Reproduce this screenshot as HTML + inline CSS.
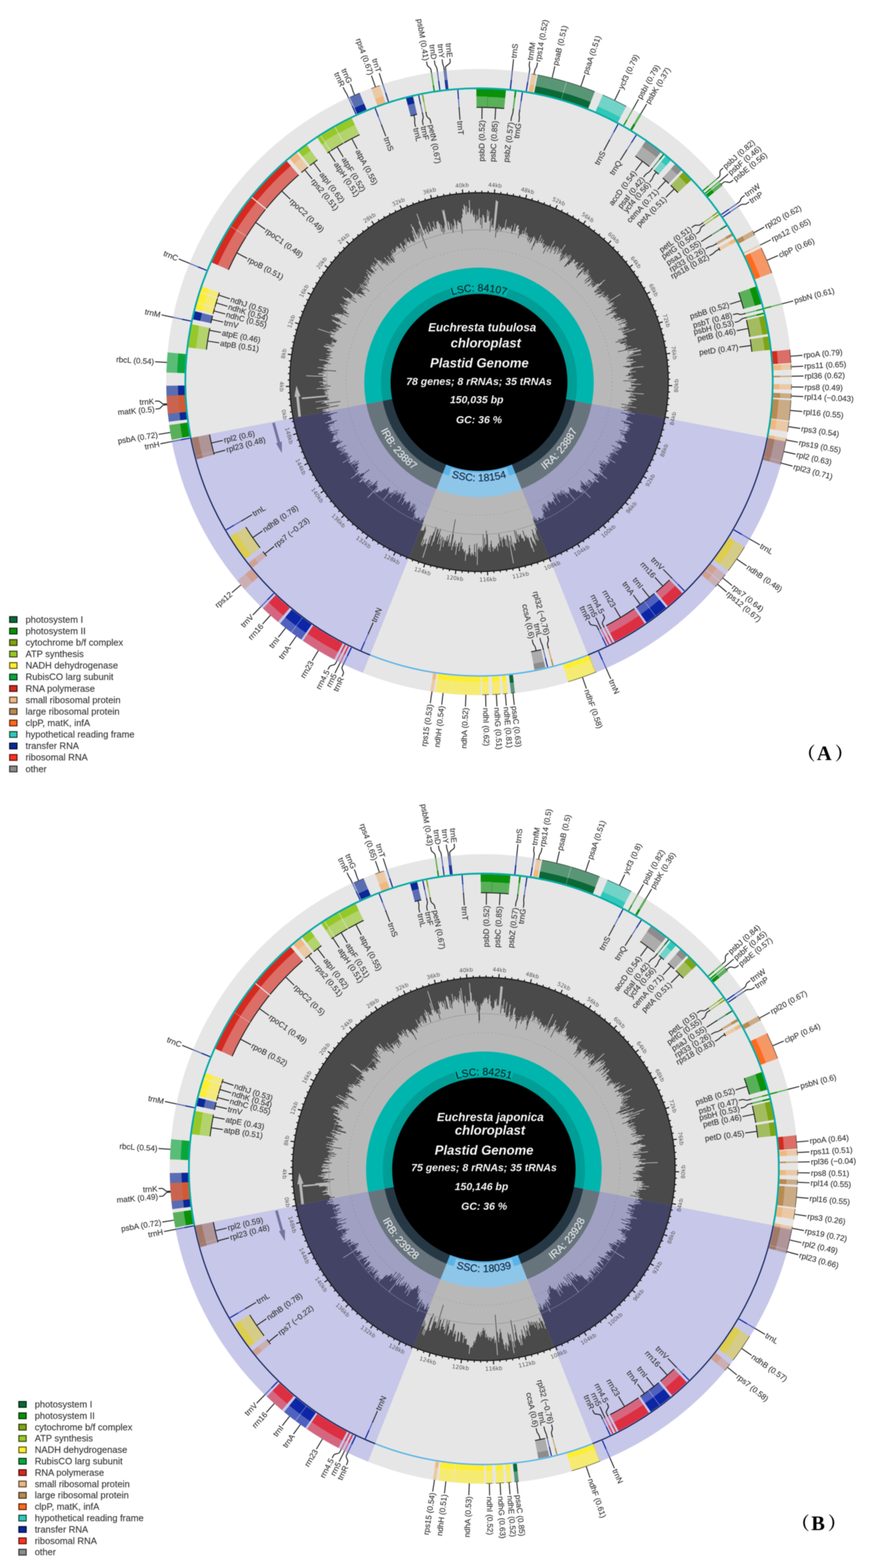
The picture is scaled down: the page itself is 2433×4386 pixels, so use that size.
<!DOCTYPE html>
<html lang="en"><head><meta charset="utf-8"><title>Euchresta plastid genomes</title>
<style>html,body{margin:0;padding:0;background:#fff}svg{display:block;filter:blur(0.85px)}</style></head><body>
<svg width="2433" height="4386" viewBox="0 0 2433 4386">
<rect width="2433" height="4386" fill="#fff"/>
<ellipse cx="1339.6" cy="1068.8" rx="875" ry="875.9" fill="#e6e6e6"/>
<ellipse cx="1339.6" cy="1068.8" rx="529.4" ry="529.9" fill="#b8b8b8"/>
<path d="M819.7 1169A529.4 529.9 0 1 1 1859.4 1169.4L1744.6 1147.2 L1744.9 1145.4L1753.5 1147 L1753.9 1145.1L1755.4 1145.4 L1755.7 1143.5L1737.4 1140.2 L1737.7 1138.5L1759.5 1142.3 L1759.8 1140.4L1746.5 1138.1 L1746.9 1136.3L1778.8 1141.6 L1779.1 1139.6L1754.5 1135.7 L1754.8 1133.8L1737.4 1131.1 L1737.7 1129.3L1757.2 1132.3 L1757.5 1130.4L1766.9 1131.8 L1767.2 1129.8L1757 1128.4 L1757.2 1126.5L1758.3 1126.7 L1758.6 1124.8L1765.6 1125.7 L1765.9 1123.8L1772.2 1124.6 L1772.5 1122.7L1765.6 1121.8 L1765.8 1119.9L1762.5 1119.5 L1762.7 1117.6L1780.1 1119.6 L1780.4 1117.6L1777.8 1117.4 L1778 1115.4L1757.1 1113.2 L1757.3 1111.3L1758 1111.4 L1758.2 1109.5L1761.2 1109.8 L1761.3 1107.9L1776 1109.2 L1776.2 1107.3L1763.7 1106.2 L1763.8 1104.3L1771 1104.9 L1771.1 1102.9L1761.3 1102.1 L1761.4 1100.2L1800.5 1103.2 L1800.6 1101.1L1768.1 1098.8 L1768.2 1096.9L1752 1095.8 L1752.2 1094L1748.4 1093.7 L1748.5 1091.9L1773.6 1093.3 L1773.7 1091.4L1768.3 1091.1 L1768.4 1089.2L1774.9 1089.5 L1775 1087.5L1759 1086.8 L1759.1 1084.9L1776.6 1085.6 L1776.7 1083.7L1779 1083.7 L1779.1 1081.8L1765.9 1081.4 L1765.9 1079.5L1764.5 1079.4 L1764.6 1077.5L1764.7 1077.5 L1764.7 1075.6L1792.6 1076.1 L1792.6 1074L1773.7 1073.8 L1773.7 1071.9L1765.5 1071.8 L1765.5 1069.9L1762.6 1069.9 L1762.6 1068L1774.2 1068 L1774.2 1066L1742.8 1066.2 L1742.8 1064.4L1779.1 1064 L1779.1 1062L1780.6 1062 L1780.5 1060L1756.6 1060.5 L1756.6 1058.6L1763.4 1058.5 L1763.4 1056.5L1760.1 1056.6 L1760 1054.8L1766.3 1054.5 L1766.2 1052.6L1771.2 1052.4 L1771.1 1050.5L1750.7 1051.4 L1750.6 1049.5L1756.4 1049.2 L1756.3 1047.4L1757.9 1047.3 L1757.8 1045.4L1756.7 1045.5 L1756.6 1043.6L1763.9 1043.2 L1763.7 1041.3L1778.2 1040.3 L1778.1 1038.4L1760.5 1039.6 L1760.4 1037.7L1761.4 1037.6 L1761.2 1035.7L1764 1035.5 L1763.9 1033.6L1766.6 1033.4 L1766.4 1031.4L1771.1 1031 L1770.9 1029.1L1800.1 1026.4 L1799.9 1024.3L1753.6 1028.8 L1753.4 1027L1748.9 1027.4 L1748.7 1025.6L1742.5 1026.2 L1742.3 1024.4L1765.3 1021.9 L1765.1 1020L1765.3 1020 L1765.1 1018L1764.4 1018.1 L1764.2 1016.2L1770.4 1015.4 L1770.2 1013.5L1778.2 1012.5 L1777.9 1010.5L1760.8 1012.8 L1760.6 1010.9L1752.8 1012 L1752.5 1010.1L1770.9 1007.5 L1770.6 1005.6L1769.9 1005.7 L1769.6 1003.7L1759.7 1005.2 L1759.4 1003.3L1751.5 1004.6 L1751.2 1002.7L1757.7 1001.7 L1757.4 999.8L1753.2 1000.5 L1752.9 998.6L1793 991.8 L1792.6 989.8L1759.1 995.6 L1758.7 993.8L1765.3 992.6 L1765 990.7L1773.1 989.2 L1772.8 987.2L1769.4 987.9 L1769 985.9L1791.5 981.6 L1791.1 979.6L1792.6 979.3 L1792.2 977.2L1771.3 981.5 L1770.9 979.5L1756.3 982.5 L1756 980.7L1782.2 975.1 L1781.8 973.1L1728.3 984.7 L1727.9 983L1747.2 978.7 L1746.8 976.9L1751 975.9 L1750.6 974.1L1750 974.2 L1749.5 972.4L1764.5 968.8 L1764 966.9L1749.3 970.5 L1748.8 968.6L1751.6 968 L1751.1 966.1L1753.5 965.5 L1753.1 963.7L1744.9 965.7 L1744.4 963.9L1747.9 963 L1747.4 961.2L1749.5 960.6 L1749 958.8L1735.7 962.4 L1735.3 960.6L1735.8 960.4 L1735.3 958.7L1732.5 959.4 L1732 957.7L1753 951.7 L1752.5 949.9L1721.6 958.8 L1721.1 957.1L1741.6 951.1 L1741 949.3L1728.4 953 L1727.9 951.3L1746.5 945.6 L1746 943.8L1754.6 941.2 L1754 939.3L1751.7 940 L1751.1 938.2L1750.2 938.5 L1749.6 936.6L1743.7 938.5 L1743.1 936.7L1742.2 937 L1741.7 935.2L1746.3 933.6 L1745.7 931.8L1777.2 921.2 L1776.5 919.2L1741 931.4 L1740.3 929.6L1740.1 929.7 L1739.4 927.9L1759.4 920.8 L1758.7 919L1746.4 923.4 L1745.7 921.5L1737.8 924.4 L1737.1 922.6L1745.1 919.7 L1744.4 917.9L1729.8 923.4 L1729.1 921.6L1753.9 912.2 L1753.2 910.4L1748 912.4 L1747.2 910.6L1751.7 908.8 L1751 907L1748.7 907.9 L1748 906L1754.2 903.6 L1753.5 901.7L1743.4 905.7 L1742.7 903.9L1730.4 909 L1729.7 907.2L1751.9 898 L1751.2 896.1L1748.9 897.1 L1748.1 895.3L1736.9 900 L1736.1 898.2L1748.5 892.9 L1747.7 891.1L1740.5 894.2 L1739.7 892.4L1728.6 897.3 L1727.8 895.6L1722.5 898 L1721.7 896.3L1735.7 889.9 L1734.9 888.2L1733.2 888.9 L1732.4 887.2L1720 892.9 L1719.2 891.2L1720.2 890.7 L1719.4 889L1719.9 888.8 L1719.1 887.1L1709.5 891.6 L1708.7 890L1716.7 886.1 L1715.9 884.4L1715.6 884.6 L1714.8 882.9L1725.7 877.5 L1724.9 875.7L1722.1 877.1 L1721.3 875.4L1717.4 877.3 L1716.5 875.7L1721.3 873.2 L1720.4 871.5L1708.6 877.6 L1707.8 875.9L1694.7 882.8 L1693.9 881.2L1713 871.1 L1712.1 869.4L1708.5 871.3 L1707.6 869.6L1724.5 860.5 L1723.6 858.8L1711.8 865.2 L1710.9 863.6L1716.9 860.3 L1715.9 858.6L1703.4 865.5 L1702.5 863.9L1695.5 867.9 L1694.6 866.3L1711.3 856.7 L1710.4 855.1L1717.3 851 L1716.3 849.4L1709.9 853.1 L1708.9 851.5L1716.8 846.8 L1715.8 845.1L1711.9 847.4 L1710.9 845.8L1701.8 851.2 L1700.8 849.6L1703.4 848 L1702.5 846.4L1705.3 844.6 L1704.3 843L1735.5 823.7 L1734.4 821.9L1699.2 843.9 L1698.2 842.3L1700.9 840.6 L1699.9 839L1705.3 835.5 L1704.3 833.9L1695.1 839.7 L1694.1 838.1L1701.6 833.3 L1700.5 831.7L1700.2 831.9 L1699.1 830.3L1693.6 833.9 L1692.6 832.3L1701.6 826.3 L1700.5 824.6L1688.3 832.9 L1687.3 831.3L1688.6 830.4 L1687.6 828.8L1685.4 830.3 L1684.3 828.7L1690.5 824.4 L1689.4 822.9L1674.8 833.1 L1673.7 831.6L1684.8 823.8 L1683.7 822.3L1690.8 817.1 L1689.7 815.6L1679.1 823.3 L1677.9 821.7L1675.1 823.8 L1674 822.3L1672.1 823.7 L1671 822.2L1665.7 826.2 L1664.6 824.7L1678.4 814.4 L1677.2 812.8L1668.3 819.6 L1667.1 818.2L1673.4 813.4 L1672.2 811.9L1663.2 818.9 L1662.1 817.4L1662.8 816.9 L1661.6 815.4L1673.5 806.1 L1672.3 804.6L1669.1 807.1 L1668 805.7L1683.9 792.9 L1682.7 791.3L1692.4 783.5 L1691.1 781.9L1674.1 795.8 L1672.8 794.3L1672.9 794.3 L1671.7 792.8L1658.5 803.7 L1657.3 802.2L1655.5 803.8 L1654.3 802.4L1660.1 797.5 L1658.9 796L1656.1 798.4 L1654.9 797L1653.8 797.9 L1652.6 796.5L1659 790.9 L1657.8 789.4L1644 801.6 L1642.8 800.2L1653.4 790.8 L1652.1 789.4L1656.5 785.5 L1655.3 784.1L1653 786.1 L1651.7 784.7L1655.8 781 L1654.5 779.5L1644.3 788.9 L1643 787.6L1636.7 793.4 L1635.5 792.1L1652.6 776.1 L1651.2 774.7L1646.1 779.6 L1644.8 778.2L1635.8 786.8 L1634.5 785.5L1650.7 769.9 L1649.4 768.5L1646.3 771.5 L1644.9 770.2L1645.2 769.9 L1643.8 768.6L1647.2 765.2 L1645.8 763.8L1641.7 768 L1640.3 766.6L1647.7 759.3 L1646.3 757.9L1635 769.3 L1633.7 768L1646.8 754.5 L1645.4 753.1L1632 767 L1630.6 765.7L1635 761.1 L1633.6 759.8L1631.3 762.3 L1629.9 761L1634.2 756.4 L1632.8 755L1612.3 777 L1611 775.8L1616.9 769.4 L1615.6 768.1L1634 748.1 L1632.6 746.8L1629.6 750 L1628.1 748.7L1627.7 749.2 L1626.3 747.9L1621.4 753.3 L1620 752.1L1617.2 755.3 L1615.8 754L1631.6 736 L1630.1 734.6L1613.1 754.3 L1611.6 753.1L1613.8 750.6 L1612.4 749.3L1615.3 745.9 L1613.9 744.6L1611.4 747.5 L1610 746.3L1610.3 745.9 L1608.9 744.7L1617.7 734 L1616.2 732.8L1615.2 734.1 L1613.7 732.8L1611.9 735 L1610.4 733.8L1607.5 737.4 L1606 736.2L1605.9 736.3 L1604.4 735.1L1607.9 730.7 L1606.4 729.5L1608.3 727.1 L1606.7 725.9L1606.8 725.8 L1605.3 724.6L1597.8 734.4 L1596.3 733.2L1589.9 741.4 L1588.5 740.3L1589.3 739.2 L1587.9 738.1L1582.2 745.5 L1580.8 744.5L1578.6 747.4 L1577.1 746.3L1598.3 717.7 L1596.7 716.5L1589.6 726.2 L1588.1 725.1L1597.2 712.5 L1595.6 711.4L1588.4 721.4 L1586.8 720.3L1590.9 714.5 L1589.3 713.4L1585.1 719.5 L1583.5 718.4L1585.7 715.1 L1584.1 714L1576.9 724.5 L1575.4 723.4L1585 709.4 L1583.4 708.3L1570 728.1 L1568.4 727.1L1566 730.7 L1564.5 729.7L1574.3 714.9 L1572.7 713.9L1566.7 723.1 L1565.1 722L1568.5 716.9 L1566.9 715.8L1571.9 708.1 L1570.3 707L1569.9 707.6 L1568.3 706.6L1581.7 685.3 L1580 684.2L1564.4 709.2 L1562.7 708.2L1569.8 696.9 L1568.1 695.8L1558.6 711.4 L1557 710.4L1562 702.1 L1560.3 701.2L1563.2 696.3 L1561.6 695.3L1563.2 692.5 L1561.5 691.5L1550 711.2 L1548.4 710.2L1560.3 689.7 L1558.6 688.7L1550.7 702.4 L1549.1 701.5L1550.6 698.9 L1548.9 697.9L1554.1 688.8 L1552.3 687.9L1550.2 691.8 L1548.5 690.8L1538.9 708.1 L1537.3 707.2L1545.5 692.2 L1543.8 691.3L1539.8 698.7 L1538.2 697.8L1551 673.9 L1549.2 672.9L1537.4 695.2 L1535.7 694.3L1530.5 704.3 L1528.8 703.5L1537 687.7 L1535.3 686.8L1533.3 690.7 L1531.6 689.9L1531.3 690.4 L1529.6 689.5L1519.7 709.3 L1518.1 708.5L1528.6 687.2 L1526.9 686.4L1525.5 689.3 L1523.8 688.4L1521.2 693.9 L1519.5 693.1L1519.8 692.4 L1518.1 691.6L1522.9 681.5 L1521.2 680.7L1518.4 686.5 L1516.7 685.7L1519.3 680.2 L1517.5 679.4L1521.3 671.2 L1519.5 670.4L1515.2 680 L1513.4 679.2L1512.8 680.6 L1511.1 679.8L1516.7 666.9 L1514.9 666.2L1510.9 675.3 L1509.2 674.6L1507.1 679.4 L1505.3 678.6L1514.2 657.7 L1512.4 657L1502.3 681 L1500.5 680.3L1501.2 678.7 L1499.4 678L1501.6 672.7 L1499.8 672L1493.1 688.6 L1491.4 687.9L1486.7 699.7 L1485 699.1L1497.9 666.5 L1496.1 665.8L1495.1 668.2 L1493.3 667.5L1495.8 661.1 L1493.9 660.4L1492.7 663.6 L1490.9 662.9L1485.7 677 L1483.9 676.4L1482.1 681.3 L1480.4 680.6L1486.2 664.6 L1484.4 664L1481.8 671.2 L1480 670.6L1477.7 677 L1476 676.4L1480.7 662.7 L1478.9 662.1L1475.5 672 L1473.7 671.4L1477.4 660.4 L1475.6 659.8L1475.9 659 L1474 658.4L1475.8 653 L1473.9 652.4L1471.8 659 L1469.9 658.4L1472.6 650.2 L1470.7 649.6L1469 655.1 L1467.1 654.5L1472.6 636.5 L1470.7 636L1464.7 655.8 L1462.8 655.2L1463.1 654.2 L1461.3 653.7L1463.9 644.8 L1462 644.3L1458.5 656.4 L1456.6 655.9L1456.9 655 L1455 654.4L1454.1 657.9 L1452.2 657.4L1449.7 666.4 L1447.9 665.9L1451.9 651 L1450.1 650.5L1452.7 640.7 L1450.7 640.2L1450.5 641 L1448.6 640.5L1451.2 630.4 L1449.2 629.9L1449.2 629.8 L1447.3 629.3L1446.4 632.8 L1444.5 632.3L1440.8 647.4 L1439 646.9L1439.1 646.4 L1437.2 645.9L1441.9 625.6 L1439.9 625.2L1435.2 645.9 L1433.3 645.5L1431.5 653.8 L1429.6 653.4L1431.1 646.7 L1429.2 646.3L1432.5 630.6 L1430.5 630.2L1428.5 639.8 L1426.6 639.4L1426.3 640.8 L1424.4 640.4L1425.4 635.4 L1423.5 635L1422.8 638.6 L1420.8 638.2L1421.3 636 L1419.3 635.6L1419.5 634.7 L1417.5 634.4L1416 642.7 L1414.1 642.4L1414.3 641.1 L1412.4 640.8L1416.9 614.4 L1414.9 614.1L1411 637.5 L1409.1 637.1L1409.2 636.1 L1407.3 635.8L1406.8 638.8 L1404.9 638.5L1404.6 640.6 L1402.7 640.3L1401.5 648.1 L1399.6 647.8L1401.5 634.6 L1399.6 634.4L1399.6 633.8 L1397.7 633.5L1396.3 643.6 L1394.4 643.4L1396.4 628.4 L1394.4 628.2L1391.7 650.1 L1389.8 649.9L1391.1 639.1 L1389.1 638.9L1386.2 664.5 L1384.4 664.3L1386.6 644 L1384.7 643.8L1393.2 563.6 L1391 563.3L1391 562.8 L1388.8 562.6L1389 559.8 L1386.7 559.6L1379.5 637.6 L1377.6 637.4L1378.3 629.2 L1376.3 629L1375.9 634.3 L1373.9 634.2L1375.8 610.4 L1373.8 610.2L1370.9 648.8 L1369 648.6L1371.2 617.4 L1369.2 617.3L1369.1 618.5 L1367.1 618.3L1368.7 591.6 L1366.6 591.5L1365.8 605.1 L1363.7 605L1364.7 586.9 L1362.5 586.8L1360.8 622.2 L1358.8 622.1L1358.8 622.4 L1356.8 622.4L1356.8 621.3 L1354.8 621.2L1355.3 609 L1353.2 608.9L1353.4 602.5 L1351.3 602.5L1351.3 600.8 L1349.2 600.8L1348.4 639 L1346.5 639L1347 609.1 L1344.9 609.1L1344.7 628.6 L1342.7 628.6L1342.9 608.5 L1340.8 608.5L1340.9 584.1 L1338.7 584.1L1338.8 613 L1336.7 613L1336.7 616.8 L1334.7 616.8L1334.6 602 L1332.5 602L1332.7 618.7 L1330.7 618.8L1330.8 623.3 L1328.8 623.4L1328.2 599 L1326.1 599.1L1326.3 606.8 L1324.3 606.9L1324.1 601.8 L1322 601.9L1321.4 586.6 L1319.3 586.7L1319.5 593.6 L1317.4 593.7L1317.6 598.5 L1315.5 598.6L1313.5 559.5 L1311.2 559.7L1312.5 581.3 L1310.3 581.4L1311 593.9 L1308.9 594L1308.8 593.1 L1306.7 593.3L1305.6 576.7 L1303.4 576.9L1305 599.4 L1302.9 599.6L1301.1 576.2 L1298.9 576.4L1298.5 571.8 L1296.3 572L1297.5 586.7 L1295.4 586.9L1295 583.2 L1292.9 583.4L1294.4 598.9 L1292.3 599.1L1293.3 609.1 L1291.2 609.4L1291.4 611.2 L1289.3 611.4L1294 653.5 L1292.1 653.7L1288.8 624.6 L1286.8 624.8L1286.5 622.2 L1284.5 622.4L1284.4 621.8 L1282.4 622.1L1281.6 616 L1279.6 616.3L1280.1 619.8 L1278 620L1279.3 629.5 L1277.4 629.8L1278.9 640.7 L1277 641L1273.5 617 L1271.5 617.3L1270.7 612.2 L1268.6 612.5L1271.3 629.6 L1269.3 629.9L1270.7 638.5 L1268.8 638.8L1267.7 632.3 L1265.8 632.6L1268.9 650.9 L1267 651.3L1262.4 625.1 L1260.4 625.4L1263.1 640.4 L1261.2 640.8L1261.8 644.1 L1259.9 644.4L1255.5 620.8 L1253.5 621.2L1253 618.7 L1251 619.1L1255.5 642.4 L1253.6 642.7L1242.3 586.5 L1240.1 586.9L1240.8 590.3 L1238.7 590.7L1237.8 586.7 L1235.7 587.1L1244.7 629.1 L1242.7 629.6L1244.1 635.7 L1242.2 636.1L1244.9 648.2 L1243 648.6L1240.7 638.4 L1238.7 638.9L1242.2 653.8 L1240.4 654.2L1234.1 628 L1232.1 628.4L1236.9 648.1 L1235 648.6L1229.1 625 L1227.2 625.5L1225 617.2 L1223 617.7L1223.9 621.1 L1221.9 621.6L1221.4 619.6 L1219.3 620.1L1221.7 629.1 L1219.8 629.6L1222.2 638.7 L1220.3 639.2L1220.5 639.8 L1218.6 640.3L1212.3 618.3 L1210.3 618.9L1216.6 640.8 L1214.7 641.3L1212.8 634.8 L1210.8 635.4L1210.7 635.1 L1208.8 635.6L1211.2 643.6 L1209.3 644.1L1210.2 647 L1208.3 647.6L1199.8 620.5 L1197.8 621.1L1205.7 646 L1203.8 646.6L1203.9 646.9 L1202 647.5L1202.2 648.1 L1200.3 648.7L1194.9 632.4 L1193 633.1L1200.1 654.2 L1198.2 654.8L1196.2 649.1 L1194.4 649.7L1190.6 638.7 L1188.6 639.4L1189.6 642.3 L1187.7 643L1191.7 654 L1189.8 654.7L1185.6 643 L1183.7 643.7L1166.8 597.7 L1164.7 598.5L1172.4 619.2 L1170.4 620L1184.7 658 L1182.9 658.7L1174.9 637.7 L1172.9 638.5L1194.6 694.3 L1192.9 694.9L1171.8 641.3 L1169.9 642.1L1174.4 653.3 L1172.5 654L1174.9 660 L1173.1 660.8L1168.7 649.9 L1166.8 650.7L1173.2 666.1 L1171.4 666.9L1166.7 655.6 L1164.8 656.4L1155.3 633.9 L1153.3 634.7L1150 626.9 L1148 627.7L1165.7 668.6 L1163.9 669.4L1153.2 645 L1151.3 645.8L1156.7 657.8 L1154.8 658.6L1159.6 669.3 L1157.8 670.1L1160.9 676.8 L1159.1 677.6L1157.5 674.1 L1155.7 674.9L1156.7 677.1 L1155 677.9L1152.8 673.3 L1151 674.1L1150.4 672.8 L1148.6 673.6L1144 664.1 L1142.2 665L1147.3 675.5 L1145.6 676.4L1147.6 680.4 L1145.8 681.3L1142.8 675.2 L1141 676.1L1141 676 L1139.2 676.9L1133.9 666.4 L1132.1 667.3L1138.6 680 L1136.9 680.9L1131.3 670.2 L1129.5 671.2L1138.7 688.6 L1137 689.5L1134.1 684.1 L1132.4 685L1132.4 684.9 L1130.6 685.9L1131.2 686.9 L1129.5 687.8L1132.6 693.4 L1130.9 694.4L1135.1 701.9 L1133.4 702.8L1120.1 679.1 L1118.3 680.1L1119.8 682.6 L1118 683.6L1130.5 705.2 L1128.8 706.1L1120.7 692.2 L1119 693.2L1120 694.7 L1118.3 695.7L1117.3 694.1 L1115.7 695.1L1112.2 689.4 L1110.5 690.4L1109.1 688 L1107.4 689L1111.5 695.8 L1109.8 696.8L1107.2 692.6 L1105.5 693.6L1107.4 696.6 L1105.7 697.6L1108 701.4 L1106.4 702.4L1106.9 703.1 L1105.2 704.2L1106.1 705.5 L1104.4 706.5L1098 696.6 L1096.3 697.6L1102.9 707.7 L1101.2 708.7L1100.3 707.2 L1098.6 708.3L1094.2 701.7 L1092.6 702.8L1099 712.3 L1097.4 713.4L1095.3 710.3 L1093.7 711.4L1104 726.5 L1102.5 727.5L1094 715.3 L1092.4 716.4L1104.3 733.3 L1102.8 734.3L1101.9 733.2 L1100.4 734.2L1096.8 729.2 L1095.3 730.3L1084.4 715.2 L1082.8 716.3L1096.4 735 L1094.9 736.1L1089.4 728.6 L1087.9 729.8L1091.7 734.9 L1090.2 736L1085 729 L1083.4 730.1L1075.5 719.6 L1073.9 720.8L1086.1 736.8 L1084.6 737.9L1088 742.3 L1086.5 743.4L1079.8 734.7 L1078.3 735.9L1082.5 741.3 L1081.1 742.5L1076.1 736.2 L1074.6 737.4L1073.2 735.6 L1071.7 736.8L1064.5 727.9 L1063 729.1L1070.9 738.8 L1069.4 740.1L1059 727.4 L1057.5 728.7L1056.9 728 L1055.4 729.3L1048.2 720.7 L1046.7 722L1056.9 734.1 L1055.4 735.4L1072.7 755.6 L1071.3 756.8L1052.5 735 L1051 736.3L1052.6 738.2 L1051.2 739.5L1052.7 741.2 L1051.2 742.5L1043.8 734.1 L1042.3 735.5L1050.3 744.4 L1048.8 745.7L1048 744.8 L1046.6 746.1L1041.7 740.7 L1040.2 742.1L1053.7 756.8 L1052.3 758.1L1037.7 742.3 L1036.2 743.6L1039.8 747.5 L1038.4 748.9L1037 747.4 L1035.6 748.8L1046.6 760.4 L1045.3 761.7L1048.5 765.1 L1047.1 766.4L1042.1 761.2 L1040.8 762.6L1042.2 764 L1040.8 765.4L1034.4 758.9 L1033 760.3L1026.8 754 L1025.4 755.4L1038.2 768.2 L1036.9 769.5L1039.8 772.4 L1038.5 773.8L1024.9 760.4 L1023.5 761.8L1029.8 768 L1028.4 769.4L1028.7 769.6 L1027.3 771L1029.5 773 L1028.1 774.4L1034.1 780.1 L1032.8 781.5L1033 781.6 L1031.7 782.9L1020.5 772.6 L1019.2 774L1032 785.8 L1030.7 787.2L1024.5 781.5 L1023.2 782.9L1032.9 791.7 L1031.6 793L1019.6 782.3 L1018.4 783.7L1022.5 787.4 L1021.2 788.8L1027.7 794.5 L1026.5 796L1018.1 788.6 L1016.8 790.1L1028.5 800.1 L1027.3 801.5L1023.5 798.3 L1022.3 799.7L1020.6 798.3 L1019.4 799.7L1013.5 794.8 L1012.3 796.3L1034.1 814.4 L1032.9 815.7L1006.5 793.9 L1005.3 795.4L1022.8 809.8 L1021.6 811.2L1008.2 800.3 L1007 801.8L1017.7 810.4 L1016.5 811.8L1015.4 811 L1014.3 812.4L1010.6 809.5 L1009.5 811L1013.1 813.8 L1011.9 815.3L1020.4 821.8 L1019.2 823.2L1016.8 821.3 L1015.6 822.8L1022.1 827.7 L1021 829.1L1013.9 823.7 L1012.8 825.2L1006.5 820.5 L1005.4 822L1004.5 821.3 L1003.4 822.9L999.5 820 L998.4 821.5L1012.2 831.6 L1011.1 833L994.4 821 L993.2 822.5L992.2 821.8 L991.1 823.4L964.4 804.5 L963.2 806.2L980 817.9 L978.9 819.6L984.1 823.2 L983 824.8L987.4 827.8 L986.3 829.4L984.4 828 L983.3 829.6L994.4 837.1 L993.3 838.6L983.9 832.4 L982.9 834L982.6 833.8 L981.6 835.4L997.1 845.5 L996.1 847.1L972.4 831.8 L971.3 833.4L971.1 833.3 L970.1 835L968 833.7 L967 835.3L957.5 829.4 L956.5 831.1L962.7 835 L961.6 836.7L979.8 847.8 L978.8 849.5L968.5 843.2 L967.5 844.8L974.3 848.9 L973.3 850.6L963.9 845 L962.9 846.7L973.1 852.7 L972.1 854.3L970.5 853.4 L969.6 855.1L962.2 850.8 L961.3 852.5L963.6 853.9 L962.6 855.6L951.6 849.3 L950.6 851.1L972 863 L971.1 864.7L955.5 856 L954.5 857.8L961.8 861.8 L960.9 863.5L960 863 L959.1 864.7L966.7 868.8 L965.8 870.5L969.8 872.6 L968.9 874.2L976.7 878.3 L975.8 879.9L970.2 877 L969.4 878.7L962.3 875 L961.4 876.7L962.4 877.3 L961.6 879L974.7 885.5 L973.9 887.2L958.3 879.4 L957.4 881.1L951 878 L950.2 879.8L941.7 875.6 L940.9 877.4L945.9 879.8 L945 881.6L936.5 877.6 L935.6 879.4L936.8 879.9 L936 881.7L937 882.2 L936.2 884L928.1 880.3 L927.3 882.2L950.1 892.5 L949.3 894.3L953.2 896 L952.5 897.8L953.3 898.1 L952.5 899.9L969 907.1 L968.3 908.7L946.6 899.4 L945.9 901.2L929.2 894.1 L928.4 895.9L931 897 L930.2 898.8L938.4 902.2 L937.6 904L951.2 909.6 L950.5 911.3L950.3 911.2 L949.6 913L956.6 915.8 L956 917.5L953.1 916.4 L952.4 918.1L941.7 913.9 L941 915.7L940 915.4 L939.3 917.2L948 920.5 L947.4 922.2L943.4 920.8 L942.8 922.5L947 924.1 L946.4 925.9L931.9 920.6 L931.3 922.4L941.8 926.2 L941.2 928L940.1 927.6 L939.5 929.4L936.9 928.5 L936.3 930.3L923.2 925.8 L922.5 927.7L928.1 929.6 L927.5 931.4L889.8 918.9 L889.2 920.9L935.8 936.2 L935.2 938.1L927.2 935.5 L926.6 937.3L922.5 936 L921.9 937.9L925.5 939 L924.9 940.9L923.9 940.6 L923.3 942.4L932.5 945.2 L931.9 947L936.9 948.5 L936.3 950.3L943.4 952.4 L942.9 954.2L940.1 953.4 L939.6 955.2L940.4 955.4 L939.9 957.2L939.5 957.1 L939 958.9L927 955.6 L926.5 957.4L930.5 958.5 L930 960.4L928.4 959.9 L927.9 961.8L925.5 961.2 L925.1 963L935.7 965.7 L935.3 967.6L910.8 961.4 L910.3 963.4L933 968.9 L932.6 970.8L916.5 966.9 L916 968.8L905.6 966.3 L905.2 968.3L907.5 968.8 L907 970.8L921.1 973.9 L920.7 975.8L923.4 976.4 L923 978.3L916.4 976.9 L915.9 978.8L914.9 978.5 L914.5 980.5L929.7 983.6 L929.3 985.4L923.9 984.3 L923.5 986.2L924.7 986.5 L924.4 988.3L922.5 988 L922.2 989.8L912.6 988 L912.3 990L925.3 992.3 L924.9 994.2L921.9 993.7 L921.6 995.6L921.8 995.6 L921.5 997.5L915.1 996.4 L914.7 998.3L929.5 1000.7 L929.2 1002.6L916.9 1000.6 L916.6 1002.5L911.9 1001.7 L911.6 1003.7L922 1005.2 L921.7 1007.1L919.8 1006.8 L919.5 1008.7L892.8 1004.9 L892.5 1006.9L911.1 1009.5 L910.8 1011.4L917.1 1012.3 L916.9 1014.2L918.2 1014.3 L917.9 1016.2L925.2 1017.1 L925 1019L913.3 1017.6 L913.1 1019.5L908.3 1018.9 L908.1 1020.9L903 1020.3 L902.8 1022.3L908.2 1022.9 L908 1024.8L905.8 1024.6 L905.7 1026.5L912.2 1027.2 L912 1029.1L888.3 1026.9 L888.1 1028.9L904.3 1030.3 L904.2 1032.3L905.4 1032.4 L905.3 1034.4L940 1037.1 L939.8 1038.9L912.8 1036.9 L912.7 1038.8L904 1038.2 L903.9 1040.1L900.9 1039.9 L900.8 1041.9L909.4 1042.5 L909.3 1044.4L891.6 1043.4 L891.5 1045.4L889.6 1045.3 L889.5 1047.3L904.2 1048 L904.1 1050L901.9 1049.9 L901.8 1051.8L856.3 1050.1 L856.3 1052.3L911.8 1054.2 L911.8 1056.1L902.6 1055.8 L902.6 1057.8L902.3 1057.8 L902.3 1059.7L902.7 1059.7 L902.6 1061.7L907.8 1061.8 L907.8 1063.7L903.3 1063.7 L903.3 1065.6L912.7 1065.7 L912.7 1067.6L892.5 1067.6 L892.5 1069.6L903 1069.5 L903 1071.5L902.6 1071.5 L902.6 1073.5L904.8 1073.5 L904.8 1075.4L916.7 1075.2 L916.7 1077.1L895.9 1077.5 L895.9 1079.5L924.4 1078.8 L924.4 1080.7L905 1081.3 L905 1083.2L912.1 1083 L912.2 1084.9L885.2 1085.9 L885.3 1088L903.8 1087.2 L903.8 1089.1L920.6 1088.4 L920.7 1090.2L914.2 1090.6 L914.3 1092.5L907 1092.9 L907.1 1094.8L914.8 1094.4 L914.9 1096.3L906.6 1096.8 L906.8 1098.8L909.9 1098.5 L910.1 1100.5L911 1100.4 L911.1 1102.3L908.6 1102.5 L908.8 1104.5L918.3 1103.7 L918.5 1105.6L843.1 1112.1 L843.3 1114.4L845 1114.2 L845.2 1116.4L917.7 1109.5 L917.8 1111.3L914.8 1111.7 L915 1113.6L914.9 1113.6 L915.1 1115.5L919 1115.1 L919.2 1116.9L920.6 1116.8 L920.8 1118.7L882.3 1123.3 L882.6 1125.3L905.3 1122.5 L905.5 1124.4L907.2 1124.2 L907.4 1126.2L899.4 1127.2 L899.7 1129.2L951.8 1122.1 L952.1 1123.8L910.8 1129.7 L911.1 1131.6L913.4 1131.2 L913.7 1133.1L922 1131.9 L922.3 1133.8L919.8 1134.2 L920.1 1136L884.8 1141.7 L885.1 1143.8L946.6 1133.6 L946.9 1135.4L919 1140.1 L919.3 1142L902.1 1145 L902.5 1147L911.4 1145.4 L911.8 1147.3L902 1149.1 L902.4 1151L907.4 1150.1 L907.7 1152Z" fill="#4a4a4a"/>
<path d="M1859.4 1169.4A529.4 529.9 0 0 1 1535.4 1561.1L1493.5 1455.7 L1495.2 1455L1491.3 1445.4 L1493 1444.7L1497.5 1455.6 L1499.2 1454.9L1497 1449.5 L1498.7 1448.8L1502.7 1458.3 L1504.4 1457.6L1503.3 1455 L1505.1 1454.3L1505.6 1455.5 L1507.3 1454.8L1504.7 1448.7 L1506.4 1448L1506.2 1447.5 L1507.9 1446.7L1509.2 1449.8 L1510.9 1449L1511.7 1450.7 L1513.4 1449.9L1514.1 1451.3 L1515.8 1450.6L1515.7 1450.4 L1517.4 1449.6L1516.9 1448.6 L1518.6 1447.8L1516.6 1443.5 L1518.3 1442.7L1522.6 1451.8 L1524.4 1451L1517.8 1437.4 L1519.4 1436.6L1520.5 1438.7 L1522.1 1437.8L1514 1421.5 L1515.6 1420.7L1518.6 1426.8 L1520.2 1426L1520.3 1426.1 L1521.9 1425.3L1516.3 1414.3 L1517.8 1413.5L1527.1 1431.4 L1528.7 1430.6L1518.4 1410.8 L1519.9 1410L1523.8 1417.3 L1525.4 1416.5L1521.6 1409.4 L1523.1 1408.6L1530.1 1421.5 L1531.7 1420.6L1536 1428.6 L1537.6 1427.7L1530.3 1414.5 L1531.9 1413.6L1532.6 1415 L1534.2 1414.2L1530.9 1408.4 L1532.5 1407.5L1531.2 1405.4 L1532.7 1404.5L1531 1401.5 L1532.5 1400.6L1534.6 1404.2 L1536.1 1403.3L1537.6 1405.9 L1539.1 1405L1542.4 1410.6 L1543.9 1409.7L1541.4 1405.4 L1542.9 1404.5L1542.9 1404.6 L1544.5 1403.7L1543.3 1401.7 L1544.8 1400.8L1546.4 1403.5 L1547.9 1402.5L1554.2 1412.6 L1555.7 1411.6L1548.3 1399.8 L1549.7 1398.9L1546.3 1393.4 L1547.7 1392.5L1549 1394.5 L1550.5 1393.6L1550.7 1393.9 L1552.2 1393L1546.7 1384.7 L1548.2 1383.8L1543.7 1377 L1545 1376L1565.1 1406 L1566.6 1405L1550.4 1381 L1551.8 1380.1L1558.5 1389.8 L1559.9 1388.9L1557 1384.7 L1558.4 1383.7L1556.2 1380.5 L1557.6 1379.5L1558.8 1381.2 L1560.2 1380.2L1563.7 1385.2 L1565.2 1384.2L1561.2 1378.7 L1562.6 1377.7L1569.1 1386.6 L1570.5 1385.6L1566 1379.5 L1567.4 1378.5L1566.4 1377.1 L1567.8 1376.1L1572.8 1382.9 L1574.2 1381.8L1566.7 1371.8 L1568.1 1370.8L1576.4 1381.8 L1577.8 1380.7L1587.2 1393 L1588.6 1391.9L1573.7 1372.5 L1575.1 1371.5L1580.8 1378.8 L1582.2 1377.7L1586.1 1382.7 L1587.5 1381.6L1584.6 1377.9 L1586 1376.8L1589.2 1380.9 L1590.6 1379.7L1606.2 1399 L1607.6 1397.8L1589.9 1376 L1591.2 1374.9L1593.4 1377.6 L1594.8 1376.4L1591.5 1372.4 L1592.8 1371.2L1591.3 1369.4 L1592.7 1368.3L1588.6 1363.5 L1589.9 1362.4L1592.2 1365.1 L1593.5 1363.9L1600.2 1371.6 L1601.5 1370.5L1599.1 1367.6 L1600.4 1366.5L1601.4 1367.6 L1602.8 1366.4L1606.6 1370.7 L1607.9 1369.5L1614 1376.4 L1615.4 1375.2L1615.2 1374.9 L1616.5 1373.6L1615.1 1372.1 L1616.5 1370.9L1622.6 1377.5 L1624 1376.3L1626 1378.5 L1627.4 1377.2L1627 1376.8 L1628.4 1375.5L1632.5 1379.8 L1633.9 1378.5L1622 1366 L1623.3 1364.7L1650.6 1393.1 L1652 1391.7L1622.4 1361.1 L1623.7 1359.8L1623.9 1360.1 L1625.2 1358.8L1626.6 1360.2 L1627.9 1358.9L1623.3 1354.2 L1624.6 1353L1629.8 1358.2 L1631.1 1356.9L1624.6 1350.4 L1625.8 1349.1L1622.1 1345.5 L1623.4 1344.2L1639.4 1359.8 L1640.7 1358.5L1637.5 1355.4 L1638.8 1354.1L1649.4 1364.2 L1650.7 1362.8L1636.5 1349.3 L1637.7 1348L1644.8 1354.6 L1646.1 1353.2L1650.6 1357.4 L1651.9 1356L1642.1 1347 L1643.4 1345.7L1650.7 1352.4 L1652 1351L1643.7 1343.4 L1644.9 1342.1L1646.1 1343.2 L1647.4 1341.8L1658.1 1351.4 L1659.4 1349.9L1657.6 1348.4 L1658.9 1346.9L1660.5 1348.3 L1661.7 1346.9L1662.1 1347.2 L1663.3 1345.8L1656.4 1339.8 L1657.6 1338.4L1671.7 1350.3 L1673 1348.8L1673.9 1349.6 L1675.1 1348.1L1661.9 1337.1 L1663.1 1335.7L1665.3 1337.4 L1666.5 1336L1670 1338.8 L1671.2 1337.4L1660.8 1328.9 L1662 1327.5L1645.4 1314.2 L1646.4 1312.8L1660.9 1324.3 L1662.1 1322.8L1665.3 1325.4 L1666.5 1323.9L1674.3 1330 L1675.4 1328.5L1672.6 1326.3 L1673.7 1324.8L1674.2 1325.2 L1675.3 1323.7L1696.8 1339.9 L1698 1338.3L1685.2 1328.7 L1686.4 1327.2L1678.4 1321.2 L1679.5 1319.7L1675.3 1316.6 L1676.4 1315.1L1682.8 1319.7 L1683.9 1318.2L1680.1 1315.4 L1681.2 1313.9L1679.4 1312.6 L1680.5 1311.1L1675.5 1307.5 L1676.5 1306L1678.1 1307.1 L1679.2 1305.6L1678.6 1305.2 L1679.7 1303.7L1686 1308 L1687.1 1306.5L1677.6 1300 L1678.6 1298.4L1674.3 1295.5 L1675.3 1294L1680 1297.2 L1681.1 1295.7L1688.5 1300.6 L1689.5 1299L1675.5 1289.8 L1676.5 1288.3L1696.2 1301.1 L1697.2 1299.5L1693.5 1297.2 L1694.6 1295.6L1685 1289.5 L1686 1287.9L1698 1295.5 L1699 1293.9L1702.8 1296.3 L1703.8 1294.6L1704.1 1294.8 L1705.1 1293.2L1699.4 1289.6 L1700.4 1288L1701 1288.4 L1702 1286.8L1698.9 1284.9 L1699.9 1283.3L1719.8 1295.2 L1720.9 1293.5L1701.7 1282.2 L1702.6 1280.6L1694.7 1276 L1695.6 1274.4L1706.7 1280.7 L1707.6 1279.1L1704.8 1277.5 L1705.8 1275.8L1705.6 1275.8 L1706.6 1274.1L1709 1275.5 L1709.9 1273.8L1703.8 1270.4 L1704.7 1268.8L1708.4 1270.8 L1709.3 1269.2L1706.4 1267.6 L1707.3 1265.9L1712.1 1268.5 L1713 1266.8L1712.6 1266.6 L1713.5 1265L1727.7 1272.4 L1728.6 1270.7L1715.1 1263.7 L1716 1262L1722.8 1265.5 L1723.6 1263.7L1712.4 1258 L1713.2 1256.3L1723.4 1261.4 L1724.2 1259.7L1728.6 1261.9 L1729.5 1260.1L1718.5 1254.7 L1719.3 1253L1732.4 1259.4 L1733.2 1257.6L1710.4 1246.6 L1711.2 1245L1726.6 1252.3 L1727.4 1250.5L1736.7 1254.9 L1737.5 1253.1L1737.7 1253.2 L1738.5 1251.4L1737 1250.7 L1737.8 1248.9L1738.1 1249.1 L1738.9 1247.3L1734.5 1245.3 L1735.2 1243.5L1726.4 1239.6 L1727.2 1237.9L1720.7 1235 L1721.4 1233.3L1727.5 1235.9 L1728.2 1234.2L1733.2 1236.3 L1734 1234.5L1728.2 1232.1 L1728.9 1230.4L1745.7 1237.3 L1746.5 1235.5L1754.1 1238.6 L1754.8 1236.8L1749.3 1234.5 L1750 1232.7L1741.5 1229.3 L1742.3 1227.5L1748.1 1229.8 L1748.8 1227.9L1747.6 1227.5 L1748.3 1225.6L1745.6 1224.6 L1746.3 1222.8L1746.6 1222.9 L1747.3 1221.1L1745.5 1220.4 L1746.2 1218.6L1735.8 1214.8 L1736.5 1213L1744.3 1215.8 L1744.9 1214L1734.5 1210.3 L1735.2 1208.5L1749 1213.4 L1749.7 1211.5L1752.5 1212.5 L1753.1 1210.7L1732.2 1203.5 L1732.8 1201.7L1749.9 1207.5 L1750.5 1205.7L1752.4 1206.3 L1753.1 1204.4L1758.7 1206.3 L1759.3 1204.4L1755.2 1203.1 L1755.8 1201.2L1754.9 1200.9 L1755.5 1199.1L1761.9 1201.1 L1762.5 1199.2L1756.3 1197.3 L1756.9 1195.4L1759.1 1196 L1759.6 1194.2L1751.9 1191.8 L1752.4 1190L1758.4 1191.7 L1758.9 1189.9L1760.2 1190.2 L1760.8 1188.3L1744.3 1183.7 L1744.9 1181.9L1744.6 1181.8 L1745.1 1180L1736.7 1177.7 L1737.2 1175.9L1769.3 1184.5 L1769.8 1182.6L1762.5 1180.7 L1763 1178.8L1751.5 1175.8 L1751.9 1173.9L1750 1173.4 L1750.5 1171.6L1751.8 1171.9 L1752.2 1170.1L1752.4 1170.1 L1752.9 1168.2L1752.9 1168.3 L1753.4 1166.4L1755.1 1166.8 L1755.5 1164.9L1761.1 1166.2 L1761.5 1164.3L1755.1 1162.9 L1755.5 1161L1749.4 1159.6 L1749.8 1157.8L1735.9 1154.8 L1736.3 1153L1760.3 1158.1 L1760.7 1156.2L1775.7 1159.3 L1776.1 1157.4L1755.7 1153.2 L1756 1151.4L1765.4 1153.2 L1765.8 1151.3Z" fill="#4a4a4a"/>
<path d="M1535.4 1561.1A529.4 529.9 0 0 1 1143.4 1561L1181.1 1466.4 L1182.9 1467.1L1176.2 1484.2 L1178 1484.9L1178.8 1483 L1180.6 1483.7L1181 1482.8 L1182.8 1483.5L1182.5 1484.5 L1184.3 1485.2L1189.6 1471.1 L1191.4 1471.8L1189.5 1476.9 L1191.3 1477.6L1189.7 1482 L1191.6 1482.7L1176.7 1524.3 L1178.7 1525L1184.7 1508 L1186.7 1508.7L1180.1 1527.8 L1182.1 1528.5L1184.5 1521.5 L1186.6 1522.2L1191.8 1506.8 L1193.7 1507.5L1189.3 1520.7 L1191.4 1521.4L1191.3 1521.6 L1193.3 1522.3L1181.2 1559.7 L1183.4 1560.4L1203.4 1497.7 L1205.3 1498.3L1198.4 1520.1 L1200.5 1520.8L1207.6 1497.5 L1209.6 1498.1L1212.6 1488 L1214.5 1488.5L1218.9 1473.8 L1220.7 1474.3L1205.3 1526.9 L1207.4 1527.5L1211 1514.7 L1213 1515.3L1223.2 1479.6 L1225 1480.1L1224.8 1480.7 L1226.7 1481.2L1221.3 1501 L1223.2 1501.5L1226.3 1490.2 L1228.2 1490.7L1231.2 1479.1 L1233.1 1479.5L1222.1 1522 L1224.1 1522.5L1230.8 1496.2 L1232.7 1496.7L1230.1 1507.1 L1232.1 1507.6L1228.5 1522.3 L1230.5 1522.8L1235.8 1500.8 L1237.7 1501.3L1228.5 1540.4 L1230.6 1540.9L1239.3 1503.5 L1241.2 1503.9L1239.8 1509.9 L1241.8 1510.4L1237.6 1529.4 L1239.7 1529.8L1244 1509.8 L1246 1510.2L1245.2 1514 L1247.2 1514.4L1250.3 1499.3 L1252.3 1499.7L1249.3 1514.5 L1251.3 1514.9L1252.3 1509.6 L1254.3 1509.9L1257.2 1495 L1259.1 1495.3L1253 1527.9 L1255 1528.3L1257.1 1517.1 L1259.1 1517.4L1257.2 1528.2 L1259.2 1528.6L1272.5 1452.5 L1274.2 1452.8L1267.2 1494.3 L1269.1 1494.6L1261.8 1538.7 L1263.9 1539.1L1265.6 1528.2 L1267.7 1528.6L1269.3 1518.2 L1271.3 1518.5L1272.3 1511.9 L1274.3 1512.2L1271.8 1529.3 L1273.9 1529.6L1275.1 1521 L1277.1 1521.2L1272.9 1551.6 L1275.1 1551.9L1278.2 1528.8 L1280.3 1529.1L1281.5 1519.6 L1283.5 1519.8L1283.9 1516.7 L1285.9 1516.9L1283 1541.2 L1285.1 1541.5L1289.7 1501.8 L1291.6 1502L1288.8 1527.3 L1290.9 1527.5L1291.9 1518.3 L1293.9 1518.5L1292 1536.6 L1294.1 1536.8L1294.3 1535.5 L1296.4 1535.7L1295.9 1540.9 L1298 1541.1L1297.7 1544.8 L1299.8 1545L1300.3 1538.8 L1302.4 1538.9L1300.1 1568.9 L1302.3 1569.1L1303.8 1549.1 L1306 1549.2L1305.7 1552.2 L1307.9 1552.4L1308.3 1547 L1310.4 1547.2L1311.8 1524.3 L1313.8 1524.4L1313.4 1533.1 L1315.4 1533.2L1314.6 1549.2 L1316.8 1549.3L1316.5 1554.5 L1318.7 1554.6L1319.1 1545.8 L1321.2 1545.9L1321 1550.6 L1323.2 1550.7L1323.1 1553.2 L1325.3 1553.3L1326.2 1521.9 L1328.2 1521.9L1327.7 1544.5 L1329.8 1544.5L1329.5 1556.9 L1331.7 1556.9L1332.3 1519.8 L1334.4 1519.8L1333.7 1580.5 L1335.9 1580.5L1336.3 1535.4 L1338.4 1535.4L1338.4 1529.2 L1340.4 1529.2L1340.5 1535.1 L1342.5 1535L1342.6 1541.1 L1344.7 1541.1L1344.6 1529.2 L1346.6 1529.1L1346.8 1543 L1349 1542.9L1348.8 1535.9 L1350.9 1535.9L1349.9 1494.1 L1351.8 1494.1L1352.9 1531.5 L1355 1531.4L1354.1 1505.2 L1356.1 1505.1L1356.8 1525 L1358.9 1525L1358.7 1522.1 L1360.8 1522L1359 1484 L1360.9 1483.9L1361.4 1493.7 L1363.3 1493.6L1365.9 1540.1 L1368 1540L1367.4 1530.5 L1369.5 1530.3L1370.4 1544.1 L1372.5 1544L1371 1522.7 L1373 1522.5L1372.3 1512.2 L1374.3 1512L1375.7 1530.2 L1377.8 1530L1378.7 1541.9 L1380.9 1541.7L1380 1532 L1382.1 1531.8L1382.4 1535.6 L1384.5 1535.4L1384.5 1534.7 L1386.6 1534.5L1386 1529.3 L1388.1 1529.1L1387.9 1527.6 L1390 1527.4L1391.6 1541.6 L1393.7 1541.3L1391.4 1521.5 L1393.4 1521.3L1393.2 1519.1 L1395.2 1518.8L1396.3 1527.4 L1398.3 1527.2L1393.9 1493.1 L1395.8 1492.9L1398.6 1513.5 L1400.6 1513.2L1399.2 1503 L1401.1 1502.7L1405 1529.9 L1407 1529.6L1404.2 1510.1 L1406.2 1509.8L1405.5 1505.4 L1407.5 1505.1L1406.8 1500.9 L1408.7 1500.5L1410 1508.2 L1411.9 1507.9L1415.2 1527.8 L1417.3 1527.4L1414 1508.3 L1416 1508L1420 1531.1 L1422.1 1530.8L1416 1496.5 L1417.9 1496.2L1418.3 1498.3 L1420.2 1497.9L1434.8 1575.8 L1437.1 1575.4L1424.9 1511.9 L1426.9 1511.5L1429.5 1524.6 L1431.5 1524.2L1426.4 1498.9 L1428.3 1498.5L1434.7 1529.6 L1436.8 1529.1L1439.2 1540.5 L1441.3 1540L1436.4 1517 L1438.4 1516.6L1439.2 1520.5 L1441.2 1520.1L1441.3 1520.2 L1443.3 1519.7L1442.8 1517.8 L1444.9 1517.3L1436.9 1483.3 L1438.7 1482.9L1445 1509 L1447 1508.5L1441.5 1486 L1443.3 1485.5L1451 1516.3 L1453 1515.8L1447.7 1494.8 L1449.6 1494.4L1451.3 1500.7 L1453.2 1500.2L1452.4 1497.2 L1454.3 1496.7L1453.5 1493.8 L1455.4 1493.3L1459 1506.2 L1460.9 1505.7L1460.9 1505.6 L1462.9 1505.1L1465.5 1514.5 L1467.5 1513.9L1466.8 1511.4 L1468.8 1510.9L1461 1484.2 L1462.9 1483.6L1468.3 1502.1 L1470.3 1501.5L1469.2 1497.8 L1471.1 1497.2L1473.9 1506.2 L1475.8 1505.6L1474.9 1502.6 L1476.8 1501.9L1486.5 1532.7 L1488.6 1532L1492.5 1544 L1494.6 1543.3L1482.1 1504.9 L1484 1504.3L1483.4 1502.5 L1485.4 1501.9L1489.7 1514.7 L1491.7 1514.1L1493.8 1520.2 L1495.8 1519.5L1498.1 1526.1 L1500.2 1525.4L1488.6 1492.6 L1490.5 1491.9L1486.7 1481.1 L1488.5 1480.4L1499.1 1509.8 L1501.1 1509.1L1496 1495.1 L1497.9 1494.4L1504.7 1512.6 L1506.7 1511.8L1498.1 1489.1 L1500 1488.3L1495.7 1477.1 L1497.5 1476.4L1499.9 1482.7 L1501.8 1481.9L1489.8 1451.4 L1491.5 1450.7Z" fill="#4a4a4a"/>
<path d="M1143.4 1561A529.4 529.9 0 0 1 819.7 1169L913.3 1151 L913.7 1152.9L923.1 1151 L923.5 1152.9L903 1157 L903.4 1159L918.4 1155.9 L918.8 1157.8L942.8 1152.7 L943.2 1154.5L929.4 1157.5 L929.8 1159.3L923.6 1160.7 L924 1162.5L917.6 1164 L918 1165.9L923.6 1164.6 L924.1 1166.5L925.8 1166.1 L926.2 1167.9L926.3 1167.9 L926.7 1169.8L926.9 1169.7 L927.3 1171.6L928.6 1171.3 L929.1 1173.1L927.2 1173.6 L927.6 1175.4L916.1 1178.4 L916.6 1180.3L909.3 1182.2 L909.8 1184.2L942 1175.5 L942.4 1177.3L934 1179.6 L934.5 1181.5L934.2 1181.5 L934.8 1183.3L918.3 1188 L918.9 1189.9L920.2 1189.5 L920.7 1191.4L926.7 1189.7 L927.2 1191.5L919.5 1193.8 L920 1195.7L922.2 1195 L922.8 1196.9L916.6 1198.8 L917.2 1200.7L923.6 1198.7 L924.2 1200.6L923.3 1200.9 L923.9 1202.7L919.8 1204 L920.4 1205.9L926 1204.1 L926.6 1206L928.6 1205.3 L929.2 1207.2L946.3 1201.4 L946.9 1203.2L926 1210.3 L926.6 1212.2L929.4 1211.2 L930.1 1213L943.9 1208.2 L944.6 1209.9L934.2 1213.6 L934.8 1215.5L942.6 1212.6 L943.2 1214.4L932.9 1218.2 L933.5 1220.1L931.7 1220.7 L932.4 1222.6L932.7 1222.4 L933.4 1224.3L930.8 1225.3 L931.5 1227.1L930.3 1227.6 L931 1229.4L936.8 1227.1 L937.5 1229L929 1232.3 L929.8 1234.2L924.2 1236.4 L925 1238.3L932.6 1235.2 L933.3 1237L950.1 1230 L950.9 1231.8L945.1 1234.2 L945.8 1236L950.8 1233.9 L951.6 1235.6L957.6 1233 L958.4 1234.7L951.8 1237.6 L952.6 1239.3L943.8 1243.2 L944.6 1244.9L940.1 1246.9 L940.9 1248.7L941.3 1248.6 L942.1 1250.4L940.6 1251.1 L941.4 1252.8L941.5 1252.8 L942.4 1254.6L951.7 1250.2 L952.5 1252L967.9 1244.7 L968.7 1246.3L945.8 1257.3 L946.6 1259.1L959.7 1252.7 L960.6 1254.4L949.5 1259.8 L950.4 1261.6L954.8 1259.4 L955.7 1261.1L965.8 1256 L966.7 1257.7L955.4 1263.4 L956.3 1265.1L963 1261.7 L963.9 1263.4L950.4 1270.4 L951.3 1272.1L965.5 1264.7 L966.4 1266.3L966.1 1266.5 L967 1268.2L971.8 1265.6 L972.6 1267.3L969.7 1268.9 L970.6 1270.5L974.4 1268.5 L975.3 1270.1L969.1 1273.5 L970 1275.2L972.5 1273.8 L973.4 1275.5L973.3 1275.5 L974.2 1277.2L971.4 1278.8 L972.3 1280.4L983.4 1274.1 L984.3 1275.7L976.4 1280.3 L977.3 1281.9L958.2 1293.2 L959.2 1294.9L979.2 1283 L980.1 1284.6L977.1 1286.5 L978 1288.1L978.7 1287.7 L979.6 1289.3L973.9 1292.9 L974.9 1294.5L975.2 1294.3 L976.2 1295.9L980 1293.6 L981 1295.2L993 1287.6 L994 1289.2L984.5 1295.3 L985.5 1296.9L981.8 1299.2 L982.8 1300.8L1002.5 1288 L1003.5 1289.6L989.5 1298.7 L990.5 1300.3L998 1295.4 L999 1296.9L1003.7 1293.7 L1004.8 1295.2L1000.4 1298.2 L1001.5 1299.7L991.9 1306.2 L993 1307.7L999.3 1303.4 L1000.4 1304.9L999.8 1305.3 L1000.9 1306.8L1002.5 1305.7 L1003.5 1307.2L998.5 1310.8 L999.6 1312.3L997.8 1313.6 L998.9 1315.1L995.1 1317.9 L996.2 1319.4L1002.6 1314.8 L1003.7 1316.3L999.5 1319.4 L1000.6 1320.9L992.6 1326.9 L993.8 1328.4L981 1338 L982.2 1339.6L1003.7 1323.4 L1004.8 1324.9L1005.3 1324.5 L1006.4 1326L1003.5 1328.2 L1004.7 1329.8L1012.5 1323.7 L1013.7 1325.1L1016.9 1322.6 L1018.1 1324L1032.5 1312.5 L1033.6 1313.9L1017 1327.2 L1018.2 1328.7L1007.8 1337.1 L1009 1338.6L1012.5 1335.7 L1013.7 1337.2L1015.8 1335.4 L1017 1336.9L1003.9 1347.8 L1005.1 1349.3L1006 1348.6 L1007.3 1350.1L1021.3 1338.1 L1022.6 1339.6L1015.6 1345.5 L1016.9 1346.9L1017.3 1346.6 L1018.5 1348L1020.1 1346.7 L1021.4 1348.1L1019.6 1349.7 L1020.8 1351.1L1031.6 1341.5 L1032.8 1342.9L1034.1 1341.8 L1035.3 1343.2L1027 1350.7 L1028.2 1352.1L1035.6 1345.4 L1036.8 1346.8L1027.1 1355.7 L1028.4 1357.1L1032.9 1352.9 L1034.2 1354.3L1041.2 1347.7 L1042.5 1349.1L1028.2 1362.5 L1029.5 1363.9L1040.2 1353.8 L1041.4 1355.1L1038.2 1358.2 L1039.5 1359.6L1055.6 1344 L1056.8 1345.3L1053.1 1348.9 L1054.4 1350.2L1047.8 1356.6 L1049.1 1358L1054.4 1352.7 L1055.7 1354L1051.1 1358.6 L1052.4 1359.9L1053.7 1358.6 L1055 1359.8L1055.3 1359.5 L1056.6 1360.8L1026.9 1391.5 L1028.4 1392.9L1055.6 1364.5 L1057 1365.7L1045.1 1378.2 L1046.5 1379.5L1050.5 1375.2 L1051.9 1376.5L1051.5 1376.9 L1052.9 1378.2L1055 1376 L1056.3 1377.3L1062.5 1370.6 L1063.8 1371.9L1062.4 1373.4 L1063.8 1374.7L1063.5 1374.9 L1064.9 1376.2L1071 1369.3 L1072.4 1370.5L1076.2 1366.2 L1077.5 1367.4L1078.5 1366.2 L1079.9 1367.4L1077.4 1370.3 L1078.8 1371.4L1085.4 1363.7 L1086.7 1364.8L1089 1362.2 L1090.4 1363.3L1086.3 1368.1 L1087.6 1369.2L1086.1 1371 L1087.5 1372.2L1084.1 1376.2 L1085.5 1377.3L1087.7 1374.7 L1089.1 1375.8L1071.3 1397.6 L1072.8 1398.8L1088.4 1379.5 L1089.8 1380.6L1093 1376.6 L1094.4 1377.7L1091.5 1381.4 L1092.9 1382.5L1096.8 1377.5 L1098.2 1378.6L1103.9 1371.3 L1105.2 1372.3L1090.3 1391.7 L1091.8 1392.8L1101.1 1380.5 L1102.5 1381.6L1110.9 1370.6 L1112.2 1371.6L1104.7 1381.6 L1106.1 1382.7L1111.2 1375.9 L1112.6 1376.9L1111.5 1378.3 L1112.9 1379.3L1108.5 1385.4 L1109.9 1386.5L1116.4 1377.5 L1117.7 1378.5L1113.8 1384 L1115.2 1385L1118.7 1380.1 L1120.1 1381L1121.4 1379.3 L1122.7 1380.3L1120.5 1383.5 L1121.9 1384.5L1119 1388.7 L1120.5 1389.7L1127.1 1379.9 L1128.5 1380.9L1112.3 1404.8 L1113.8 1405.8L1133.9 1375.9 L1135.3 1376.8L1130.8 1383.6 L1132.2 1384.5L1126.8 1392.8 L1128.2 1393.8L1128.4 1393.4 L1129.9 1394.3L1131.2 1392.3 L1132.7 1393.2L1129.2 1398.7 L1130.7 1399.6L1123.2 1411.4 L1124.8 1412.4L1131 1402.4 L1132.5 1403.3L1134.2 1400.7 L1135.7 1401.6L1134.5 1403.5 L1136 1404.4L1136 1404.4 L1137.5 1405.3L1135 1409.5 L1136.5 1410.4L1139.8 1404.8 L1141.3 1405.7L1142.9 1403.1 L1144.4 1404L1146.4 1400.4 L1147.9 1401.3L1146.2 1404.3 L1147.7 1405.2L1146.5 1407.4 L1148 1408.2L1144.7 1414 L1146.3 1414.9L1147 1413.5 L1148.6 1414.3L1141.3 1427.5 L1142.9 1428.4L1147.3 1420.5 L1148.8 1421.3L1155.8 1408.5 L1157.3 1409.3L1153.5 1416.4 L1155.1 1417.2L1159 1409.8 L1160.5 1410.6L1150.2 1430.4 L1151.8 1431.2L1161.1 1413.3 L1162.6 1414.1L1157 1425.2 L1158.6 1426L1158.7 1425.8 L1160.3 1426.6L1163.3 1420.5 L1164.9 1421.3L1156.8 1437.7 L1158.4 1438.5L1159.5 1436.4 L1161.1 1437.2L1154.5 1450.8 L1156.2 1451.6L1160.6 1442.5 L1162.3 1443.3L1160.3 1447.6 L1162 1448.4L1161.5 1449.4 L1163.2 1450.2L1163.1 1450.4 L1164.8 1451.2L1165.5 1449.8 L1167.2 1450.5L1167.9 1448.9 L1169.7 1449.6L1171 1446.6 L1172.7 1447.3L1172.5 1447.8 L1174.2 1448.6L1171.6 1454.6 L1173.3 1455.4L1173.8 1454.1 L1175.6 1454.9L1174.5 1457.4 L1176.2 1458.2L1180.2 1448.7 L1181.9 1449.4L1179.7 1454.7 L1181.4 1455.5L1185.9 1444.6 L1187.5 1445.3L1183.7 1454.9 L1185.4 1455.6Z" fill="#4a4a4a"/>
<ellipse cx="1339.6" cy="1068.8" rx="425.7" ry="426.1" fill="none" stroke="#8e8e8e" stroke-opacity="0.8" stroke-width="1.7"/>
<ellipse cx="1339.6" cy="1068.8" rx="372" ry="372.4" fill="none" stroke="#909090" stroke-opacity="0.7" stroke-width="1.7" stroke-dasharray="3.2 7"/>
<path d="M481.2 1236.5 A874.6 875.5 0 0 1 480.6 1233.5 L530.7 1223.9 A823.6 824.4 0 0 0 531.3 1226.8Z" fill="#0a2896" fill-opacity="0.64"/>
<path d="M506.2 1231.7 A849.1 849.9 0 0 1 505.7 1228.7 L530.7 1223.9 A823.6 824.4 0 0 0 531.3 1226.8Z" fill="#0a2896"/>
<path d="M480 1230.2 A874.6 875.5 0 0 1 473.3 1189.1 L523.8 1182.1 A823.6 824.4 0 0 0 530.1 1220.8Z" fill="#0a910a" fill-opacity="0.64"/>
<path d="M510.1 1224.6 A844 844.8 0 0 1 503.6 1184.9 L523.8 1182.1 A823.6 824.4 0 0 0 530.1 1220.8Z" fill="#0a910a"/>
<path d="M472 1179.7 A874.6 875.5 0 0 1 465 1079.1 L516.1 1078.5 A823.6 824.4 0 0 0 522.6 1173.2Z" fill="#0a2896" fill-opacity="0.64"/>
<path d="M504.4 1175.5 A842 842.8 0 0 1 497.7 1078.8 L516.1 1078.5 A823.6 824.4 0 0 0 522.6 1173.2Z" fill="#0a2896"/>
<path d="M469.5 1157.4 A874.6 875.5 0 0 1 465.8 1107.1 L516.8 1104.9 A823.6 824.4 0 0 0 520.2 1152.2Z" fill="#d26448" fill-opacity="0.92"/>
<path d="M503.5 1153.9 A840.4 841.3 0 0 1 500 1105.6 L516.8 1104.9 A823.6 824.4 0 0 0 520.2 1152.2Z" fill="#d25a32"/>
<path d="M465.4 1042 A874.6 875.5 0 0 1 468.9 985.8 L519.7 990.6 A823.6 824.4 0 0 0 516.4 1043.6Z" fill="#0aa63a" fill-opacity="0.64"/>
<path d="M495.5 1042.9 A844.5 845.3 0 0 1 498.9 988.6 L519.7 990.6 A823.6 824.4 0 0 0 516.4 1043.6Z" fill="#0aa63a"/>
<path d="M483.6 889.1 A874.6 875.5 0 0 1 484.2 886.1 L534.1 896.8 A823.6 824.4 0 0 0 533.5 899.6Z" fill="#0a2896" fill-opacity="0.64"/>
<path d="M508.6 894.4 A849.1 849.9 0 0 1 509.2 891.5 L534.1 896.8 A823.6 824.4 0 0 0 533.5 899.6Z" fill="#0a2896"/>
<path d="M529.7 738.2 A874.6 875.5 0 0 1 530.9 735.4 L578 754.9 A823.6 824.4 0 0 0 576.9 757.5Z" fill="#0a2896" fill-opacity="0.64"/>
<path d="M553.3 747.9 A849.1 849.9 0 0 1 554.4 745.1 L578 754.9 A823.6 824.4 0 0 0 576.9 757.5Z" fill="#0a2896"/>
<path d="M973.2 273.8 A874.6 875.5 0 0 1 975.9 272.6 L997.1 319 A823.6 824.4 0 0 0 994.5 320.2Z" fill="#0a2896" fill-opacity="0.64"/>
<path d="M983.8 297 A849.1 849.9 0 0 1 986.5 295.8 L997.1 319 A823.6 824.4 0 0 0 994.5 320.2Z" fill="#0a2896"/>
<path d="M977.6 271.8 A874.6 875.5 0 0 1 1005.6 259.6 L1025.1 306.8 A823.6 824.4 0 0 0 998.7 318.3Z" fill="#0a2896" fill-opacity="0.64"/>
<path d="M991.3 302 A841.5 842.3 0 0 1 1018.3 290.3 L1025.1 306.8 A823.6 824.4 0 0 0 998.7 318.3Z" fill="#0a2896"/>
<path d="M1037.9 247 A874.6 875.5 0 0 1 1061.6 238.7 L1077.9 287.1 A823.6 824.4 0 0 0 1055.5 295Z" fill="#f0b880" fill-opacity="0.64"/>
<path d="M1048.8 276.7 A843 843.8 0 0 1 1071.7 268.7 L1077.9 287.1 A823.6 824.4 0 0 0 1055.5 295Z" fill="#f0b880"/>
<path d="M1069.2 236.2 A874.6 875.5 0 0 1 1072.1 235.2 L1087.7 283.9 A823.6 824.4 0 0 0 1085 284.7Z" fill="#0a2896" fill-opacity="0.64"/>
<path d="M1077.1 260.5 A849.1 849.9 0 0 1 1079.9 259.5 L1087.7 283.9 A823.6 824.4 0 0 0 1085 284.7Z" fill="#0a2896"/>
<path d="M1204.7 203.8 A874.6 875.5 0 0 1 1208.4 203.2 L1216 253.7 A823.6 824.4 0 0 0 1212.6 254.2Z" fill="#0a910a" fill-opacity="0.64"/>
<path d="M1210.2 239.1 A838.9 839.7 0 0 1 1213.7 238.5 L1216 253.7 A823.6 824.4 0 0 0 1212.6 254.2Z" fill="#0a910a"/>
<path d="M1221.8 201.3 A874.6 875.5 0 0 1 1224.8 200.9 L1231.5 251.5 A823.6 824.4 0 0 0 1228.7 251.9Z" fill="#0a2896" fill-opacity="0.64"/>
<path d="M1225.2 226.6 A849.1 849.9 0 0 1 1228.2 226.2 L1231.5 251.5 A823.6 824.4 0 0 0 1228.7 251.9Z" fill="#0a2896"/>
<path d="M1240.6 198.9 A874.6 875.5 0 0 1 1244.2 198.5 L1249.8 249.3 A823.6 824.4 0 0 0 1246.4 249.6Z" fill="#0a2896" fill-opacity="0.64"/>
<path d="M1243.5 224.3 A849.1 849.9 0 0 1 1247 223.9 L1249.8 249.3 A823.6 824.4 0 0 0 1246.4 249.6Z" fill="#0a2896"/>
<path d="M1244.8 198.4 A874.6 875.5 0 0 1 1248.5 198 L1253.8 248.8 A823.6 824.4 0 0 0 1250.4 249.2Z" fill="#0a2896" fill-opacity="0.64"/>
<path d="M1247.6 223.8 A849.1 849.9 0 0 1 1251.1 223.4 L1253.8 248.8 A823.6 824.4 0 0 0 1250.4 249.2Z" fill="#0a2896"/>
<path d="M1431 198.1 A874.6 875.5 0 0 1 1434.4 198.4 L1428.8 249.2 A823.6 824.4 0 0 0 1425.7 248.9Z" fill="#0a2896" fill-opacity="0.64"/>
<path d="M1428.4 223.5 A849.1 849.9 0 0 1 1431.6 223.8 L1428.8 249.2 A823.6 824.4 0 0 0 1425.7 248.9Z" fill="#0a2896"/>
<path d="M1478.4 204.4 A874.6 875.5 0 0 1 1481.4 204.9 L1473.1 255.3 A823.6 824.4 0 0 0 1470.3 254.8Z" fill="#0a2896" fill-opacity="0.64"/>
<path d="M1474.3 229.6 A849.1 849.9 0 0 1 1477.3 230.1 L1473.1 255.3 A823.6 824.4 0 0 0 1470.3 254.8Z" fill="#0a2896"/>
<path d="M1487.1 205.8 A874.6 875.5 0 0 1 1500.2 208.2 L1490.8 258.4 A823.6 824.4 0 0 0 1478.5 256.2Z" fill="#f0b880" fill-opacity="0.64"/>
<path d="M1482 236 A844 844.8 0 0 1 1494.6 238.3 L1490.8 258.4 A823.6 824.4 0 0 0 1478.5 256.2Z" fill="#f0b880"/>
<path d="M1503.8 208.8 A874.6 875.5 0 0 1 1583.9 228.1 L1569.7 277.2 A823.6 824.4 0 0 0 1494.2 259Z" fill="#0a6937" fill-opacity="0.64"/>
<path d="M1497.7 240.9 A842 842.8 0 0 1 1574.8 259.5 L1569.7 277.2 A823.6 824.4 0 0 0 1494.2 259Z" fill="#0a6937"/>
<path d="M1584.8 228.4 A874.6 875.5 0 0 1 1663.7 255.6 L1644.8 303 A823.6 824.4 0 0 0 1570.5 277.4Z" fill="#0a6937" fill-opacity="0.64"/>
<path d="M1575.8 259.3 A842.5 843.3 0 0 1 1651.8 285.5 L1644.8 303 A823.6 824.4 0 0 0 1570.5 277.4Z" fill="#0a6937"/>
<path d="M1685.8 264.8 A874.6 875.5 0 0 1 1752 296.7 L1727.9 341.7 A823.6 824.4 0 0 0 1665.6 311.7Z" fill="#30c8b8" fill-opacity="0.64"/>
<path d="M1671.7 297.6 A838.9 839.7 0 0 1 1735.1 328.2 L1727.9 341.7 A823.6 824.4 0 0 0 1665.6 311.7Z" fill="#30c8b8"/>
<path d="M1768 305.5 A874.6 875.5 0 0 1 1770.9 307.2 L1745.8 351.6 A823.6 824.4 0 0 0 1743 350Z" fill="#0a910a" fill-opacity="0.64"/>
<path d="M1751.8 334.4 A841.5 842.3 0 0 1 1754.6 336 L1745.8 351.6 A823.6 824.4 0 0 0 1743 350Z" fill="#0a910a"/>
<path d="M1788.9 317.6 A874.6 875.5 0 0 1 1794.1 320.8 L1767.6 364.4 A823.6 824.4 0 0 0 1762.7 361.4Z" fill="#0a910a" fill-opacity="0.64"/>
<path d="M1771.8 346.1 A841.5 842.3 0 0 1 1776.9 349.1 L1767.6 364.4 A823.6 824.4 0 0 0 1762.7 361.4Z" fill="#0a910a"/>
<path d="M2003.7 499 A874.6 875.5 0 0 1 2005.8 501.6 L1967 534.7 A823.6 824.4 0 0 0 1964.9 532.2Z" fill="#0a910a" fill-opacity="0.64"/>
<path d="M1980.4 519 A844 844.8 0 0 1 1982.5 521.4 L1967 534.7 A823.6 824.4 0 0 0 1964.9 532.2Z" fill="#0a910a"/>
<path d="M2010.1 506.6 A874.6 875.5 0 0 1 2012.5 509.5 L1973.3 542.1 A823.6 824.4 0 0 0 1971 539.4Z" fill="#0a910a" fill-opacity="0.64"/>
<path d="M1986.6 526.3 A844 844.8 0 0 1 1989 529.1 L1973.3 542.1 A823.6 824.4 0 0 0 1971 539.4Z" fill="#0a910a"/>
<path d="M2014 511.3 A874.6 875.5 0 0 1 2020.4 519.1 L1980.7 551.2 A823.6 824.4 0 0 0 1974.7 543.8Z" fill="#0a910a" fill-opacity="0.64"/>
<path d="M1990.4 530.8 A844 844.8 0 0 1 1996.5 538.3 L1980.7 551.2 A823.6 824.4 0 0 0 1974.7 543.8Z" fill="#0a910a"/>
<path d="M2058.3 569.9 A874.6 875.5 0 0 1 2060 572.4 L2018 601.3 A823.6 824.4 0 0 0 2016.4 599Z" fill="#0a2896" fill-opacity="0.64"/>
<path d="M2037.4 584.4 A849.1 849.9 0 0 1 2039 586.9 L2018 601.3 A823.6 824.4 0 0 0 2016.4 599Z" fill="#0a2896"/>
<path d="M2063 576.7 A874.6 875.5 0 0 1 2064.7 579.2 L2022.4 607.7 A823.6 824.4 0 0 0 2020.8 605.4Z" fill="#0a2896" fill-opacity="0.64"/>
<path d="M2041.9 591 A849.1 849.9 0 0 1 2043.5 593.5 L2022.4 607.7 A823.6 824.4 0 0 0 2020.8 605.4Z" fill="#0a2896"/>
<path d="M2104.9 645 A874.6 875.5 0 0 1 2111.5 657.1 L2066.5 681.1 A823.6 824.4 0 0 0 2060.3 669.7Z" fill="#ba8a50" fill-opacity="0.64"/>
<path d="M2076.4 660.8 A842 842.8 0 0 1 2082.7 672.4 L2066.5 681.1 A823.6 824.4 0 0 0 2060.3 669.7Z" fill="#ba8a50"/>
<path d="M2125.1 683.7 A874.6 875.5 0 0 1 2126.7 687 L2080.8 709.3 A823.6 824.4 0 0 0 2079.3 706.2Z" fill="#f0b880" fill-opacity="0.64"/>
<path d="M2097.6 697.2 A844 844.8 0 0 1 2099.2 700.4 L2080.8 709.3 A823.6 824.4 0 0 0 2079.3 706.2Z" fill="#f0b880"/>
<path d="M2129.6 693.1 A874.6 875.5 0 0 1 2159.3 763.3 L2111.4 781.1 A823.6 824.4 0 0 0 2083.5 715Z" fill="#ff6a1e" fill-opacity="0.64"/>
<path d="M2097.3 708.4 A838.9 839.7 0 0 1 2125.8 775.8 L2111.4 781.1 A823.6 824.4 0 0 0 2083.5 715Z" fill="#ff6a1e"/>
<path d="M2186 848.4 A874.6 875.5 0 0 1 2186.9 851.6 L2137.5 864.3 A823.6 824.4 0 0 0 2136.7 861.2Z" fill="#0a910a" fill-opacity="0.64"/>
<path d="M2156.4 856.1 A844 844.8 0 0 1 2157.2 859.2 L2137.5 864.3 A823.6 824.4 0 0 0 2136.7 861.2Z" fill="#0a910a"/>
<path d="M2209.5 977.8 A874.6 875.5 0 0 1 2212.6 1015.2 L2161.7 1018.3 A823.6 824.4 0 0 0 2158.7 983.1Z" fill="#d42a20" fill-opacity="0.64"/>
<path d="M2172.4 981.7 A837.4 838.2 0 0 1 2175.4 1017.4 L2161.7 1018.3 A823.6 824.4 0 0 0 2158.7 983.1Z" fill="#d42a20"/>
<path d="M2212.7 1018 A874.6 875.5 0 0 1 2213.5 1033.8 L2162.5 1035.8 A823.6 824.4 0 0 0 2161.8 1021Z" fill="#f0b880" fill-opacity="0.64"/>
<path d="M2183.2 1019.8 A845 845.8 0 0 1 2184 1035 L2162.5 1035.8 A823.6 824.4 0 0 0 2161.8 1021Z" fill="#f0b880"/>
<path d="M2214 1050.4 A874.6 875.5 0 0 1 2214.1 1054.4 L2163.1 1055.2 A823.6 824.4 0 0 0 2163 1051.5Z" fill="#ba8a50" fill-opacity="0.64"/>
<path d="M2180.9 1051.1 A841.5 842.3 0 0 1 2180.9 1054.9 L2163.1 1055.2 A823.6 824.4 0 0 0 2163 1051.5Z" fill="#ba8a50"/>
<path d="M2214.2 1074.9 A874.6 875.5 0 0 1 2214 1089.7 L2163 1088.5 A823.6 824.4 0 0 0 2163.2 1074.5Z" fill="#f0b880" fill-opacity="0.64"/>
<path d="M2180 1074.6 A840.4 841.3 0 0 1 2179.8 1088.9 L2163 1088.5 A823.6 824.4 0 0 0 2163.2 1074.5Z" fill="#f0b880"/>
<path d="M2213.6 1101 A874.6 875.5 0 0 1 2213 1114.9 L2162.1 1112.2 A823.6 824.4 0 0 0 2162.6 1099.1Z" fill="#ba8a50" fill-opacity="0.64"/>
<path d="M2182 1099.8 A843 843.8 0 0 1 2181.4 1113.2 L2162.1 1112.2 A823.6 824.4 0 0 0 2162.6 1099.1Z" fill="#ba8a50"/>
<path d="M2212.7 1119.6 A874.6 875.5 0 0 1 2207.5 1176.7 L2156.9 1170.4 A823.6 824.4 0 0 0 2161.8 1116.6Z" fill="#ba8a50" fill-opacity="0.64"/>
<path d="M2177.1 1117.5 A838.9 839.7 0 0 1 2172.1 1172.2 L2156.9 1170.4 A823.6 824.4 0 0 0 2161.8 1116.6Z" fill="#ba8a50"/>
<path d="M2207.2 1179.4 A874.6 875.5 0 0 1 2203.1 1208 L2152.7 1199.8 A823.6 824.4 0 0 0 2156.6 1172.9Z" fill="#f0b880" fill-opacity="0.64"/>
<path d="M2171.8 1174.9 A838.9 839.7 0 0 1 2167.8 1202.3 L2152.7 1199.8 A823.6 824.4 0 0 0 2156.6 1172.9Z" fill="#f0b880"/>
<path d="M2200 1226 A874.6 875.5 0 0 1 2198.1 1235.8 L2148.1 1226.1 A823.6 824.4 0 0 0 2149.8 1216.9Z" fill="#f0b880" fill-opacity="0.64"/>
<path d="M2167.4 1220.1 A841.5 842.3 0 0 1 2165.6 1229.5 L2148.1 1226.1 A823.6 824.4 0 0 0 2149.8 1216.9Z" fill="#f0b880"/>
<path d="M2198.1 1235.8 A874.6 875.5 0 0 1 2185.8 1290.2 L2136.4 1277.3 A823.6 824.4 0 0 0 2148.1 1226.1Z" fill="#ba8a50" fill-opacity="0.64"/>
<path d="M2166.1 1229.6 A842 842.8 0 0 1 2154.2 1281.9 L2136.4 1277.3 A823.6 824.4 0 0 0 2148.1 1226.1Z" fill="#ba8a50"/>
<path d="M2185.6 1290.9 A874.6 875.5 0 0 1 2183.2 1299.8 L2134 1286.3 A823.6 824.4 0 0 0 2136.2 1277.9Z" fill="#ba8a50" fill-opacity="0.64"/>
<path d="M2154 1282.6 A842 842.8 0 0 1 2151.7 1291.1 L2134 1286.3 A823.6 824.4 0 0 0 2136.2 1277.9Z" fill="#ba8a50"/>
<path d="M2097.1 1506.4 A874.6 875.5 0 0 1 2095.6 1509 L2051.5 1483.3 A823.6 824.4 0 0 0 2052.9 1480.8Z" fill="#0a2896" fill-opacity="0.64"/>
<path d="M2075 1493.6 A849.1 849.9 0 0 1 2073.5 1496.2 L2051.5 1483.3 A823.6 824.4 0 0 0 2052.9 1480.8Z" fill="#0a2896"/>
<path d="M2082.6 1530.6 A874.6 875.5 0 0 1 2037.2 1596.8 L1996.5 1566 A823.6 824.4 0 0 0 2039.3 1503.7Z" fill="#ffee30" fill-opacity="0.64"/>
<path d="M2055.3 1513.6 A842.5 843.3 0 0 1 2011.5 1577.4 L1996.5 1566 A823.6 824.4 0 0 0 2039.3 1503.7Z" fill="#ffee30"/>
<path d="M2028.5 1608.1 A874.6 875.5 0 0 1 2014.4 1625.7 L1975 1593.2 A823.6 824.4 0 0 0 1988.3 1576.6Z" fill="#f0b880" fill-opacity="0.64"/>
<path d="M2004.4 1589.2 A844 844.8 0 0 1 1990.8 1606.2 L1975 1593.2 A823.6 824.4 0 0 0 1988.3 1576.6Z" fill="#f0b880"/>
<path d="M2013 1627.4 A874.6 875.5 0 0 1 2000.9 1641.7 L1962.3 1608.3 A823.6 824.4 0 0 0 1973.7 1594.8Z" fill="#f0b880" fill-opacity="0.64"/>
<path d="M1990.2 1608.5 A845 845.8 0 0 1 1978.5 1622.3 L1962.3 1608.3 A823.6 824.4 0 0 0 1973.7 1594.8Z" fill="#f0b880"/>
<path d="M1696.2 1868.2 A874.6 875.5 0 0 1 1693.4 1869.4 L1672.7 1822.7 A823.6 824.4 0 0 0 1675.4 1821.5Z" fill="#0a2896" fill-opacity="0.64"/>
<path d="M1685.8 1844.8 A849.1 849.9 0 0 1 1683.1 1846 L1672.7 1822.7 A823.6 824.4 0 0 0 1675.4 1821.5Z" fill="#0a2896"/>
<path d="M1668.1 1880.1 A874.6 875.5 0 0 1 1589.2 1907.8 L1574.6 1858.9 A823.6 824.4 0 0 0 1648.9 1832.8Z" fill="#ffee30" fill-opacity="0.64"/>
<path d="M1654.1 1845.6 A837.4 838.2 0 0 1 1578.5 1872.1 L1574.6 1858.9 A823.6 824.4 0 0 0 1648.9 1832.8Z" fill="#ffee30"/>
<path d="M1440.1 1938.4 A874.6 875.5 0 0 1 1429 1939.6 L1423.8 1888.8 A823.6 824.4 0 0 0 1434.3 1887.7Z" fill="#0a6937" fill-opacity="0.64"/>
<path d="M1436.7 1909 A845 845.8 0 0 1 1426 1910.2 L1423.8 1888.8 A823.6 824.4 0 0 0 1434.3 1887.7Z" fill="#0a6937"/>
<path d="M1419.5 1940.6 A874.6 875.5 0 0 1 1406.7 1941.6 L1402.8 1890.7 A823.6 824.4 0 0 0 1414.8 1889.7Z" fill="#ffee30" fill-opacity="0.64"/>
<path d="M1416.1 1903.9 A837.9 838.7 0 0 1 1403.9 1905 L1402.8 1890.7 A823.6 824.4 0 0 0 1414.8 1889.7Z" fill="#ffee30"/>
<path d="M1399.2 1942.2 A874.6 875.5 0 0 1 1376.8 1943.4 L1374.7 1892.4 A823.6 824.4 0 0 0 1395.8 1891.2Z" fill="#ffee30" fill-opacity="0.64"/>
<path d="M1396.7 1905.5 A837.9 838.7 0 0 1 1375.3 1906.7 L1374.7 1892.4 A823.6 824.4 0 0 0 1395.8 1891.2Z" fill="#ffee30"/>
<path d="M1367.2 1943.8 A874.6 875.5 0 0 1 1348.9 1944.2 L1348.4 1893.1 A823.6 824.4 0 0 0 1365.6 1892.7Z" fill="#ffee30" fill-opacity="0.64"/>
<path d="M1366.1 1907 A837.9 838.7 0 0 1 1348.5 1907.4 L1348.4 1893.1 A823.6 824.4 0 0 0 1365.6 1892.7Z" fill="#ffee30"/>
<path d="M1344.9 1944.2 A874.6 875.5 0 0 1 1261.1 1940.7 L1265.7 1889.8 A823.6 824.4 0 0 0 1344.6 1893.1Z" fill="#ffee30" fill-opacity="0.64"/>
<path d="M1344.7 1907.4 A837.9 838.7 0 0 1 1264.4 1904.1 L1265.7 1889.8 A823.6 824.4 0 0 0 1344.6 1893.1Z" fill="#ffee30"/>
<path d="M1260.3 1940.6 A874.6 875.5 0 0 1 1217.9 1935.7 L1225 1885.1 A823.6 824.4 0 0 0 1265 1889.8Z" fill="#ffee30" fill-opacity="0.64"/>
<path d="M1263.6 1905 A838.9 839.7 0 0 1 1222.8 1900.3 L1225 1885.1 A823.6 824.4 0 0 0 1265 1889.8Z" fill="#ffee30"/>
<path d="M1212.9 1935 A874.6 875.5 0 0 1 1203.4 1933.5 L1211.3 1883.1 A823.6 824.4 0 0 0 1220.3 1884.5Z" fill="#f0b880" fill-opacity="0.64"/>
<path d="M1217.9 1900.6 A839.9 840.7 0 0 1 1208.8 1899.2 L1211.3 1883.1 A823.6 824.4 0 0 0 1220.3 1884.5Z" fill="#f0b880"/>
<path d="M962 1858.4 A874.6 875.5 0 0 1 958.9 1856.9 L981.1 1811 A823.6 824.4 0 0 0 984 1812.3Z" fill="#0a2896" fill-opacity="0.64"/>
<path d="M973 1835.4 A849.1 849.9 0 0 1 970 1834 L981.1 1811 A823.6 824.4 0 0 0 984 1812.3Z" fill="#0a2896"/>
<path d="M953.2 1854.1 A874.6 875.5 0 0 1 949.9 1852.5 L972.6 1806.8 A823.6 824.4 0 0 0 975.7 1808.3Z" fill="#ff3322" fill-opacity="0.64"/>
<path d="M964.4 1831.2 A849.1 849.9 0 0 1 961.3 1829.6 L972.6 1806.8 A823.6 824.4 0 0 0 975.7 1808.3Z" fill="#ff3322"/>
<path d="M943.9 1849.5 A874.6 875.5 0 0 1 940.4 1847.7 L963.6 1802.3 A823.6 824.4 0 0 0 967 1804Z" fill="#ff3322" fill-opacity="0.64"/>
<path d="M955.4 1826.7 A849.1 849.9 0 0 1 952 1825 L963.6 1802.3 A823.6 824.4 0 0 0 967 1804Z" fill="#ff3322"/>
<path d="M934.5 1844.7 A874.6 875.5 0 0 1 847.1 1792.2 L875.8 1750 A823.6 824.4 0 0 0 958.2 1799.4Z" fill="#ff3322" fill-opacity="0.64"/>
<path d="M945.4 1823.8 A851.1 852 0 0 1 860.3 1772.8 L875.8 1750 A823.6 824.4 0 0 0 958.2 1799.4Z" fill="#ff3322"/>
<path d="M842.5 1789 A874.6 875.5 0 0 1 815.2 1769.4 L845.8 1728.5 A823.6 824.4 0 0 0 871.5 1747Z" fill="#0a2896" fill-opacity="0.64"/>
<path d="M855.5 1770.1 A851.7 852.5 0 0 1 829 1751 L845.8 1728.5 A823.6 824.4 0 0 0 871.5 1747Z" fill="#0a2896"/>
<path d="M814.2 1768.7 A874.6 875.5 0 0 1 783.5 1744.5 L815.9 1705.1 A823.6 824.4 0 0 0 844.9 1727.8Z" fill="#0a2896" fill-opacity="0.64"/>
<path d="M828 1750.3 A851.7 852.5 0 0 1 798.1 1726.7 L815.9 1705.1 A823.6 824.4 0 0 0 844.9 1727.8Z" fill="#0a2896"/>
<path d="M777.4 1739.4 A874.6 875.5 0 0 1 735.6 1701.9 L770.8 1665 A823.6 824.4 0 0 0 810.2 1700.3Z" fill="#ff3322" fill-opacity="0.64"/>
<path d="M792.2 1721.8 A851.7 852.5 0 0 1 751.4 1685.3 L770.8 1665 A823.6 824.4 0 0 0 810.2 1700.3Z" fill="#ff3322"/>
<path d="M731.1 1697.6 A874.6 875.5 0 0 1 728.9 1695.4 L764.5 1658.9 A823.6 824.4 0 0 0 766.5 1660.9Z" fill="#0a2896" fill-opacity="0.64"/>
<path d="M748.8 1679.2 A849.1 849.9 0 0 1 746.7 1677.1 L764.5 1658.9 A823.6 824.4 0 0 0 766.5 1660.9Z" fill="#0a2896"/>
<path d="M683.9 1648.2 A874.6 875.5 0 0 1 663.6 1624.2 L703 1591.8 A823.6 824.4 0 0 0 722.2 1614.4Z" fill="#f0b880" fill-opacity="0.64"/>
<path d="M706.1 1628.6 A845 845.8 0 0 1 686.4 1605.4 L703 1591.8 A823.6 824.4 0 0 0 722.2 1614.4Z" fill="#f0b880"/>
<path d="M526.5 971.8 A818.8 819.6 0 0 1 534.2 921.1 L584.4 930.3 A767.8 768.5 0 0 0 577.2 977.9Z" fill="#96c828" fill-opacity="0.64"/>
<path d="M526.5 971.8 A818.8 819.6 0 0 1 534.2 921.1 L555.3 924.9 A797.4 798.2 0 0 0 547.8 974.4Z" fill="#96c828"/>
<path d="M534.2 921.1 A818.8 819.6 0 0 1 536.8 907.3 L586.9 917.4 A767.8 768.5 0 0 0 584.4 930.3Z" fill="#96c828" fill-opacity="0.64"/>
<path d="M534.2 921.1 A818.8 819.6 0 0 1 536.8 907.3 L556.8 911.3 A798.4 799.2 0 0 0 554.3 924.8Z" fill="#96c828"/>
<path d="M539.8 893.2 A818.8 819.6 0 0 1 545.1 870.6 L594.6 883 A767.8 768.5 0 0 0 589.6 904.1Z" fill="#0a2896" fill-opacity="0.64"/>
<path d="M539.8 893.2 A818.8 819.6 0 0 1 545.1 870.6 L564.9 875.5 A798.4 799.2 0 0 0 559.7 897.5Z" fill="#0a2896"/>
<path d="M546.4 865.3 A818.8 819.6 0 0 1 551.1 847.8 L600.2 861.6 A767.8 768.5 0 0 0 595.8 878Z" fill="#ffee30" fill-opacity="0.64"/>
<path d="M546.4 865.3 A818.8 819.6 0 0 1 551.1 847.8 L568.8 852.7 A800.4 801.2 0 0 0 564.2 869.9Z" fill="#ffee30"/>
<path d="M551.6 846.1 A818.8 819.6 0 0 1 559.8 818.9 L608.4 834.5 A767.8 768.5 0 0 0 600.7 860Z" fill="#ffee30" fill-opacity="0.64"/>
<path d="M551.6 846.1 A818.8 819.6 0 0 1 559.8 818.9 L578.2 824.8 A799.4 800.2 0 0 0 570.2 851.4Z" fill="#ffee30"/>
<path d="M560.6 816.3 A818.8 819.6 0 0 1 565.4 802.1 L613.6 818.7 A767.8 768.5 0 0 0 609.1 832Z" fill="#ffee30" fill-opacity="0.64"/>
<path d="M560.6 816.3 A818.8 819.6 0 0 1 565.4 802.1 L584.2 808.5 A798.9 799.7 0 0 0 579.5 822.4Z" fill="#ffee30"/>
<path d="M592.2 734 A818.8 819.6 0 0 1 645.4 634.2 L688.6 661.3 A767.8 768.5 0 0 0 638.8 754.8Z" fill="#d42a20" fill-opacity="0.64"/>
<path d="M592.2 734 A818.8 819.6 0 0 1 645.4 634.2 L660.9 643.9 A800.4 801.2 0 0 0 609 741.5Z" fill="#d42a20"/>
<path d="M646 633.2 A818.8 819.6 0 0 1 702.9 553.4 L742.6 585.5 A767.8 768.5 0 0 0 689.2 660.4Z" fill="#d42a20" fill-opacity="0.64"/>
<path d="M646 633.2 A818.8 819.6 0 0 1 702.9 553.4 L717.2 565 A800.4 801.2 0 0 0 661.5 643Z" fill="#d42a20"/>
<path d="M705.1 550.7 A818.8 819.6 0 0 1 801.9 450.7 L835.4 489.2 A767.8 768.5 0 0 0 744.6 583Z" fill="#d42a20" fill-opacity="0.64"/>
<path d="M705.1 550.7 A818.8 819.6 0 0 1 801.9 450.7 L813.3 463.8 A801.5 802.2 0 0 0 718.5 561.7Z" fill="#d42a20"/>
<path d="M809.9 443.8 A818.8 819.6 0 0 1 829.5 427.6 L861.3 467.5 A767.8 768.5 0 0 0 842.9 482.7Z" fill="#f0b880" fill-opacity="0.64"/>
<path d="M809.9 443.8 A818.8 819.6 0 0 1 829.5 427.6 L841.6 442.8 A799.4 800.2 0 0 0 822.4 458.6Z" fill="#f0b880"/>
<path d="M834.8 423.4 A818.8 819.6 0 0 1 858 405.9 L888 447.2 A767.8 768.5 0 0 0 866.3 463.6Z" fill="#96c828" fill-opacity="0.64"/>
<path d="M834.8 423.4 A818.8 819.6 0 0 1 858 405.9 L869.1 421.2 A799.9 800.7 0 0 0 846.5 438.3Z" fill="#96c828"/>
<path d="M887.6 385.4 A818.8 819.6 0 0 1 896 379.8 L923.7 422.7 A767.8 768.5 0 0 0 915.7 428Z" fill="#96c828" fill-opacity="0.64"/>
<path d="M887.6 385.4 A818.8 819.6 0 0 1 896 379.8 L908.5 399.1 A795.8 796.6 0 0 0 900.2 404.5Z" fill="#96c828"/>
<path d="M897.5 378.9 A818.8 819.6 0 0 1 935.7 355.8 L960.8 400.2 A767.8 768.5 0 0 0 925 421.9Z" fill="#96c828" fill-opacity="0.64"/>
<path d="M897.5 378.9 A818.8 819.6 0 0 1 935.7 355.8 L945 372.3 A799.9 800.7 0 0 0 907.7 394.8Z" fill="#96c828"/>
<path d="M937.2 355 A818.8 819.6 0 0 1 983.5 330.7 L1005.7 376.7 A767.8 768.5 0 0 0 962.2 399.5Z" fill="#96c828" fill-opacity="0.64"/>
<path d="M937.2 355 A818.8 819.6 0 0 1 983.5 330.7 L992.4 349.1 A798.4 799.2 0 0 0 947.2 372.8Z" fill="#96c828"/>
<path d="M1047.8 303 A818.8 819.6 0 0 1 1050.4 302 L1068.5 349.7 A767.8 768.5 0 0 0 1066 350.7Z" fill="#0a2896" fill-opacity="0.64"/>
<path d="M1047.8 303 A818.8 819.6 0 0 1 1050.4 302 L1059.4 325.8 A793.3 794.1 0 0 0 1056.9 326.8Z" fill="#0a2896"/>
<path d="M1135.6 275 A818.8 819.6 0 0 1 1154.9 270.3 L1166.4 320 A767.8 768.5 0 0 0 1148.3 324.5Z" fill="#0a2896" fill-opacity="0.64"/>
<path d="M1135.6 275 A818.8 819.6 0 0 1 1154.9 270.3 L1159.2 289.2 A799.4 800.2 0 0 0 1140.4 293.8Z" fill="#0a2896"/>
<path d="M1169.5 267 A818.8 819.6 0 0 1 1172.3 266.4 L1182.7 316.4 A767.8 768.5 0 0 0 1180.1 317Z" fill="#0a2896" fill-opacity="0.64"/>
<path d="M1169.5 267 A818.8 819.6 0 0 1 1172.3 266.4 L1177.5 291.4 A793.3 794.1 0 0 0 1174.8 292Z" fill="#0a2896"/>
<path d="M1179.7 264.9 A818.8 819.6 0 0 1 1183.1 264.3 L1192.8 314.4 A767.8 768.5 0 0 0 1189.7 315Z" fill="#7da514" fill-opacity="0.64"/>
<path d="M1179.7 264.9 A818.8 819.6 0 0 1 1183.1 264.3 L1187 284.3 A798.4 799.2 0 0 0 1183.7 285Z" fill="#7da514"/>
<path d="M1278.9 251.4 A818.8 819.6 0 0 1 1281.8 251.2 L1285.4 302.1 A767.8 768.5 0 0 0 1282.7 302.3Z" fill="#0a2896" fill-opacity="0.64"/>
<path d="M1278.9 251.4 A818.8 819.6 0 0 1 1281.8 251.2 L1283.6 276.7 A793.3 794.1 0 0 0 1280.8 276.9Z" fill="#0a2896"/>
<path d="M1332.2 249.2 A818.8 819.6 0 0 1 1365.2 249.6 L1363.6 300.6 A767.8 768.5 0 0 0 1332.6 300.2Z" fill="#0a910a" fill-opacity="0.64"/>
<path d="M1332.2 249.2 A818.8 819.6 0 0 1 1365.2 249.6 L1364.5 270 A798.4 799.2 0 0 0 1332.4 269.6Z" fill="#0a910a"/>
<path d="M1363.9 249.5 A818.8 819.6 0 0 1 1414.8 252.6 L1410.1 303.5 A767.8 768.5 0 0 0 1362.4 300.6Z" fill="#0a910a" fill-opacity="0.64"/>
<path d="M1363.9 249.5 A818.8 819.6 0 0 1 1414.8 252.6 L1412.8 274 A797.4 798.2 0 0 0 1363.3 271Z" fill="#0a910a"/>
<path d="M1439.7 255.3 A818.8 819.6 0 0 1 1443.9 255.8 L1437.4 306.5 A767.8 768.5 0 0 0 1433.4 306Z" fill="#0a910a" fill-opacity="0.64"/>
<path d="M1439.7 255.3 A818.8 819.6 0 0 1 1443.9 255.8 L1441.6 273.6 A800.9 801.7 0 0 0 1437.5 273Z" fill="#0a910a"/>
<path d="M1459.5 258 A818.8 819.6 0 0 1 1462.3 258.4 L1454.7 308.9 A767.8 768.5 0 0 0 1452 308.5Z" fill="#0a2896" fill-opacity="0.64"/>
<path d="M1459.5 258 A818.8 819.6 0 0 1 1462.3 258.4 L1458.5 283.7 A793.3 794.1 0 0 0 1455.8 283.2Z" fill="#0a2896"/>
<path d="M1727.2 346.8 A818.8 819.6 0 0 1 1729.7 348.1 L1705.4 393 A767.8 768.5 0 0 0 1703 391.8Z" fill="#0a2896" fill-opacity="0.64"/>
<path d="M1727.2 346.8 A818.8 819.6 0 0 1 1729.7 348.1 L1717.5 370.6 A793.3 794.1 0 0 0 1715.1 369.3Z" fill="#0a2896"/>
<path d="M1778.3 376.7 A818.8 819.6 0 0 1 1780.7 378.3 L1753.3 421.3 A767.8 768.5 0 0 0 1751 419.9Z" fill="#0a2896" fill-opacity="0.64"/>
<path d="M1778.3 376.7 A818.8 819.6 0 0 1 1780.7 378.3 L1767 399.8 A793.3 794.1 0 0 0 1764.7 398.3Z" fill="#0a2896"/>
<path d="M1805.6 394.8 A818.8 819.6 0 0 1 1847.7 426.1 L1816.1 466.1 A767.8 768.5 0 0 0 1776.6 436.8Z" fill="#8c8c8c" fill-opacity="0.64"/>
<path d="M1805.6 394.8 A818.8 819.6 0 0 1 1847.7 426.1 L1836.7 440.1 A800.9 801.7 0 0 0 1795.4 409.5Z" fill="#8c8c8c"/>
<path d="M1854.1 431.2 A818.8 819.6 0 0 1 1856.8 433.3 L1824.6 472.9 A767.8 768.5 0 0 0 1822.1 470.9Z" fill="#0a6937" fill-opacity="0.64"/>
<path d="M1854.1 431.2 A818.8 819.6 0 0 1 1856.8 433.3 L1845.5 447.2 A800.9 801.7 0 0 0 1842.9 445.1Z" fill="#0a6937"/>
<path d="M1861.2 437 A818.8 819.6 0 0 1 1875.4 449 L1842 487.6 A767.8 768.5 0 0 0 1828.7 476.3Z" fill="#30c8b8" fill-opacity="0.64"/>
<path d="M1861.2 437 A818.8 819.6 0 0 1 1875.4 449 L1862.7 463.6 A799.4 800.2 0 0 0 1848.8 451.9Z" fill="#30c8b8"/>
<path d="M1887.6 459.8 A818.8 819.6 0 0 1 1905.7 476.6 L1870.4 513.5 A767.8 768.5 0 0 0 1853.4 497.7Z" fill="#8c8c8c" fill-opacity="0.64"/>
<path d="M1887.6 459.8 A818.8 819.6 0 0 1 1905.7 476.6 L1894.1 488.8 A802 802.7 0 0 0 1876.3 472.3Z" fill="#8c8c8c"/>
<path d="M1910.7 481.5 A818.8 819.6 0 0 1 1932.8 503.9 L1895.9 539 A767.8 768.5 0 0 0 1875.2 518.1Z" fill="#7da514" fill-opacity="0.64"/>
<path d="M1910.7 481.5 A818.8 819.6 0 0 1 1932.8 503.9 L1920.7 515.5 A802 802.7 0 0 0 1899 493.5Z" fill="#7da514"/>
<path d="M2006 592.6 A818.8 819.6 0 0 1 2008 595.4 L1966.4 624.9 A767.8 768.5 0 0 0 1964.5 622.2Z" fill="#7da514" fill-opacity="0.64"/>
<path d="M2006 592.6 A818.8 819.6 0 0 1 2008 595.4 L1993.4 605.7 A800.9 801.7 0 0 0 1991.5 603Z" fill="#7da514"/>
<path d="M2010.4 598.8 A818.8 819.6 0 0 1 2012.4 601.6 L1970.4 630.7 A767.8 768.5 0 0 0 1968.6 628Z" fill="#7da514" fill-opacity="0.64"/>
<path d="M2010.4 598.8 A818.8 819.6 0 0 1 2012.4 601.6 L1997.7 611.8 A800.9 801.7 0 0 0 1995.8 609Z" fill="#7da514"/>
<path d="M2030.9 629.5 A818.8 819.6 0 0 1 2032.7 632.4 L1989.5 659.6 A767.8 768.5 0 0 0 1987.8 656.8Z" fill="#0a6937" fill-opacity="0.64"/>
<path d="M2030.9 629.5 A818.8 819.6 0 0 1 2032.7 632.4 L2015.4 643.2 A798.4 799.2 0 0 0 2013.6 640.4Z" fill="#0a6937"/>
<path d="M2045.4 653.3 A818.8 819.6 0 0 1 2049 659.4 L2004.8 684.9 A767.8 768.5 0 0 0 2001.4 679.2Z" fill="#ba8a50" fill-opacity="0.64"/>
<path d="M2045.4 653.3 A818.8 819.6 0 0 1 2049 659.4 L2032.2 669.1 A799.4 800.2 0 0 0 2028.7 663.1Z" fill="#ba8a50"/>
<path d="M2053.6 667.7 A818.8 819.6 0 0 1 2058.5 676.4 L2013.7 700.9 A767.8 768.5 0 0 0 2009.2 692.6Z" fill="#f0b880" fill-opacity="0.64"/>
<path d="M2053.6 667.7 A818.8 819.6 0 0 1 2058.5 676.4 L2042.8 685 A800.9 801.7 0 0 0 2038.1 676.4Z" fill="#f0b880"/>
<path d="M2113.7 801.6 A818.8 819.6 0 0 1 2128.8 850.3 L2079.6 863.9 A767.8 768.5 0 0 0 2065.5 818.3Z" fill="#0a910a" fill-opacity="0.64"/>
<path d="M2113.7 801.6 A818.8 819.6 0 0 1 2128.8 850.3 L2111.1 855.2 A800.4 801.2 0 0 0 2096.3 807.6Z" fill="#0a910a"/>
<path d="M2132.1 862.8 A818.8 819.6 0 0 1 2132.9 865.9 L2083.5 878.5 A767.8 768.5 0 0 0 2082.8 875.7Z" fill="#0a910a" fill-opacity="0.64"/>
<path d="M2132.1 862.8 A818.8 819.6 0 0 1 2132.9 865.9 L2115.6 870.3 A800.9 801.7 0 0 0 2114.9 867.3Z" fill="#0a910a"/>
<path d="M2135.1 874.6 A818.8 819.6 0 0 1 2136.1 878.8 L2086.5 890.6 A767.8 768.5 0 0 0 2085.5 886.7Z" fill="#0a910a" fill-opacity="0.64"/>
<path d="M2135.1 874.6 A818.8 819.6 0 0 1 2136.1 878.8 L2116.3 883.5 A798.4 799.2 0 0 0 2115.3 879.5Z" fill="#0a910a"/>
<path d="M2137.2 883.5 A818.8 819.6 0 0 1 2147.3 934 L2096.9 942.4 A767.8 768.5 0 0 0 2087.5 895.1Z" fill="#7da514" fill-opacity="0.64"/>
<path d="M2137.2 883.5 A818.8 819.6 0 0 1 2147.3 934 L2132.2 936.6 A803.5 804.3 0 0 0 2122.3 887Z" fill="#7da514"/>
<path d="M2148.4 941 A818.8 819.6 0 0 1 2153.4 978.4 L2102.7 984 A767.8 768.5 0 0 0 2098 948.9Z" fill="#7da514" fill-opacity="0.64"/>
<path d="M2148.4 941 A818.8 819.6 0 0 1 2153.4 978.4 L2138.2 980.1 A803.5 804.3 0 0 0 2133.3 943.3Z" fill="#7da514"/>
<path d="M1915 1651.8 A818.8 819.6 0 0 1 1913 1653.8 L1877.3 1617.4 A767.8 768.5 0 0 0 1879.2 1615.5Z" fill="#0a2896" fill-opacity="0.64"/>
<path d="M1915 1651.8 A818.8 819.6 0 0 1 1913 1653.8 L1895.1 1635.6 A793.3 794.1 0 0 0 1897.1 1633.7Z" fill="#0a2896"/>
<path d="M1907.8 1658.9 A818.8 819.6 0 0 1 1867.4 1695.3 L1834.6 1656.3 A767.8 768.5 0 0 0 1872.4 1622.1Z" fill="#ff3322" fill-opacity="0.64"/>
<path d="M1907.8 1658.9 A818.8 819.6 0 0 1 1867.4 1695.3 L1849.4 1673.8 A790.7 791.5 0 0 0 1888.3 1638.7Z" fill="#ff3322"/>
<path d="M1862.5 1699.4 A818.8 819.6 0 0 1 1833.3 1722.6 L1802.5 1681.9 A767.8 768.5 0 0 0 1829.9 1660.1Z" fill="#0a2896" fill-opacity="0.64"/>
<path d="M1862.5 1699.4 A818.8 819.6 0 0 1 1833.3 1722.6 L1816.4 1700.2 A790.7 791.5 0 0 0 1844.6 1677.8Z" fill="#0a2896"/>
<path d="M1832.4 1723.3 A818.8 819.6 0 0 1 1808.1 1740.9 L1778.9 1699.1 A767.8 768.5 0 0 0 1801.7 1682.5Z" fill="#0a2896" fill-opacity="0.64"/>
<path d="M1832.4 1723.3 A818.8 819.6 0 0 1 1808.1 1740.9 L1792 1717.9 A790.7 791.5 0 0 0 1815.5 1700.9Z" fill="#0a2896"/>
<path d="M1802.9 1744.5 A818.8 819.6 0 0 1 1718.8 1795.1 L1695.2 1749.9 A767.8 768.5 0 0 0 1774 1702.4Z" fill="#ff3322" fill-opacity="0.64"/>
<path d="M1802.9 1744.5 A818.8 819.6 0 0 1 1718.8 1795.1 L1706.1 1770.7 A791.3 792 0 0 0 1787.3 1721.8Z" fill="#ff3322"/>
<path d="M1713.5 1797.9 A818.8 819.6 0 0 1 1710.4 1799.5 L1687.3 1753.9 A767.8 768.5 0 0 0 1690.2 1752.5Z" fill="#ff3322" fill-opacity="0.64"/>
<path d="M1713.5 1797.9 A818.8 819.6 0 0 1 1710.4 1799.5 L1698.9 1776.7 A793.3 794.1 0 0 0 1701.8 1775.2Z" fill="#ff3322"/>
<path d="M1704.4 1802.5 A818.8 819.6 0 0 1 1701.4 1804 L1678.8 1758.2 A767.8 768.5 0 0 0 1681.7 1756.8Z" fill="#ff3322" fill-opacity="0.64"/>
<path d="M1704.4 1802.5 A818.8 819.6 0 0 1 1701.4 1804 L1690.1 1781.1 A793.3 794.1 0 0 0 1693.1 1779.6Z" fill="#ff3322"/>
<path d="M1697.1 1806.1 A818.8 819.6 0 0 1 1694.6 1807.3 L1672.4 1761.3 A767.8 768.5 0 0 0 1674.9 1760.2Z" fill="#0a2896" fill-opacity="0.64"/>
<path d="M1697.1 1806.1 A818.8 819.6 0 0 1 1694.6 1807.3 L1683.5 1784.3 A793.3 794.1 0 0 0 1686 1783.1Z" fill="#0a2896"/>
<path d="M1548.1 1861.3 A818.8 819.6 0 0 1 1544.7 1862.2 L1532 1812.8 A767.8 768.5 0 0 0 1535.1 1812Z" fill="#ba8a50" fill-opacity="0.64"/>
<path d="M1548.1 1861.3 A818.8 819.6 0 0 1 1544.7 1862.2 L1540.3 1844.9 A800.9 801.7 0 0 0 1543.5 1844.1Z" fill="#ba8a50"/>
<path d="M1532.6 1865.3 A818.8 819.6 0 0 1 1529.8 1865.9 L1517.9 1816.3 A767.8 768.5 0 0 0 1520.5 1815.6Z" fill="#0a2896" fill-opacity="0.64"/>
<path d="M1532.6 1865.3 A818.8 819.6 0 0 1 1529.8 1865.9 L1523.8 1841.1 A793.3 794.1 0 0 0 1526.5 1840.5Z" fill="#0a2896"/>
<path d="M1525 1867.1 A818.8 819.6 0 0 1 1494.9 1873.5 L1485.2 1823.3 A767.8 768.5 0 0 0 1513.5 1817.3Z" fill="#8c8c8c" fill-opacity="0.64"/>
<path d="M1525 1867.1 A818.8 819.6 0 0 1 1494.9 1873.5 L1491.7 1856.9 A802 802.7 0 0 0 1521.2 1850.6Z" fill="#8c8c8c"/>
<path d="M1010.9 1819.4 A818.8 819.6 0 0 1 1008.3 1818.2 L1028.9 1771.5 A767.8 768.5 0 0 0 1031.4 1772.6Z" fill="#0a2896" fill-opacity="0.64"/>
<path d="M1010.9 1819.4 A818.8 819.6 0 0 1 1008.3 1818.2 L1018.6 1794.9 A793.3 794.1 0 0 0 1021.1 1796Z" fill="#0a2896"/>
<path d="M706 1587.9 A818.8 819.6 0 0 1 695.3 1574.5 L735.4 1543 A767.8 768.5 0 0 0 745.5 1555.5Z" fill="#f0b880" fill-opacity="0.64"/>
<path d="M706 1587.9 A818.8 819.6 0 0 1 695.3 1574.5 L711.3 1561.9 A798.4 799.2 0 0 0 721.8 1574.9Z" fill="#f0b880"/>
<path d="M686.6 1563.3 A818.8 819.6 0 0 1 644 1501.1 L687.3 1474.2 A767.8 768.5 0 0 0 727.3 1532.4Z" fill="#ffee30" fill-opacity="0.64"/>
<path d="M686.6 1563.3 A818.8 819.6 0 0 1 644 1501.1 L660 1491.2 A799.9 800.7 0 0 0 701.7 1551.9Z" fill="#ffee30"/>
<path d="M633.2 1483.2 A818.8 819.6 0 0 1 631.8 1480.8 L675.9 1455.1 A767.8 768.5 0 0 0 677.2 1457.4Z" fill="#0a2896" fill-opacity="0.64"/>
<path d="M633.2 1483.2 A818.8 819.6 0 0 1 631.8 1480.8 L653.8 1467.9 A793.3 794.1 0 0 0 655.2 1470.3Z" fill="#0a2896"/>
<path d="M549.8 1285 A818.8 819.6 0 0 1 547.6 1276.7 L596.9 1263.8 A767.8 768.5 0 0 0 599 1271.5Z" fill="#ba8a50" fill-opacity="0.64"/>
<path d="M549.8 1285 A818.8 819.6 0 0 1 547.6 1276.7 L565.4 1272.1 A800.4 801.2 0 0 0 567.5 1280.2Z" fill="#ba8a50"/>
<path d="M547.4 1276 A818.8 819.6 0 0 1 535.8 1225.1 L585.9 1215.4 A767.8 768.5 0 0 0 596.8 1263.1Z" fill="#ba8a50" fill-opacity="0.64"/>
<path d="M547.4 1276 A818.8 819.6 0 0 1 535.8 1225.1 L553.9 1221.6 A800.4 801.2 0 0 0 565.2 1271.4Z" fill="#ba8a50"/>
<path d="M1339.6 1068.8 L2198.8 1234.4 A875 875.9 0 0 1 1664.3 1882.1Z" fill="#1e1eff" fill-opacity="0.15"/>
<path d="M1339.6 1068.8 L1014.9 1882.1 A875 875.9 0 0 1 480.4 1234.4Z" fill="#1e1eff" fill-opacity="0.15"/>
<path d="M533.2 1224.3 A821.2 822 0 1 1 2146 1224.3" fill="none" stroke="#05aaa6" stroke-width="4.8"/>
<path d="M2146 1224.3 A821.2 822 0 0 1 1644.3 1832.1" fill="none" stroke="#14255c" stroke-width="3.3"/>
<path d="M1644.3 1832.1 A821.2 822 0 0 1 1034.9 1832.1" fill="none" stroke="#55b4e9" stroke-width="3.8"/>
<path d="M1034.9 1832.1 A821.2 822 0 0 1 533.2 1224.3" fill="none" stroke="#14255c" stroke-width="3.3"/>
<ellipse cx="1339.6" cy="1068.8" rx="529.4" ry="529.9" fill="none" stroke="#1a1a1a" stroke-width="3"/>
<path d="M816.7 1151.5 L811.2 1152.4M814.2 1133.9 L808.7 1134.6M812.3 1116.3 L806.8 1116.8M811 1098.6 L805.5 1098.9M810.2 1063.1 L804.7 1063M810.7 1045.3 L805.2 1045.1M811.8 1027.6 L806.3 1027.2M813.4 1009.9 L808 1009.3M818.6 974.8 L813.1 973.8M822 957.4 L816.6 956.2M826 940.1 L820.7 938.8M830.6 923 L825.3 921.4M841.5 889.2 L836.3 887.3M847.8 872.6 L842.7 870.5M854.6 856.2 L849.6 854M862 840 L857 837.7M878.4 808.6 L873.6 805.8M887.3 793.2 L882.6 790.4M896.8 778.2 L892.2 775.2M906.8 763.5 L902.3 760.4M928.2 735.2 L923.9 731.8M939.6 721.6 L935.4 718M951.4 708.4 L947.4 704.7M963.7 695.6 L959.8 691.7M989.5 671.2 L985.9 667.1M1003 659.7 L999.5 655.5M1016.9 648.7 L1013.5 644.3M1031.1 638.1 L1027.9 633.6M1060.6 618.4 L1057.7 613.7M1075.8 609.3 L1073.1 604.5M1091.4 600.7 L1088.8 595.8M1107.2 592.6 L1104.7 587.7M1139.5 578.1 L1137.5 573M1156.1 571.7 L1154.2 566.5M1172.8 565.8 L1171.1 560.6M1189.7 560.5 L1188.2 555.2M1224.1 551.6 L1222.9 546.2M1241.4 548 L1240.4 542.6M1258.9 545 L1258.1 539.6M1276.5 542.6 L1275.8 537.1M1311.8 539.5 L1311.5 534M1329.5 538.9 L1329.4 533.4M1347.3 538.9 L1347.4 533.4M1365 539.4 L1365.3 533.9M1400.4 542.3 L1401 536.8M1417.9 544.6 L1418.8 539.2M1435.4 547.6 L1436.4 542.1M1452.8 551.1 L1454 545.7M1487.2 559.8 L1488.7 554.5M1504.1 565.1 L1505.9 559.8M1520.9 570.9 L1522.8 565.7M1537.5 577.2 L1539.5 572.1M1569.9 591.6 L1572.3 586.6M1585.7 599.6 L1588.3 594.7M1601.3 608.1 L1604 603.3M1616.6 617.1 L1619.5 612.4M1646.2 636.7 L1649.3 632.2M1660.4 647.2 L1663.8 642.8M1674.4 658.2 L1677.9 653.9M1687.9 669.7 L1691.5 665.5M1713.8 693.9 L1717.7 690M1726.2 706.7 L1730.2 702.9M1738.1 719.8 L1742.2 716.2M1749.5 733.4 L1753.8 729.9M1771 761.6 L1775.5 758.4M1781.1 776.2 L1785.7 773.2M1790.6 791.2 L1795.3 788.3M1799.7 806.5 L1804.4 803.8M1816.2 837.9 L1821.1 835.5M1823.6 854 L1828.6 851.8M1830.5 870.4 L1835.6 868.3M1836.9 886.9 L1842.1 885M1847.9 920.7 L1853.2 919.1M1852.6 937.8 L1857.9 936.4M1856.7 955.1 L1862.1 953.9M1860.2 972.5 L1865.6 971.5M1865.5 1007.6 L1871 1006.9M1867.2 1025.3 L1872.7 1024.8M1868.4 1043 L1873.9 1042.7M1869 1060.7 L1874.5 1060.6M1868.3 1096.2 L1873.8 1096.5M1867.1 1113.9 L1872.6 1114.4M1865.3 1131.6 L1870.8 1132.2M1862.9 1149.2 L1868.3 1150M1856.3 1184.1 L1861.7 1185.3M1852.2 1201.3 L1857.5 1202.7M1847.5 1218.4 L1852.7 1220M1842.2 1235.4 L1847.4 1237.1M1829.9 1268.7 L1835 1270.8M1822.9 1285 L1828 1287.3M1815.4 1301.1 L1820.4 1303.5M1807.4 1316.9 L1812.2 1319.5M1789.7 1347.7 L1794.4 1350.6M1780.1 1362.7 L1784.7 1365.7M1770.1 1377.3 L1774.5 1380.5M1759.5 1391.5 L1763.9 1394.9M1737 1418.9 L1741.1 1422.6M1725 1432.1 L1729 1435.8M1712.7 1444.8 L1716.5 1448.7M1699.9 1457.1 L1703.6 1461.1M1673.1 1480.4 L1676.5 1484.6M1659.1 1491.3 L1662.4 1495.7M1644.8 1501.8 L1648 1506.3M1630.1 1511.8 L1633.2 1516.4M1599.8 1530.2 L1602.6 1535M1584.3 1538.7 L1586.8 1543.6M1568.4 1546.7 L1570.8 1551.6M1552.3 1554.1 L1554.5 1559.1M1519.3 1567.2 L1521.2 1572.4M1502.6 1573 L1504.2 1578.2M1485.6 1578.1 L1487.1 1583.4M1468.5 1582.8 L1469.8 1588.1M1433.8 1590.2 L1434.8 1595.7M1416.3 1593.1 L1417.1 1598.6M1398.7 1595.4 L1399.3 1600.9M1381 1597.1 L1381.5 1602.6M1345.6 1598.7 L1345.7 1604.2M1327.9 1598.6 L1327.8 1604.1M1310.1 1597.9 L1309.8 1603.4M1292.5 1596.6 L1292 1602.1M1257.3 1592.2 L1256.4 1597.7M1239.8 1589.2 L1238.7 1594.6M1222.4 1585.6 L1221.2 1590.9M1205.2 1581.3 L1203.8 1586.7M1171.2 1571.2 L1169.5 1576.4M1154.5 1565.2 L1152.6 1570.4M1138 1558.8 L1135.9 1563.9M1121.7 1551.7 L1119.4 1556.7M1089.9 1536 L1087.3 1540.9M1074.4 1527.4 L1071.6 1532.2M1059.2 1518.3 L1056.3 1522.9M1044.3 1508.6 L1041.2 1513.2M1015.5 1487.8 L1012.2 1492.2M1001.7 1476.7 L998.2 1481M988.2 1465.2 L984.6 1469.3M975.2 1453.2 L971.4 1457.2M950.3 1427.9 L946.2 1431.6M938.5 1414.6 L934.3 1418.2M927.1 1401 L922.8 1404.4M916.2 1387 L911.8 1390.3M895.9 1357.9 L891.3 1360.9M886.5 1342.8 L881.8 1345.7M877.6 1327.5 L872.8 1330.2M869.2 1311.9 L864.3 1314.4M854 1279.8 L848.9 1282M847.2 1263.4 L842.1 1265.4M840.9 1246.8 L835.7 1248.6M835.3 1229.9 L830 1231.6M825.6 1195.8 L820.3 1197.1M821.6 1178.5 L816.3 1179.6" stroke="#1c1c1c" stroke-width="3" fill="none"/>
<path d="M819.7 1169 L808.9 1171.1M810.3 1080.8 L799.3 1081.1M815.7 992.3 L804.8 990.7M835.8 906 L825.3 902.6M869.9 824.2 L860.2 819.1M917.2 749.2 L908.5 742.6M976.4 683.2 L968.8 675.2M1045.7 628 L1039.6 618.8M1123.2 585.1 L1118.7 575M1206.8 555.7 L1204.1 545.1M1294.1 540.8 L1293.2 529.8M1382.7 540.6 L1383.6 529.6M1470.1 555.2 L1472.8 544.5M1553.8 584.1 L1558.3 574M1631.5 626.7 L1637.6 617.5M1701.1 681.6 L1708.6 673.5M1760.5 747.3 L1769.3 740.6M1808.2 822.1 L1817.9 816.9M1842.7 903.7 L1853.2 900.3M1863.1 990 L1874 988.3M1868.9 1078.5 L1879.9 1078.7M1859.9 1166.7 L1870.7 1168.7M1836.3 1252.1 L1846.6 1255.9M1798.8 1332.5 L1808.4 1337.9M1748.5 1405.4 L1757 1412.4M1686.7 1468.9 L1693.9 1477.3M1615.1 1521.3 L1620.9 1530.7M1535.9 1560.9 L1540 1571.1M1451.2 1586.8 L1453.5 1597.6M1363.3 1598.2 L1363.8 1609.2M1274.8 1594.7 L1273.5 1605.6M1188.1 1576.5 L1185 1587.1M1105.7 1544.2 L1100.8 1554M1029.7 1498.5 L1023.3 1507.4M962.5 1440.7 L954.7 1448.5M905.8 1372.6 L896.8 1378.9M861.3 1295.9 L851.4 1300.7M830.1 1212.9 L819.6 1215.9" stroke="#1c1c1c" stroke-width="3" fill="none"/>
<g font-family='"DejaVu Sans", "Liberation Sans", sans-serif' font-size="15.3" fill="#555" text-anchor="middle">
<text transform="translate(795.3 1159.5) rotate(79.1)" dy="0.35em">0kb</text>
<text transform="translate(787.9 1081.4) rotate(88.7)" dy="0.35em">4kb</text>
<text transform="translate(793.5 989.1) rotate(-81.7)" dy="0.35em">8kb</text>
<text transform="translate(814.4 899.1) rotate(-72.1)" dy="0.35em">12kb</text>
<text transform="translate(850.1 813.8) rotate(-62.5)" dy="0.35em">16kb</text>
<text transform="translate(899.4 735.7) rotate(-52.9)" dy="0.35em">20kb</text>
<text transform="translate(961 666.9) rotate(-43.3)" dy="0.35em">24kb</text>
<text transform="translate(1033.3 609.3) rotate(-33.7)" dy="0.35em">28kb</text>
<text transform="translate(1114.1 564.6) rotate(-24.1)" dy="0.35em">32kb</text>
<text transform="translate(1201.2 534) rotate(-14.5)" dy="0.35em">36kb</text>
<text transform="translate(1292.2 518.4) rotate(-4.9)" dy="0.35em">40kb</text>
<text transform="translate(1384.5 518.2) rotate(4.7)" dy="0.35em">44kb</text>
<text transform="translate(1475.6 533.4) rotate(14.3)" dy="0.35em">48kb</text>
<text transform="translate(1562.9 563.6) rotate(23.9)" dy="0.35em">52kb</text>
<text transform="translate(1643.9 607.9) rotate(33.5)" dy="0.35em">56kb</text>
<text transform="translate(1716.4 665.2) rotate(43.1)" dy="0.35em">60kb</text>
<text transform="translate(1778.3 733.7) rotate(52.7)" dy="0.35em">64kb</text>
<text transform="translate(1828 811.6) rotate(62.3)" dy="0.35em">68kb</text>
<text transform="translate(1864 896.7) rotate(71.9)" dy="0.35em">72kb</text>
<text transform="translate(1885.3 986.7) rotate(81.5)" dy="0.35em">76kb</text>
<text transform="translate(1891.3 1078.9) rotate(271.1)" dy="0.35em">80kb</text>
<text transform="translate(1881.9 1170.8) rotate(280.6)" dy="0.35em">84kb</text>
<text transform="translate(1857.3 1259.9) rotate(290.2)" dy="0.35em">88kb</text>
<text transform="translate(1818.3 1343.6) rotate(299.8)" dy="0.35em">92kb</text>
<text transform="translate(1765.8 1419.7) rotate(309.4)" dy="0.35em">96kb</text>
<text transform="translate(1701.4 1485.9) rotate(319)" dy="0.35em">100kb</text>
<text transform="translate(1626.8 1540.4) rotate(328.6)" dy="0.35em">104kb</text>
<text transform="translate(1544.2 1581.7) rotate(338.2)" dy="0.35em">108kb</text>
<text transform="translate(1455.9 1608.7) rotate(347.8)" dy="0.35em">112kb</text>
<text transform="translate(1364.3 1620.6) rotate(357.4)" dy="0.35em">116kb</text>
<text transform="translate(1272.1 1617) rotate(7)" dy="0.35em">120kb</text>
<text transform="translate(1181.7 1598) rotate(16.6)" dy="0.35em">124kb</text>
<text transform="translate(1095.8 1564.3) rotate(26.2)" dy="0.35em">128kb</text>
<text transform="translate(1016.6 1516.6) rotate(35.8)" dy="0.35em">132kb</text>
<text transform="translate(946.6 1456.5) rotate(45.4)" dy="0.35em">136kb</text>
<text transform="translate(887.5 1385.4) rotate(55)" dy="0.35em">140kb</text>
<text transform="translate(841 1305.6) rotate(64.6)" dy="0.35em">144kb</text>
<text transform="translate(808.6 1219) rotate(74.2)" dy="0.35em">148kb</text>
</g>
<polygon points="841.6,1165.1 835.7,1109.1 840.5,1108.6 828.8,1078.6 823.6,1110.4 828.3,1109.9 834.2,1165.9" fill="#b9b9b9"/>
<polygon points="761.2,1183.7 776.4,1238.6 771.8,1239.8 788.3,1267.5 788.2,1235.3 783.6,1236.6 768.4,1181.7" fill="#7474a0"/>
<clipPath id="clipA"><ellipse cx="1339.6" cy="1069.7" rx="274.1" ry="274.3"/></clipPath>
<path d="M1024.6 1130.4 A320.8 321.1 0 1 1 1654.6 1130.4 L1578.5 1115.7 A243.3 243.5 0 1 0 1100.7 1115.7Z" fill="#00b5ad"/>
<path d="M1654.6 1130.4 A320.8 321.1 0 0 1 1458.6 1367.8 L1429.9 1295.8 A243.3 243.5 0 0 0 1578.5 1115.7Z" fill="#68747c"/>
<path d="M1458.6 1367.8 A320.8 321.1 0 0 1 1220.6 1367.8 L1249.3 1295.8 A243.3 243.5 0 0 0 1429.9 1295.8Z" fill="#8ec6ea"/>
<path d="M1220.6 1367.8 A320.8 321.1 0 0 1 1024.6 1130.4 L1100.7 1115.7 A243.3 243.5 0 0 0 1249.3 1295.8Z" fill="#68747c"/>
<g clip-path="url(#clipA)">
<path d="M1024.6 1130.4 A320.8 321.1 0 1 1 1654.6 1130.4 L1578.5 1115.7 A243.3 243.5 0 1 0 1100.7 1115.7Z" fill="#009e96"/>
<path d="M1654.6 1130.4 A320.8 321.1 0 0 1 1458.6 1367.8 L1429.9 1295.8 A243.3 243.5 0 0 0 1578.5 1115.7Z" fill="#263844"/>
<path d="M1458.6 1367.8 A320.8 321.1 0 0 1 1220.6 1367.8 L1249.3 1295.8 A243.3 243.5 0 0 0 1429.9 1295.8Z" fill="#5ab3e6"/>
<path d="M1220.6 1367.8 A320.8 321.1 0 0 1 1024.6 1130.4 L1100.7 1115.7 A243.3 243.5 0 0 0 1249.3 1295.8Z" fill="#263844"/>
</g>
<path d="M1256.8 807.5 A274.7 274.9 0 0 1 1422.4 807.5 L1415.5 829.4 A251.8 252 0 0 0 1263.7 829.4Z" fill="#00b5ad"/>
<path d="M1424 1331.3 A274.7 274.9 0 0 1 1255.2 1331.3 L1262.3 1309.5 A251.8 252 0 0 0 1416.9 1309.5Z" fill="#8ec6ea"/>
<ellipse cx="1339.6" cy="1069.7" rx="247.3" ry="247.5" fill="#000"/>
<path id="lscA" d="M1119.1 942.2 A254.6 254.8 0 0 1 1560.1 942.2" fill="none"/>
<text font-family='"Liberation Sans", Arial, Helvetica, sans-serif' font-size="29" fill="#042a2c" stroke="#042a2c" stroke-width="0.5" text-anchor="middle"><textPath href="#lscA" startOffset="50%">LSC: 84107</textPath></text>
<path id="sscA" d="M1100.1 1208.1 A276.6 276.8 0 0 0 1579.1 1208.1" fill="none"/>
<text font-family='"Liberation Sans", Arial, Helvetica, sans-serif' font-size="29" fill="#12304c" stroke="#12304c" stroke-width="0.5" text-anchor="middle"><textPath href="#sscA" startOffset="50%">SSC: 18154</textPath></text>
<path id="iraA" d="M1288.8 1371.3 A305.6 305.9 0 0 0 1625.9 962.8" fill="none"/>
<text font-family='"Liberation Sans", Arial, Helvetica, sans-serif' font-size="29" fill="#e2e5e8" stroke="#e2e5e8" stroke-width="0.5" text-anchor="middle"><textPath href="#iraA" startOffset="50%">IRA: 23887</textPath></text>
<path id="irbA" d="M1053.3 962.8 A305.6 305.9 0 0 0 1390.4 1371.3" fill="none"/>
<text font-family='"Liberation Sans", Arial, Helvetica, sans-serif' font-size="29" fill="#e2e5e8" stroke="#e2e5e8" stroke-width="0.5" text-anchor="middle"><textPath href="#irbA" startOffset="50%">IRB: 23887</textPath></text>
<g font-family='"Liberation Sans", Arial, Helvetica, sans-serif' font-weight="bold" font-style="italic" fill="#f4f4f4" text-anchor="middle">
<text x="1348.6" y="926.8" font-size="32.6">Euchresta tubulosa</text>
<text x="1358.6" y="972.2" font-size="36.5">chloroplast</text>
<text x="1340.6" y="1028.2" font-size="36.5">Plastid Genome</text>
<text x="1339.6" y="1077" font-size="29.3">78 genes; 8 rRNAs; 35 tRNAs</text>
<text x="1333.1" y="1128.2" font-size="29.3">150,035 bp</text>
<text x="1339.6" y="1183.8" font-size="29.3">GC: 36 %</text>
</g>
<path d="M577.2 977.9 A767.8 768.5 0 0 1 584.4 930.3M584.4 930.3 A767.8 768.5 0 0 1 586.9 917.4M589.6 904.1 A767.8 768.5 0 0 1 594.6 883M595.8 878 A767.8 768.5 0 0 1 600.2 861.6M600.7 860 A767.8 768.5 0 0 1 608.4 834.5M609.1 832 A767.8 768.5 0 0 1 613.6 818.7M638.8 754.8 A767.8 768.5 0 0 1 688.6 661.3M689.2 660.4 A767.8 768.5 0 0 1 742.6 585.5M744.6 583 A767.8 768.5 0 0 1 835.4 489.2M842.9 482.7 A767.8 768.5 0 0 1 861.3 467.5M866.3 463.6 A767.8 768.5 0 0 1 888 447.2M915.7 428 A767.8 768.5 0 0 1 923.7 422.7M925 421.9 A767.8 768.5 0 0 1 960.8 400.2M962.2 399.5 A767.8 768.5 0 0 1 1005.7 376.7M1065.7 350.8 A767.8 768.5 0 0 1 1068.7 349.6M1148.3 324.5 A767.8 768.5 0 0 1 1166.4 320M1179.8 317 A767.8 768.5 0 0 1 1183 316.4M1189.7 315 A767.8 768.5 0 0 1 1192.8 314.4M1282.4 302.3 A767.8 768.5 0 0 1 1285.6 302.1M1332.6 300.2 A767.8 768.5 0 0 1 1363.6 300.6M1362.4 300.6 A767.8 768.5 0 0 1 1410.1 303.5M1433.8 306 A767.8 768.5 0 0 1 1437 306.4M1451.8 308.5 A767.8 768.5 0 0 1 1454.9 308.9M1702.8 391.6 A767.8 768.5 0 0 1 1705.6 393.2M1750.8 419.7 A767.8 768.5 0 0 1 1753.5 421.4M1776.6 436.8 A767.8 768.5 0 0 1 1816.1 466.1M1822.1 470.9 A767.8 768.5 0 0 1 1824.6 472.9M1828.7 476.3 A767.8 768.5 0 0 1 1842 487.6M1853.4 497.7 A767.8 768.5 0 0 1 1870.4 513.5M1875.2 518.1 A767.8 768.5 0 0 1 1895.9 539M1964.5 622.2 A767.8 768.5 0 0 1 1966.4 624.9M1968.6 628 A767.8 768.5 0 0 1 1970.4 630.7M1987.8 656.8 A767.8 768.5 0 0 1 1989.5 659.6M2002.3 680.7 A767.8 768.5 0 0 1 2003.9 683.4M2009.2 692.6 A767.8 768.5 0 0 1 2013.7 700.9M2065.5 818.3 A767.8 768.5 0 0 1 2079.6 863.9M2082.7 875.5 A767.8 768.5 0 0 1 2083.5 878.7M2085.6 887.1 A767.8 768.5 0 0 1 2086.4 890.3M2087.5 895.1 A767.8 768.5 0 0 1 2096.9 942.4M2098 948.9 A767.8 768.5 0 0 1 2102.7 984M1879.4 1615.3 A767.8 768.5 0 0 1 1877.1 1617.6M1872.4 1622.1 A767.8 768.5 0 0 1 1834.6 1656.3M1829.9 1660.1 A767.8 768.5 0 0 1 1802.5 1681.9M1801.7 1682.5 A767.8 768.5 0 0 1 1778.9 1699.1M1774 1702.4 A767.8 768.5 0 0 1 1695.2 1749.9M1690.2 1752.5 A767.8 768.5 0 0 1 1687.3 1753.9M1681.7 1756.8 A767.8 768.5 0 0 1 1678.8 1758.2M1675.1 1760 A767.8 768.5 0 0 1 1672.2 1761.4M1535.1 1812 A767.8 768.5 0 0 1 1532 1812.8M1520.8 1815.6 A767.8 768.5 0 0 1 1517.7 1816.3M1513.5 1817.3 A767.8 768.5 0 0 1 1485.2 1823.3M1031.6 1772.7 A767.8 768.5 0 0 1 1028.7 1771.4M745.5 1555.5 A767.8 768.5 0 0 1 735.4 1543M727.3 1532.4 A767.8 768.5 0 0 1 687.3 1474.2M677.4 1457.7 A767.8 768.5 0 0 1 675.8 1454.9M599 1271.5 A767.8 768.5 0 0 1 596.9 1263.8M596.8 1263.1 A767.8 768.5 0 0 1 585.9 1215.4" fill="none" stroke="#1e1e1e" stroke-width="2.6"/>
<path d="M977.9 272.5 A873.8 874.7 0 0 1 1005.9 260.4M1038.2 247.8 A873.8 874.7 0 0 1 1061.9 239.4M1487 206.6 A873.8 874.7 0 0 1 1500 209M1503.6 209.6 A873.8 874.7 0 0 1 1583.7 228.9M1584.6 229.2 A873.8 874.7 0 0 1 1663.4 256.4M1685.5 265.5 A873.8 874.7 0 0 1 1751.6 297.4M2013.4 511.8 A873.8 874.7 0 0 1 2019.7 519.6M2104.2 645.4 A873.8 874.7 0 0 1 2110.8 657.4M2128.9 693.4 A873.8 874.7 0 0 1 2158.5 763.6M2208.7 977.9 A873.8 874.7 0 0 1 2211.8 1015.2M2211.9 1018.1 A873.8 874.7 0 0 1 2212.7 1033.8M2213.4 1074.9 A873.8 874.7 0 0 1 2213.2 1089.7M2212.8 1101 A873.8 874.7 0 0 1 2212.2 1114.8M2211.9 1119.6 A873.8 874.7 0 0 1 2206.8 1176.6M2206.4 1179.3 A873.8 874.7 0 0 1 2202.3 1207.8M2199.2 1225.9 A873.8 874.7 0 0 1 2197.4 1235.6M2197.4 1235.6 A873.8 874.7 0 0 1 2185 1290M2184.8 1290.7 A873.8 874.7 0 0 1 2182.4 1299.6M2081.9 1530.2 A873.8 874.7 0 0 1 2036.5 1596.4M2027.9 1607.6 A873.8 874.7 0 0 1 2013.8 1625.2M2012.4 1626.9 A873.8 874.7 0 0 1 2000.3 1641.2M1667.8 1879.4 A873.8 874.7 0 0 1 1588.9 1907M1440 1937.6 A873.8 874.7 0 0 1 1429 1938.8M1419.4 1939.8 A873.8 874.7 0 0 1 1406.6 1940.8M1399.2 1941.4 A873.8 874.7 0 0 1 1376.8 1942.6M1367.2 1943 A873.8 874.7 0 0 1 1348.9 1943.4" fill="none" stroke="#3a3a3a" stroke-opacity="0.75" stroke-width="1.8"/>
<path d="M480.9 1235 L448.5 1241.3M476.4 1209.7 L443.8 1215M467.3 1132.3 L459.1 1132.9 C450.8 1133.5 451.6 1142.8 443.3 1143.5 L435.1 1144.2M467.1 1129.5 L458.9 1130.1 C450.6 1130.7 450 1121.3 441.8 1121.8 L433.6 1122.2M466.7 1013.9 L433.8 1011.8M483.9 887.6 L451.6 880.8M530.3 736.8 L499.7 724.3M974.5 273.2 L971.1 265.7 C967.7 258.2 966.5 258.7 963 251.2 L959.5 243.7M991.5 265.6 L988.3 258 C985 250.4 986.2 249.9 982.9 242.3 L979.6 234.7M1049.7 242.8 L1038.8 211.6M1070.6 235.7 L1060.5 204.3M1206.6 203.5 L1205.3 195.3 C1204 187.1 1195.6 188.5 1194.2 180.3 L1192.9 172.2M1223.3 201.1 L1222.2 192.9 C1221.1 184.7 1216.9 185.3 1215.8 177.1 L1214.7 168.9M1242.4 198.7 L1241.5 190.5 C1240.6 182.3 1238.4 182.5 1237.4 174.3 L1236.5 166.1M1246.7 198.2 L1245.8 190 C1244.9 181.8 1259.9 180.3 1259.1 172.1 L1258.4 163.9M1432.7 198.3 L1436.2 165.4M1479.9 204.6 L1481.2 196.5 C1482.5 188.3 1478.9 187.7 1480.2 179.6 L1481.5 171.4M1493.7 207 L1495.1 198.8 C1496.6 190.7 1500.2 191.4 1501.7 183.2 L1503.2 175.1M1544.1 217.5 L1551.8 185.4M1624.6 241.1 L1635.3 209.8M1719.2 280.1 L1733.6 250.3M1769.5 306.3 L1785.7 277.6M1791.5 319.2 L1808.6 290.9M2004.8 500.3 L2011 494.9 C2017.3 489.6 2009.7 480.8 2015.9 475.4 L2022.2 469.9M2011.3 508.1 L2036.5 486.7M2017.2 515.2 L2023.6 510 C2030 504.7 2037.4 514 2043.9 508.9 L2050.3 503.7M2059.2 571.1 L2066 566.4 C2072.8 561.7 2069 556.3 2075.7 551.6 L2082.5 546.8M2063.8 577.9 L2070.7 573.3 C2077.5 568.7 2081.2 574.2 2088 569.6 L2094.9 565M2108.2 651 L2137.2 635.2M2125.9 685.4 L2155.6 670.9M2145.2 727.9 L2175.6 715M2186.5 850 L2218.4 841.7M2211.2 996.5 L2244.1 993.8M2213.2 1025.9 L2246.1 1024.3M2214.1 1052.4 L2247.1 1051.8M2214.1 1082.3 L2247.1 1082.8M2213.3 1107.9 L2246.3 1109.4M2210.6 1148.2 L2243.5 1151.2M2205.3 1193.7 L2237.9 1198.4M2199.1 1230.9 L2231.5 1237M2192.4 1263.1 L2224.6 1270.4M2184.4 1295.3 L2216.3 1303.9M2096.3 1507.7 L2124.9 1524.2M2060.7 1564.2 L2087.9 1582.9M2021.5 1617 L2047.2 1637.7M2007 1634.6 L2032.2 1655.9M1694.8 1868.8 L1708.2 1899M1629 1894.9 L1639.9 1926.1M1434.6 1939 L1438.2 1971.9M1413.1 1941.1 L1415.9 1974M1388 1942.9 L1389.9 1975.9M1358.1 1944 L1358.8 1977.1M1303 1943.4 L1301.6 1976.5M1239.1 1938.4 L1235.3 1971.2M1208.1 1934.3 L1203.2 1966.9M960.5 1857.7 L956.9 1865.1 C953.3 1872.6 963.5 1877.4 960 1884.9 L956.5 1892.4M951.5 1853.3 L936.7 1882.8M942.1 1848.6 L938.4 1855.9 C934.6 1863.3 924.8 1858.2 920.9 1865.5 L917.1 1872.8M890.1 1819.7 L873.1 1848.1M828.7 1779.3 L809.5 1806.2M798.7 1756.7 L778.3 1782.7M756.2 1721 L734.2 1745.6M730 1696.5 L707 1720.2M673.6 1636.3 L648.5 1657.7M580.4 954 L613.1 959M585.6 923.8 L618 930M592 893.5 L624.2 901M598 869.8 L629.9 878.3M604.4 847.2 L636 856.8M611.3 825.3 L642.7 835.8M662.1 707.2 L691.2 722.7M714.8 622.1 L741.6 641.3M788 534.2 L811.7 557.1M852.1 475 L873 500.6M877.1 455.3 L896.9 481.7M919.7 425.3 L937.7 453M942.8 410.8 L959.8 439.1M983.8 387.7 L999.1 417M1067.2 350.2 L1078.9 381.1M1157.3 322.2 L1159.3 330.2 C1161.2 338.2 1158.2 339 1160.2 347 L1162.2 355M1181.4 316.7 L1183.1 324.8 C1184.8 332.9 1180.1 333.9 1181.9 341.9 L1183.6 350M1191.3 314.7 L1192.9 322.8 C1194.4 330.9 1202.2 329.4 1203.7 337.5 L1205.2 345.7M1284 302.2 L1286.4 335.2M1348.1 300.3 L1347.7 333.3M1386.3 301.6 L1384.3 334.6M1435.4 306.2 L1434.4 314.4 C1433.4 322.6 1431 322.3 1430 330.5 L1429 338.7M1453.4 308.7 L1452.1 316.9 C1450.9 325 1453.3 325.4 1452 333.6 L1450.8 341.7M1704.2 392.4 L1688.5 421.5M1752.1 420.6 L1734.4 448.4M1796.6 451.2 L1776.9 477.7M1823.3 471.9 L1818.1 478.3 C1812.9 484.7 1810.1 482.5 1805 488.9 L1799.8 495.4M1835.4 481.9 L1830.1 488.2 C1824.7 494.5 1827.4 496.9 1822.1 503.1 L1816.7 509.4M1862 505.5 L1839.5 529.8M1885.6 528.5 L1862.2 551.7M1965.4 623.6 L1958.7 628.3 C1952 633.1 1947.5 626.8 1940.8 631.7 L1934.1 636.5M1969.5 629.4 L1962.8 634.1 C1956 638.8 1960.4 645.2 1953.6 649.9 L1946.8 654.5M1988.7 658.2 L1960.7 675.8M2003.1 682 L1996 686.2 C1988.8 690.4 1987.3 687.8 1980.2 692 L1973.1 696.1M2011.4 696.7 L2004.2 700.7 C1997 704.7 1998.4 707.4 1991.2 711.3 L1984 715.3M2072.9 841 L2041.4 850.8M2083.1 877.1 L2075.1 879.2 C2067.1 881.2 2065.8 876 2057.8 878.1 L2049.8 880.2M2086 888.7 L2078 890.6 C2070 892.6 2071.2 897.8 2063.2 899.7 L2055.1 901.6M2092.6 918.7 L2060.2 925.1M2100.6 966.4 L2067.8 970.8M1878.2 1616.4 L1855.1 1592.9M1853.7 1639.5 L1831.6 1615M1816.4 1671.2 L1795.9 1645.3M1790.4 1690.9 L1771 1664.2M1735.3 1727.3 L1718.3 1699M1688.8 1753.2 L1685 1745.9 C1681.3 1738.5 1693.6 1732.1 1689.7 1724.8 L1685.8 1717.5M1680.3 1757.5 L1676.6 1750.1 C1672.9 1742.7 1673.6 1742.4 1669.9 1735 L1666.2 1727.6M1673.6 1760.7 L1670.1 1753.3 C1666.5 1745.9 1653.3 1752.1 1649.8 1744.6 L1646.4 1737.1M1533.5 1812.4 L1531.4 1804.4 C1529.4 1796.4 1535.4 1794.8 1533.2 1786.8 L1531.1 1778.8M1519.2 1816 L1517.3 1807.9 C1515.4 1799.9 1513.6 1800.3 1511.7 1792.3 L1509.8 1784.3M1499.4 1820.5 L1497.6 1812.4 C1495.9 1804.3 1491.6 1805.2 1489.9 1797.1 L1488.3 1789M1030.1 1772.1 L1043.4 1741.9M740.4 1549.3 L766.2 1528.6M706.7 1503.8 L733.9 1485.1M676.6 1456.3 L705.1 1439.6M598 1267.7 L629.9 1259.1M591 1239.3 L623.2 1232" fill="none" stroke="#262626" stroke-width="2.7"/>
<g font-family='"Liberation Sans", Arial, Helvetica, sans-serif' font-size="22.1" fill="#3a3a3a" stroke="#3a3a3a" stroke-width="0.35">
<text transform="translate(445.6 1241.9) rotate(-10.9)" text-anchor="end" dy="0.35em">trnH</text>
<text transform="translate(440.9 1215.5) rotate(-9.3)" text-anchor="end" dy="0.35em">psbA (0.72)</text>
<text transform="translate(432.1 1144.5) rotate(-4.8)" text-anchor="end" dy="0.35em">matK (0.5)</text>
<text transform="translate(430.6 1122.4) rotate(-3.4)" text-anchor="end" dy="0.35em">trnK</text>
<text transform="translate(430.8 1011.6) rotate(3.6)" text-anchor="end" dy="0.35em">rbcL (0.54)</text>
<text transform="translate(448.7 880.2) rotate(11.9)" text-anchor="end" dy="0.35em">trnM</text>
<text transform="translate(497 723.2) rotate(22.3)" text-anchor="end" dy="0.35em">trnC</text>
<text transform="translate(958.3 241) rotate(65.2)" text-anchor="end" dy="0.35em">trnR</text>
<text transform="translate(978.5 232) rotate(66.6)" text-anchor="end" dy="0.35em">trnG</text>
<text transform="translate(1037.8 208.8) rotate(70.6)" text-anchor="end" dy="0.35em">rps4 (0.67)</text>
<text transform="translate(1059.6 201.4) rotate(72.1)" text-anchor="end" dy="0.35em">trnT</text>
<text transform="translate(1192.4 169.2) rotate(80.7)" text-anchor="end" dy="0.35em">psbM (0.41)</text>
<text transform="translate(1214.2 165.9) rotate(82.1)" text-anchor="end" dy="0.35em">trnD</text>
<text transform="translate(1236.2 163.1) rotate(83.5)" text-anchor="end" dy="0.35em">trnY</text>
<text transform="translate(1258.1 160.9) rotate(84.9)" text-anchor="end" dy="0.35em">trnE</text>
<text transform="translate(1436.5 162.4) rotate(-83.9)" dy="0.35em">trnS</text>
<text transform="translate(1481.9 168.4) rotate(-81)" dy="0.35em">trnfM</text>
<text transform="translate(1503.7 172.2) rotate(-79.6)" dy="0.35em">rps14 (0.52)</text>
<text transform="translate(1552.5 182.5) rotate(-76.5)" dy="0.35em">psaB (0.51)</text>
<text transform="translate(1636.3 207) rotate(-71)" dy="0.35em">psaA (0.51)</text>
<text transform="translate(1734.9 247.6) rotate(-64.3)" dy="0.35em">ycf3 (0.79)</text>
<text transform="translate(1787.2 274.9) rotate(-60.6)" dy="0.35em">psbI (0.79)</text>
<text transform="translate(1810.1 288.3) rotate(-58.9)" dy="0.35em">psbK (0.37)</text>
<text transform="translate(2024.4 467.9) rotate(-41.2)" dy="0.35em">psbJ (0.82)</text>
<text transform="translate(2038.8 484.7) rotate(-39.8)" dy="0.35em">psbF (0.46)</text>
<text transform="translate(2052.7 501.9) rotate(-38.5)" dy="0.35em">psbE (0.56)</text>
<text transform="translate(2084.9 545.1) rotate(-35.1)" dy="0.35em">trnW</text>
<text transform="translate(2097.4 563.3) rotate(-33.7)" dy="0.35em">trnP</text>
<text transform="translate(2139.9 633.8) rotate(-28.5)" dy="0.35em">rpl20 (0.62)</text>
<text transform="translate(2158.3 669.6) rotate(-26)" dy="0.35em">rps12 (0.65)</text>
<text transform="translate(2178.4 713.8) rotate(-22.9)" dy="0.35em">clpP (0.66)</text>
<text transform="translate(2221.3 841) rotate(-14.5)" dy="0.35em">psbN (0.61)</text>
<text transform="translate(2247.1 993.5) rotate(-4.7)" dy="0.35em">rpoA (0.79)</text>
<text transform="translate(2249.1 1024.1) rotate(-2.8)" dy="0.35em">rps11 (0.65)</text>
<text transform="translate(2250.1 1051.7) rotate(-1.1)" dy="0.35em">rpl36 (0.62)</text>
<text transform="translate(2250.1 1082.8) rotate(0.9)" dy="0.35em">rps8 (0.49)</text>
<text transform="translate(2249.3 1109.5) rotate(2.6)" dy="0.35em">rpl14 (−0.043)</text>
<text transform="translate(2246.5 1151.4) rotate(5.2)" dy="0.35em">rpl16 (0.55)</text>
<text transform="translate(2240.9 1198.8) rotate(8.2)" dy="0.35em">rps3 (0.54)</text>
<text transform="translate(2234.5 1237.6) rotate(10.7)" dy="0.35em">rps19 (0.55)</text>
<text transform="translate(2227.5 1271.1) rotate(12.8)" dy="0.35em">rpl2 (0.63)</text>
<text transform="translate(2219.2 1304.7) rotate(15)" dy="0.35em">rpl23 (0.71)</text>
<text transform="translate(2127.5 1525.7) rotate(30.1)" dy="0.35em">trnL</text>
<text transform="translate(2090.3 1584.6) rotate(34.5)" dy="0.35em">ndhB (0.48)</text>
<text transform="translate(2049.6 1639.5) rotate(38.8)" dy="0.35em">rps7 (0.64)</text>
<text transform="translate(2034.5 1657.9) rotate(40.3)" dy="0.35em">rps12 (0.67)</text>
<text transform="translate(1709.4 1901.7) rotate(66)" dy="0.35em">trnN</text>
<text transform="translate(1640.9 1928.9) rotate(70.7)" dy="0.35em">ndhF (0.58)</text>
<text transform="translate(1438.5 1974.9) rotate(83.8)" dy="0.35em">psaC (0.63)</text>
<text transform="translate(1416.1 1977) rotate(85.2)" dy="0.35em">ndhE (0.81)</text>
<text transform="translate(1390 1978.9) rotate(86.8)" dy="0.35em">ndhG (0.51)</text>
<text transform="translate(1358.8 1980.1) rotate(88.8)" dy="0.35em">ndhI (0.62)</text>
<text transform="translate(1301.5 1979.5) rotate(-87.6)" text-anchor="end" dy="0.35em">ndhA (0.52)</text>
<text transform="translate(1234.9 1974.2) rotate(-83.4)" text-anchor="end" dy="0.35em">ndhH (0.54)</text>
<text transform="translate(1202.7 1969.9) rotate(-81.4)" text-anchor="end" dy="0.35em">rps15 (0.53)</text>
<text transform="translate(955.3 1895.1) rotate(-65)" text-anchor="end" dy="0.35em">trnR</text>
<text transform="translate(935.4 1885.5) rotate(-63.6)" text-anchor="end" dy="0.35em">rrn5</text>
<text transform="translate(915.7 1875.5) rotate(-62.3)" text-anchor="end" dy="0.35em">rrn4.5</text>
<text transform="translate(871.5 1850.6) rotate(-59.1)" text-anchor="end" dy="0.35em">rrn23</text>
<text transform="translate(807.7 1808.6) rotate(-54.3)" text-anchor="end" dy="0.35em">trnA</text>
<text transform="translate(776.5 1785.1) rotate(-51.8)" text-anchor="end" dy="0.35em">trnI</text>
<text transform="translate(732.2 1747.8) rotate(-48.2)" text-anchor="end" dy="0.35em">rrn16</text>
<text transform="translate(704.9 1722.3) rotate(-45.8)" text-anchor="end" dy="0.35em">trnV</text>
<text transform="translate(646.2 1659.6) rotate(-40.4)" text-anchor="end" dy="0.35em">rps12</text>
<text transform="translate(616 959.4) rotate(8.6)" dy="0.35em">atpB (0.51)</text>
<text transform="translate(621 930.6) rotate(10.9)" dy="0.35em">atpE (0.46)</text>
<text transform="translate(627.1 901.7) rotate(13.2)" dy="0.35em">trnV</text>
<text transform="translate(632.8 879.1) rotate(15)" dy="0.35em">ndhC (0.55)</text>
<text transform="translate(638.9 857.6) rotate(16.8)" dy="0.35em">ndhK (0.54)</text>
<text transform="translate(645.5 836.7) rotate(18.5)" dy="0.35em">ndhJ (0.53)</text>
<text transform="translate(693.9 724.1) rotate(28.1)" dy="0.35em">rpoB (0.51)</text>
<text transform="translate(744.1 643.1) rotate(35.5)" dy="0.35em">rpoC1 (0.48)</text>
<text transform="translate(813.9 559.2) rotate(44.1)" dy="0.35em">rpoC2 (0.49)</text>
<text transform="translate(874.9 502.9) rotate(50.6)" dy="0.35em">rps2 (0.51)</text>
<text transform="translate(898.7 484.1) rotate(53)" dy="0.35em">atpI (0.62)</text>
<text transform="translate(939.4 455.5) rotate(56.8)" dy="0.35em">atpH (0.51)</text>
<text transform="translate(961.4 441.7) rotate(58.9)" dy="0.35em">atpF (0.52)</text>
<text transform="translate(1000.5 419.7) rotate(62.4)" dy="0.35em">atpA (0.55)</text>
<text transform="translate(1080 383.9) rotate(69.2)" dy="0.35em">trnS</text>
<text transform="translate(1162.9 357.9) rotate(76)" dy="0.35em">trnL</text>
<text transform="translate(1184.3 353) rotate(77.7)" dy="0.35em">trnF</text>
<text transform="translate(1205.8 348.6) rotate(79.5)" dy="0.35em">petN (0.67)</text>
<text transform="translate(1286.6 338.2) rotate(85.8)" dy="0.35em">trnT</text>
<text transform="translate(1347.7 336.3) rotate(-89.4)" text-anchor="end" dy="0.35em">psbD (0.52)</text>
<text transform="translate(1384.1 337.6) rotate(-86.5)" text-anchor="end" dy="0.35em">psbC (0.85)</text>
<text transform="translate(1428.6 341.7) rotate(-83)" text-anchor="end" dy="0.35em">psbZ (0.57)</text>
<text transform="translate(1450.3 344.7) rotate(-81.3)" text-anchor="end" dy="0.35em">trnG</text>
<text transform="translate(1687.1 424.1) rotate(-61.7)" text-anchor="end" dy="0.35em">trnS</text>
<text transform="translate(1732.8 451) rotate(-57.5)" text-anchor="end" dy="0.35em">trnQ</text>
<text transform="translate(1775.1 480.1) rotate(-53.5)" text-anchor="end" dy="0.35em">accD (0.54)</text>
<text transform="translate(1797.9 497.7) rotate(-51.2)" text-anchor="end" dy="0.35em">psaI (0.42)</text>
<text transform="translate(1814.8 511.7) rotate(-49.5)" text-anchor="end" dy="0.35em">ycf4 (0.56)</text>
<text transform="translate(1837.5 532) rotate(-47.1)" text-anchor="end" dy="0.35em">cemA (0.71)</text>
<text transform="translate(1860 553.8) rotate(-44.7)" text-anchor="end" dy="0.35em">petA (0.51)</text>
<text transform="translate(1931.7 638.3) rotate(-36)" text-anchor="end" dy="0.35em">petL (0.51)</text>
<text transform="translate(1944.3 656.2) rotate(-34.3)" text-anchor="end" dy="0.35em">petG (0.56)</text>
<text transform="translate(1958.2 677.4) rotate(-32.3)" text-anchor="end" dy="0.35em">psaJ (0.55)</text>
<text transform="translate(1970.5 697.7) rotate(-30.4)" text-anchor="end" dy="0.35em">rpl33 (0.26)</text>
<text transform="translate(1981.3 716.7) rotate(-28.7)" text-anchor="end" dy="0.35em">rps18 (0.82)</text>
<text transform="translate(2038.5 851.7) rotate(-17.2)" text-anchor="end" dy="0.35em">psbB (0.52)</text>
<text transform="translate(2046.9 881) rotate(-14.9)" text-anchor="end" dy="0.35em">psbT (0.48)</text>
<text transform="translate(2052.2 902.3) rotate(-13.1)" text-anchor="end" dy="0.35em">psbH (0.53)</text>
<text transform="translate(2057.3 925.7) rotate(-11.3)" text-anchor="end" dy="0.35em">petB (0.46)</text>
<text transform="translate(2064.9 971.2) rotate(-7.6)" text-anchor="end" dy="0.35em">petD (0.47)</text>
<text transform="translate(1853 1590.8) rotate(45.4)" text-anchor="end" dy="0.35em">trnV</text>
<text transform="translate(1829.6 1612.8) rotate(48)" text-anchor="end" dy="0.35em">rrn16</text>
<text transform="translate(1794 1642.9) rotate(51.6)" text-anchor="end" dy="0.35em">trnI</text>
<text transform="translate(1769.2 1661.7) rotate(54.1)" text-anchor="end" dy="0.35em">trnA</text>
<text transform="translate(1716.8 1696.5) rotate(59)" text-anchor="end" dy="0.35em">rrn23</text>
<text transform="translate(1684.4 1714.8) rotate(61.9)" text-anchor="end" dy="0.35em">rrn4.5</text>
<text transform="translate(1664.9 1724.9) rotate(63.6)" text-anchor="end" dy="0.35em">rrn5</text>
<text transform="translate(1645.1 1734.3) rotate(65.3)" text-anchor="end" dy="0.35em">trnR</text>
<text transform="translate(1530.3 1775.9) rotate(74.9)" text-anchor="end" dy="0.35em">rpl32 (−0.76)</text>
<text transform="translate(1509.1 1781.3) rotate(76.6)" text-anchor="end" dy="0.35em">trnL</text>
<text transform="translate(1487.7 1786.1) rotate(78.3)" text-anchor="end" dy="0.35em">ccsA (0.6)</text>
<text transform="translate(1044.6 1739.1) rotate(-66.2)" dy="0.35em">trnN</text>
<text transform="translate(768.5 1526.7) rotate(-38.7)" dy="0.35em">rps7 (−0.23)</text>
<text transform="translate(736.3 1483.4) rotate(-34.5)" dy="0.35em">ndhB (0.78)</text>
<text transform="translate(707.7 1438.1) rotate(-30.3)" dy="0.35em">trnL</text>
<text transform="translate(632.8 1258.3) rotate(-15)" dy="0.35em">rpl23 (0.48)</text>
<text transform="translate(626.1 1231.3) rotate(-12.8)" dy="0.35em">rpl2 (0.6)</text>
</g>
<ellipse cx="1353.2" cy="3269.9" rx="878.8" ry="880.7" fill="#e6e6e6"/>
<ellipse cx="1353.2" cy="3269.9" rx="534.9" ry="536.1" fill="#b8b8b8"/>
<path d="M828.1 3372.3A534.9 536.1 0 1 1 1878.1 3373.3L1783.5 3354.7 L1783.9 3352.7L1796.1 3355.1 L1796.4 3353.1L1786.7 3351.2 L1787.1 3349.3L1762.6 3344.8 L1762.9 3343L1788.2 3347.5 L1788.6 3345.5L1783.6 3344.7 L1783.9 3342.7L1775.5 3341.3 L1775.8 3339.4L1788.5 3341.5 L1788.8 3339.5L1777.2 3337.7 L1777.5 3335.8L1770.7 3334.7 L1771 3332.8L1785.6 3335 L1785.8 3333.1L1787.9 3333.4 L1788.2 3331.4L1780 3330.3 L1780.2 3328.3L1785.4 3329.1 L1785.7 3327.1L1795.2 3328.4 L1795.4 3326.4L1806.4 3327.8 L1806.6 3325.7L1786.8 3323.3 L1787 3321.3L1794.7 3322.2 L1794.9 3320.3L1796 3320.4 L1796.2 3318.4L1815.1 3320.5 L1815.3 3318.4L1792.1 3315.9 L1792.3 3314L1797 3314.4 L1797.2 3312.4L1801.7 3312.9 L1801.9 3310.9L1793.1 3310.1 L1793.3 3308.1L1795.4 3308.3 L1795.5 3306.3L1797.9 3306.5 L1798 3304.5L1771.4 3302.4 L1771.6 3300.5L1776.2 3300.9 L1776.4 3299L1779.8 3299.2 L1779.9 3297.3L1780.3 3297.3 L1780.4 3295.4L1770.6 3294.8 L1770.7 3292.9L1786 3293.7 L1786.1 3291.8L1795.2 3292.3 L1795.3 3290.3L1790.5 3290.1 L1790.6 3288.1L1786.3 3287.9 L1786.3 3286L1782.4 3285.8 L1782.5 3283.9L1769.9 3283.5 L1770 3281.6L1784.8 3282 L1784.9 3280.1L1777.6 3279.9 L1777.6 3278L1783.9 3278.1 L1783.9 3276.2L1779.6 3276.1 L1779.7 3274.2L1798.9 3274.4 L1798.9 3272.4L1795.3 3272.4 L1795.3 3270.4L1791.2 3270.4 L1791.2 3268.4L1797.2 3268.4 L1797.2 3266.4L1802.2 3266.3 L1802.1 3264.3L1776.7 3264.6 L1776.6 3262.7L1779.1 3262.7 L1779.1 3260.8L1787.6 3260.6 L1787.6 3258.6L1788.8 3258.6 L1788.7 3256.6L1804.4 3256.2 L1804.3 3254.1L1839.4 3252.9 L1839.3 3250.7L1793.6 3252.5 L1793.5 3250.5L1794.1 3250.5 L1794 3248.5L1786.1 3248.9 L1786 3247L1788.3 3246.9 L1788.2 3244.9L1804.8 3243.9 L1804.7 3241.9L1789.1 3242.9 L1788.9 3240.9L1782.5 3241.4 L1782.3 3239.4L1790.8 3238.8 L1790.6 3236.9L1770.8 3238.4 L1770.7 3236.5L1792.6 3234.7 L1792.4 3232.7L1791.5 3232.8 L1791.4 3230.8L1775.5 3232.3 L1775.3 3230.4L1769.4 3230.9 L1769.2 3229L1783.6 3227.6 L1783.4 3225.7L1812.6 3222.7 L1812.4 3220.6L1772.4 3224.9 L1772.2 3223L1793.4 3220.7 L1793.1 3218.7L1785.1 3219.6 L1784.9 3217.7L1789.7 3217.1 L1789.5 3215.1L1786.3 3215.5 L1786 3213.6L1794.2 3212.5 L1794 3210.5L1790.4 3211 L1790.1 3209L1804.4 3207.1 L1804.1 3205L1805.3 3204.9 L1805 3202.8L1797.9 3203.9 L1797.6 3201.9L1791.3 3202.8 L1791 3200.9L1793.7 3200.4 L1793.4 3198.5L1769.1 3202.4 L1768.8 3200.5L1762.2 3201.6 L1761.9 3199.8L1772.7 3198 L1772.3 3196.1L1782 3194.4 L1781.6 3192.4L1784.4 3192 L1784 3190L1793.4 3188.3 L1793 3186.3L1798.9 3185.2 L1798.5 3183.2L1787.2 3185.4 L1786.8 3183.4L1794.4 3181.9 L1794 3179.9L1779.4 3182.9 L1779 3181L1803.2 3175.9 L1802.8 3173.9L1791.3 3176.4 L1790.9 3174.4L1768.8 3179.2 L1768.4 3177.3L1783.6 3174 L1783.1 3172L1778.1 3173.2 L1777.7 3171.3L1764.5 3174.3 L1764 3172.5L1777.2 3169.4 L1776.7 3167.5L1779.4 3166.8 L1779 3164.9L1779.9 3164.6 L1779.5 3162.7L1769.3 3165.3 L1768.9 3163.4L1776.6 3161.4 L1776.1 3159.5L1778.7 3158.8 L1778.2 3156.9L1765.2 3160.4 L1764.7 3158.5L1772.4 3156.4 L1771.9 3154.6L1779.2 3152.6 L1778.6 3150.6L1759.2 3156.1 L1758.7 3154.3L1774.5 3149.8 L1774 3147.9L1761.2 3151.6 L1760.6 3149.7L1754.8 3151.5 L1754.2 3149.7L1765.2 3146.4 L1764.7 3144.5L1774.5 3141.5 L1773.9 3139.6L1755 3145.5 L1754.5 3143.7L1758.6 3142.4 L1758 3140.5L1757.1 3140.8 L1756.5 3139L1740.6 3144.2 L1740.1 3142.4L1752.7 3138.3 L1752.1 3136.5L1758 3134.5 L1757.4 3132.7L1777.1 3126 L1776.4 3124.1L1759.1 3130.1 L1758.4 3128.3L1764 3126.3 L1763.4 3124.5L1789.8 3115.1 L1789.1 3113.1L1752.2 3126.4 L1751.6 3124.6L1739.2 3129.1 L1738.5 3127.4L1802.3 3103.8 L1801.5 3101.8L1756.5 3118.7 L1755.8 3116.9L1770 3111.5 L1769.2 3109.6L1756.8 3114.4 L1756.1 3112.6L1742.9 3117.7 L1742.2 3116L1734.5 3119 L1733.8 3117.3L1773.4 3101.5 L1772.6 3099.6L1750.8 3108.5 L1750.1 3106.7L1733 3113.7 L1732.3 3112L1723.5 3115.7 L1722.8 3114L1729.6 3111.1 L1728.9 3109.4L1760.6 3095.9 L1759.8 3094.1L1734.6 3104.9 L1733.9 3103.2L1736 3102.3 L1735.2 3100.6L1749.5 3094.3 L1748.7 3092.5L1734.2 3099 L1733.4 3097.3L1754.6 3087.7 L1753.8 3085.9L1741.6 3091.5 L1740.8 3089.7L1743 3088.7 L1742.2 3086.9L1743.8 3086.2 L1743 3084.4L1737.2 3087.2 L1736.4 3085.5L1755.7 3076.1 L1754.9 3074.3L1738.6 3082.2 L1737.8 3080.5L1741.8 3078.5 L1740.9 3076.8L1762.9 3065.8 L1762 3064L1738.8 3075.7 L1737.9 3073.9L1754.2 3065.7 L1753.2 3063.9L1743.7 3068.8 L1742.8 3067L1746.4 3065.1 L1745.5 3063.4L1736.6 3068.1 L1735.6 3066.3L1741.1 3063.4 L1740.2 3061.7L1767.2 3047.2 L1766.2 3045.3L1725.4 3067.5 L1724.5 3065.8L1740.4 3057.1 L1739.4 3055.3L1738 3056.1 L1737 3054.4L1731.1 3057.7 L1730.2 3056L1732.1 3054.9 L1731.2 3053.2L1730.1 3053.8 L1729.2 3052.1L1727.5 3053.1 L1726.5 3051.4L1720 3055.2 L1719.1 3053.5L1748.2 3036.3 L1747.1 3034.6L1731.7 3043.8 L1730.7 3042.1L1731.8 3041.4 L1730.8 3039.7L1736.7 3036.1 L1735.6 3034.4L1718.1 3045.2 L1717.1 3043.5L1717.6 3043.2 L1716.6 3041.6L1721.3 3038.6 L1720.3 3036.9L1733.4 3028.6 L1732.3 3026.9L1719.9 3034.9 L1718.8 3033.3L1724.1 3029.8 L1723 3028.2L1713.9 3034.1 L1712.9 3032.5L1716.3 3030.2 L1715.3 3028.5L1712.4 3030.4 L1711.4 3028.8L1698.6 3037.4 L1697.6 3035.8L1709.1 3028 L1708 3026.4L1699.1 3032.5 L1698.1 3031L1703.1 3027.4 L1702 3025.9L1710.4 3020 L1709.3 3018.4L1705.2 3021.3 L1704.1 3019.7L1707.8 3017 L1706.7 3015.4L1696.1 3023.1 L1695 3021.5L1693.3 3022.8 L1692.2 3021.2L1698.1 3016.9 L1697 3015.4L1695.4 3016.5 L1694.2 3015L1702.6 3008.8 L1701.4 3007.2L1700.4 3008 L1699.2 3006.4L1698 3007.3 L1696.9 3005.8L1686.9 3013.4 L1685.7 3011.9L1696.7 3003.4 L1695.5 3001.8L1704 2995.2 L1702.8 2993.6L1704.7 2992.1 L1703.5 2990.5L1682.5 3007.2 L1681.3 3005.8L1689 2999.6 L1687.8 2998L1694.3 2992.8 L1693 2991.3L1697.5 2987.6 L1696.2 2986.1L1687.2 2993.5 L1686 2992L1686.1 2991.9 L1684.8 2990.4L1675.8 2998.1 L1674.6 2996.6L1688.4 2984.8 L1687.1 2983.3L1693 2978.3 L1691.7 2976.8L1667.5 2997.7 L1666.3 2996.3L1690.8 2974.9 L1689.5 2973.4L1692.9 2970.4 L1691.5 2968.8L1682.7 2976.7 L1681.4 2975.2L1678.2 2978 L1676.9 2976.6L1688.5 2966.1 L1687.1 2964.6L1679.9 2971.2 L1678.6 2969.7L1682.2 2966.4 L1680.9 2964.9L1674.9 2970.4 L1673.5 2969L1668.4 2973.8 L1667.1 2972.4L1657.5 2981.5 L1656.2 2980.2L1690.5 2947.3 L1689 2945.8L1646.5 2986.8 L1645.3 2985.5L1652.9 2978 L1651.6 2976.7L1650.7 2977.6 L1649.4 2976.3L1653.2 2972.5 L1651.9 2971.1L1645.7 2977.3 L1644.4 2976L1661.2 2959.1 L1659.8 2957.7L1663.7 2953.7 L1662.2 2952.3L1654.6 2960.1 L1653.2 2958.8L1645.6 2966.7 L1644.3 2965.4L1661.2 2947.7 L1659.7 2946.3L1647.1 2959.6 L1645.7 2958.3L1645.8 2958.2 L1644.4 2956.9L1652.2 2948.5 L1650.8 2947.2L1644.2 2954.3 L1642.8 2952.9L1641.1 2954.8 L1639.7 2953.5L1631.7 2962.3 L1630.4 2961.1L1637.6 2953 L1636.2 2951.7L1643.3 2943.8 L1641.8 2942.5L1636.8 2948.2 L1635.3 2946.9L1633.8 2948.7 L1632.3 2947.4L1642.1 2936.1 L1640.6 2934.8L1636.1 2940.1 L1634.6 2938.8L1636.9 2936.1 L1635.4 2934.8L1630.4 2940.8 L1628.9 2939.5L1631.8 2936.1 L1630.3 2934.8L1619.5 2948 L1618 2946.8L1608.8 2958 L1607.4 2956.9L1619.9 2941.4 L1618.4 2940.3L1613 2947 L1611.5 2945.9L1617.2 2938.7 L1615.8 2937.5L1605.7 2950.2 L1604.3 2949.1L1612.1 2939.1 L1610.6 2938L1614.6 2932.8 L1613.1 2931.6L1614.8 2929.4 L1613.3 2928.2L1617 2923.3 L1615.5 2922.1L1625.6 2908.7 L1624 2907.4L1614.3 2920.4 L1612.8 2919.2L1620.4 2909 L1618.7 2907.8L1610.2 2919.3 L1608.7 2918.2L1610.4 2915.8 L1608.8 2914.7L1603.5 2922.1 L1601.9 2921L1605.5 2915.9 L1603.9 2914.8L1614.1 2900.3 L1612.4 2899.2L1608.3 2905.1 L1606.7 2904L1602.1 2910.6 L1600.5 2909.5L1607.7 2898.9 L1606 2897.8L1593.5 2916.2 L1592 2915.1L1597.7 2906.6 L1596 2905.5L1596 2905.6 L1594.3 2904.5L1593.4 2905.9 L1591.8 2904.8L1590.1 2907.4 L1588.5 2906.4L1585.3 2911.3 L1583.7 2910.3L1591.6 2897.9 L1589.9 2896.8L1587.5 2900.6 L1585.8 2899.6L1586.7 2898.3 L1585 2897.2L1585.4 2896.5 L1583.8 2895.5L1581.5 2899.1 L1579.9 2898.1L1584.6 2890.3 L1582.9 2889.3L1585.1 2885.6 L1583.4 2884.5L1581.7 2887.3 L1580 2886.3L1584.9 2878 L1583.2 2877L1583.7 2876.1 L1581.9 2875.1L1576.7 2884.1 L1575 2883.1L1590.2 2856.4 L1588.4 2855.4L1569.5 2888.6 L1567.8 2887.7L1570.1 2883.5 L1568.4 2882.6L1562.5 2893.1 L1560.8 2892.2L1563.7 2886.9 L1562 2886L1561.6 2886.7 L1559.9 2885.8L1558.4 2888.6 L1556.7 2887.6L1565.2 2871.6 L1563.4 2870.7L1555.6 2885.6 L1553.9 2884.7L1558.1 2876.6 L1556.3 2875.7L1553.6 2880.8 L1551.9 2879.9L1540.6 2902.1 L1538.9 2901.3L1556.4 2866.6 L1554.6 2865.7L1551.7 2871.6 L1549.9 2870.7L1552.5 2865.4 L1550.7 2864.5L1555.9 2853.9 L1554 2853L1545.2 2871.3 L1543.4 2870.4L1542.5 2872.2 L1540.7 2871.4L1532.4 2889.1 L1530.7 2888.3L1534.7 2879.7 L1533 2878.9L1534.3 2875.9 L1532.6 2875.1L1529.9 2881 L1528.2 2880.2L1547.5 2837 L1545.6 2836.1L1523.8 2885.2 L1522.1 2884.4L1527.9 2871.3 L1526.1 2870.5L1527.5 2867.3 L1525.7 2866.5L1522.5 2873.8 L1520.8 2873.1L1520.3 2874.1 L1518.5 2873.4L1519.7 2870.5 L1517.9 2869.8L1518.2 2869.1 L1516.4 2868.4L1517.2 2866.4 L1515.4 2865.7L1510.3 2878.5 L1508.5 2877.8L1514.8 2861.8 L1513 2861.1L1513.6 2859.6 L1511.8 2858.8L1511.3 2860 L1509.5 2859.3L1506.8 2866.4 L1505 2865.8L1510.6 2850.6 L1508.8 2849.9L1505 2859.9 L1503.2 2859.3L1505.9 2851.8 L1504.1 2851.1L1502.4 2855.8 L1500.5 2855.2L1503.3 2847.4 L1501.4 2846.7L1501.4 2846.6 L1499.5 2846L1500.3 2843.5 L1498.4 2842.9L1494.4 2854.7 L1492.6 2854L1495.4 2845.6 L1493.5 2845L1489.9 2855.8 L1488 2855.2L1493.6 2838.3 L1491.6 2837.6L1489.8 2843.3 L1487.9 2842.7L1492.4 2828.5 L1490.4 2827.8L1483.5 2850 L1481.6 2849.5L1471.9 2881.3 L1470.2 2880.8L1473.9 2868.3 L1472.1 2867.7L1473.6 2862.6 L1471.8 2862.1L1476.6 2845.7 L1474.7 2845.2L1472.2 2853.6 L1470.4 2853.1L1474 2840.1 L1472.1 2839.5L1468.2 2853.8 L1466.3 2853.3L1468.5 2845.2 L1466.6 2844.7L1463.4 2856.8 L1461.5 2856.3L1462.5 2852.5 L1460.6 2852L1457.4 2864.6 L1455.6 2864.1L1458.4 2853.1 L1456.5 2852.7L1459 2842.7 L1457.1 2842.2L1454.8 2851.4 L1452.9 2851L1451.9 2855.4 L1450 2854.9L1450.3 2853.7 L1448.5 2853.2L1442.7 2878.3 L1441 2877.9L1445.1 2859.7 L1443.2 2859.3L1444.7 2852.6 L1442.8 2852.2L1441.9 2856.3 L1440.1 2855.9L1442.4 2844.6 L1440.5 2844.2L1441.9 2837.7 L1439.9 2837.3L1439.7 2838.4 L1437.8 2838L1441.6 2818.5 L1439.6 2818.1L1439 2821.1 L1437 2820.7L1431.4 2850.8 L1429.5 2850.5L1431.4 2839.9 L1429.5 2839.6L1426.4 2857 L1424.6 2856.7L1426.7 2844.6 L1424.8 2844.2L1427.1 2830.3 L1425.1 2830L1428.4 2810 L1426.3 2809.6L1421.1 2842.9 L1419.1 2842.6L1418.8 2845.1 L1416.8 2844.8L1416.7 2845.5 L1414.8 2845.2L1415.6 2839.7 L1413.7 2839.4L1418.8 2803.1 L1416.7 2802.9L1412.6 2833.3 L1410.6 2833L1410.7 2832.2 L1408.8 2832L1410.1 2821.6 L1408.1 2821.4L1411.3 2795.3 L1409.2 2795L1406 2821.6 L1404 2821.4L1405.1 2811.5 L1403.1 2811.3L1400.5 2834.6 L1398.6 2834.4L1406.4 2759.7 L1404.1 2759.4L1404.1 2759.6 L1401.8 2759.4L1401.8 2759.1 L1399.5 2758.9L1394.5 2814.3 L1392.5 2814.1L1392.8 2810.2 L1390.7 2810L1390.4 2813.7 L1388.4 2813.6L1389.9 2794.5 L1387.7 2794.3L1387.2 2801.4 L1385.1 2801.3L1385.4 2796.6 L1383.3 2796.5L1381.8 2819.9 L1379.8 2819.8L1379.8 2820.4 L1377.8 2820.2L1377.5 2825.6 L1375.5 2825.5L1375.9 2817.1 L1373.9 2817L1374.1 2813.2 L1372 2813.1L1372.5 2799.9 L1370.4 2799.9L1371.1 2783.2 L1368.9 2783.1L1368.5 2793.4 L1366.4 2793.3L1366 2807.6 L1363.9 2807.6L1364.2 2796.2 L1362.1 2796.2L1362.2 2791.9 L1360 2791.9L1360.1 2789.9 L1357.9 2789.8L1357.9 2794.9 L1355.7 2794.9L1355.7 2791.8 L1353.6 2791.8L1353.6 2799.1 L1351.5 2799.1L1351.5 2804.7 L1349.4 2804.7L1349.4 2805.7 L1347.4 2805.8L1347.4 2812.5 L1345.4 2812.5L1345.3 2807.9 L1343.2 2807.9L1343.6 2825.1 L1341.6 2825.2L1342.4 2854.7 L1340.5 2854.7L1340.7 2861.5 L1338.9 2861.6L1337.2 2812.5 L1335.1 2812.6L1335.9 2830.7 L1333.9 2830.7L1332.6 2801.6 L1330.5 2801.7L1331.1 2814.4 L1329.1 2814.5L1328.8 2809 L1326.7 2809.1L1326 2796.8 L1323.9 2796.9L1324.2 2802 L1322.1 2802.1L1322 2800.4 L1319.9 2800.5L1318.2 2776.4 L1316 2776.6L1313.9 2749.4 L1311.6 2749.6L1315.4 2797.2 L1313.3 2797.4L1313.8 2803.7 L1311.7 2803.9L1311.5 2801.6 L1309.4 2801.7L1309.1 2797.9 L1307 2798.1L1308.5 2814.3 L1306.5 2814.5L1305.6 2805.6 L1303.5 2805.8L1301.4 2785.8 L1299.2 2786L1301.6 2807.3 L1299.5 2807.5L1302.6 2834.1 L1300.6 2834.3L1297.1 2805 L1295 2805.2L1289.8 2763.7 L1287.5 2764L1292 2798 L1289.9 2798.3L1286.3 2771.8 L1284.1 2772.1L1285.7 2784.2 L1283.6 2784.5L1284.9 2793.5 L1282.7 2793.8L1284.3 2804.5 L1282.2 2804.8L1280.1 2790.7 L1277.9 2791.1L1279.1 2798.8 L1277 2799.1L1276.6 2796.3 L1274.5 2796.7L1272.9 2787.1 L1270.7 2787.4L1272 2795.2 L1269.9 2795.6L1270.9 2801.1 L1268.8 2801.5L1264.9 2779.7 L1262.7 2780.1L1266.8 2802.5 L1264.7 2802.9L1265.8 2808.4 L1263.7 2808.8L1266.1 2821.3 L1264.1 2821.7L1259.4 2798.2 L1257.3 2798.6L1261.3 2818.4 L1259.3 2818.9L1253 2788.3 L1250.8 2788.8L1250 2784.9 L1247.8 2785.4L1248.4 2788.2 L1246.3 2788.7L1254 2823.4 L1252 2823.8L1251.4 2821.1 L1249.4 2821.6L1244 2798.6 L1241.9 2799.1L1247.6 2822.9 L1245.6 2823.4L1241.4 2806 L1239.3 2806.5L1237.9 2800.8 L1235.8 2801.3L1239.6 2816.6 L1237.6 2817.1L1233.3 2800.3 L1231.2 2800.8L1231.8 2803.2 L1229.7 2803.8L1230.4 2806.5 L1228.4 2807L1226.5 2800.3 L1224.4 2800.8L1229.8 2820.2 L1227.7 2820.8L1232.1 2836.5 L1230.2 2837L1226.2 2822.8 L1224.2 2823.4L1232 2850.5 L1230.1 2851.1L1224.7 2832.6 L1222.7 2833.2L1223.2 2834.8 L1221.3 2835.4L1218.4 2825.8 L1216.4 2826.4L1217.8 2831.2 L1215.9 2831.8L1197.1 2771.9 L1194.9 2772.6L1211.4 2824.7 L1209.5 2825.3L1203 2805.3 L1200.9 2806L1207.5 2826.1 L1205.5 2826.8L1210.1 2840.5 L1208.2 2841.2L1206.5 2836.2 L1204.6 2836.9L1205.4 2839.2 L1203.5 2839.9L1202.9 2838.2 L1200.9 2838.9L1198.2 2831.1 L1196.2 2831.8L1206 2859.1 L1204.2 2859.8L1193.1 2829.4 L1191.1 2830.1L1189.1 2824.5 L1187.1 2825.3L1193 2841.2 L1191.1 2841.9L1187.8 2833.1 L1185.8 2833.9L1193.3 2853.3 L1191.4 2854L1193.3 2858.9 L1191.5 2859.6L1192.3 2861.6 L1190.5 2862.4L1187.1 2853.9 L1185.2 2854.6L1179.5 2840.6 L1177.6 2841.4L1186.2 2862.3 L1184.4 2863.1L1176.1 2843 L1174.1 2843.8L1179.7 2857 L1177.8 2857.8L1174 2848.8 L1172.1 2849.6L1176.8 2860.5 L1175 2861.3L1178.6 2869.5 L1176.8 2870.3L1172.8 2861.4 L1171 2862.2L1172.1 2864.7 L1170.3 2865.5L1164 2851.7 L1162.2 2852.5L1171.5 2872.8 L1169.7 2873.7L1168.7 2871.4 L1166.9 2872.3L1168.2 2875.1 L1166.4 2875.9L1167.4 2878 L1165.7 2878.9L1162.8 2872.8 L1161 2873.7L1168 2888.1 L1166.3 2889L1163.5 2883.2 L1161.8 2884.1L1160.6 2881.7 L1158.8 2882.6L1156.5 2878 L1154.8 2878.9L1154.9 2879.2 L1153.2 2880.1L1152.7 2879.1 L1150.9 2880L1165.5 2908.1 L1163.9 2909L1156 2894 L1154.4 2894.9L1151.2 2888.8 L1149.5 2889.8L1148.1 2887.1 L1146.4 2888.1L1143.2 2882.2 L1141.4 2883.1L1138.6 2878 L1136.9 2878.9L1137.2 2879.5 L1135.4 2880.5L1136.2 2881.8 L1134.4 2882.8L1138.1 2889.3 L1136.4 2890.3L1142.6 2901.1 L1140.9 2902L1127.6 2878.9 L1125.8 2879.9L1136.3 2898 L1134.7 2898.9L1128.9 2889.1 L1127.2 2890.2L1123.4 2883.8 L1121.7 2884.9L1125.7 2891.5 L1124 2892.6L1125.2 2894.5 L1123.5 2895.5L1125.4 2898.5 L1123.7 2899.6L1121 2895.1 L1119.3 2896.2L1117.9 2893.9 L1116.2 2895L1112.4 2889 L1110.7 2890.1L1117.9 2901.4 L1116.3 2902.4L1115 2900.4 L1113.3 2901.5L1115.2 2904.3 L1113.5 2905.4L1123.6 2920.7 L1122 2921.7L1116.1 2912.9 L1114.5 2913.9L1117.8 2918.8 L1116.2 2919.8L1120.1 2925.5 L1118.5 2926.6L1110.4 2914.7 L1108.8 2915.8L1109 2916.1 L1107.4 2917.2L1117 2930.9 L1115.5 2932L1105.3 2917.5 L1103.7 2918.6L1105.1 2920.5 L1103.5 2921.6L1105.3 2924.1 L1103.7 2925.2L1099.5 2919.4 L1097.9 2920.5L1096.5 2918.6 L1094.9 2919.7L1099.3 2925.6 L1097.7 2926.8L1101.7 2932 L1100.2 2933.2L1099.8 2932.7 L1098.3 2933.8L1094.6 2929 L1093.1 2930.2L1082.9 2916.8 L1081.3 2918L1102.7 2945.8 L1101.3 2946.9L1089.6 2932 L1088.1 2933.2L1093.2 2939.7 L1091.8 2940.8L1085.2 2932.5 L1083.7 2933.7L1077.7 2926.3 L1076.2 2927.5L1086.7 2940.6 L1085.3 2941.8L1081 2936.6 L1079.6 2937.9L1080 2938.4 L1078.5 2939.6L1061.3 2918.9 L1059.7 2920.2L1076.5 2940.2 L1075 2941.5L1065.6 2930.4 L1064.1 2931.6L1064.4 2932.1 L1062.9 2933.4L1055.5 2924.7 L1053.9 2926.1L1056.8 2929.3 L1055.2 2930.7L1052.5 2927.6 L1051 2928.9L1054.7 2933.2 L1053.2 2934.5L1060 2942.1 L1058.5 2943.4L1049.6 2933.5 L1048.1 2934.9L1055.2 2942.7 L1053.7 2944L1056.6 2947.1 L1055.1 2948.4L1064.6 2958.6 L1063.2 2959.9L1047.8 2943.5 L1046.3 2944.8L1057.1 2956.2 L1055.7 2957.6L1054.3 2956.1 L1052.9 2957.5L1043.7 2947.9 L1042.3 2949.3L1064.3 2972 L1063 2973.3L1058 2968.3 L1056.7 2969.6L1057 2969.9 L1055.7 2971.3L1045.5 2961.1 L1044.2 2962.5L1056.4 2974.7 L1055.1 2976L1041.2 2962.3 L1039.8 2963.7L1051.6 2975.2 L1050.2 2976.5L1048.7 2975 L1047.4 2976.4L1051.7 2980.5 L1050.4 2981.9L1050.9 2982.4 L1049.6 2983.7L1055.4 2989.2 L1054.2 2990.6L1050.5 2987.1 L1049.2 2988.5L1044.5 2984.1 L1043.2 2985.5L1042.7 2985 L1041.4 2986.4L1047.7 2992.1 L1046.5 2993.5L1045.5 2992.6 L1044.3 2994L1035.9 2986.6 L1034.6 2988L1032.5 2986.1 L1031.3 2987.6L1028.4 2985.1 L1027.1 2986.5L1028.4 2987.6 L1027.1 2989.1L1031.8 2993.1 L1030.6 2994.6L1030.3 2994.3 L1029 2995.7L1026.7 2993.8 L1025.5 2995.3L1029.1 2998.3 L1027.9 2999.8L1018.1 2991.6 L1016.9 2993.1L1021.3 2996.8 L1020.1 2998.3L1013.1 2992.6 L1011.8 2994.1L1015.6 2997.2 L1014.4 2998.7L988 2977.6 L986.7 2979.2L981.7 2975.2 L980.3 2976.9L1013.8 3003.1 L1012.6 3004.7L1011.9 3004.2 L1010.7 3005.7L1010.9 3005.8 L1009.7 3007.3L1018 3013.7 L1016.8 3015.2L1017.4 3015.6 L1016.3 3017.1L1011.9 3013.9 L1010.7 3015.4L1020.5 3022.7 L1019.4 3024.2L1013.7 3020 L1012.6 3021.5L1008.4 3018.5 L1007.3 3020L997.5 3012.9 L996.4 3014.5L1007.8 3022.7 L1006.7 3024.3L1009.9 3026.5 L1008.8 3028.1L1002.5 3023.7 L1001.4 3025.2L1005.5 3028.1 L1004.4 3029.6L1006.2 3030.9 L1005.1 3032.4L1001.7 3030.1 L1000.6 3031.7L999 3030.6 L997.9 3032.1L1008.7 3039.4 L1007.7 3041L995 3032.6 L994 3034.2L997.9 3036.7 L996.8 3038.3L987.1 3032 L986.1 3033.7L984 3032.3 L982.9 3034L988.7 3037.6 L987.6 3039.3L975.6 3031.7 L974.6 3033.4L987.9 3041.7 L986.8 3043.4L980.3 3039.3 L979.3 3041L974.1 3037.8 L973 3039.5L977.2 3042.1 L976.2 3043.8L972.5 3041.5 L971.5 3043.2L976.8 3046.4 L975.8 3048.1L985.6 3053.8 L984.6 3055.5L982.5 3054.3 L981.5 3055.9L985 3058 L984.1 3059.6L977.6 3055.9 L976.7 3057.6L977.2 3057.9 L976.2 3059.6L968.2 3055.1 L967.2 3056.9L975.7 3061.5 L974.8 3063.2L990.4 3071.7 L989.5 3073.4L998 3078 L997.1 3079.6L967 3063.5 L966.1 3065.2L974.4 3069.6 L973.5 3071.3L970 3069.5 L969.1 3071.2L970.1 3071.7 L969.2 3073.5L946.5 3061.8 L945.6 3063.7L969.6 3075.8 L968.7 3077.5L963.9 3075.1 L963.1 3076.9L940.3 3065.6 L939.4 3067.5L950.3 3072.8 L949.4 3074.6L963.7 3081.5 L962.9 3083.3L974.1 3088.7 L973.3 3090.4L961.5 3084.8 L960.7 3086.6L964.6 3088.4 L963.8 3090.2L974.1 3094.9 L973.3 3096.6L953.3 3087.5 L952.5 3089.3L975.3 3099.5 L974.5 3101.2L943.8 3087.6 L943 3089.4L949.9 3092.5 L949.1 3094.3L956.8 3097.6 L956.1 3099.4L946.9 3095.5 L946.1 3097.3L958 3102.4 L957.3 3104.1L932.2 3093.6 L931.4 3095.5L938.1 3098.3 L937.3 3100.1L927.2 3096 L926.4 3097.9L945.5 3105.6 L944.8 3107.5L943.8 3107.1 L943.1 3108.9L945.5 3109.9 L944.8 3111.7L936.4 3108.5 L935.7 3110.3L947.1 3114.7 L946.4 3116.5L946.7 3116.6 L946 3118.5L932.4 3113.4 L931.7 3115.3L932.7 3115.6 L932 3117.5L938 3119.7 L937.4 3121.6L944 3124 L943.4 3125.8L951.7 3128.7 L951.1 3130.6L949.9 3130.1 L949.3 3132L956.6 3134.5 L956 3136.3L934 3128.8 L933.3 3130.7L942.2 3133.7 L941.6 3135.5L941.6 3135.5 L941 3137.4L947.8 3139.6 L947.2 3141.4L945.6 3140.9 L945 3142.7L946.5 3143.1 L945.9 3145L934.4 3141.4 L933.8 3143.3L954.8 3149.6 L954.2 3151.4L960 3153.2 L959.5 3154.9L959.3 3154.9 L958.8 3156.7L947.7 3153.4 L947.1 3155.3L941.9 3153.8 L941.4 3155.6L954.4 3159.3 L954 3161.1L944.5 3158.5 L944 3160.3L967.4 3166.6 L967 3168.3L967.8 3168.6 L967.4 3170.3L928.8 3160.3 L928.3 3162.2L938.3 3164.8 L937.8 3166.6L942.1 3167.7 L941.7 3169.6L953.3 3172.4 L952.9 3174.2L924.3 3167.4 L923.9 3169.3L928.8 3170.5 L928.4 3172.4L939.3 3174.9 L938.8 3176.7L930.1 3174.8 L929.7 3176.7L935.6 3178 L935.2 3179.8L934.9 3179.8 L934.5 3181.7L941.9 3183.2 L941.5 3185.1L912.9 3179.2 L912.5 3181.2L945.6 3187.8 L945.3 3189.7L932 3187.1 L931.6 3189L929.9 3188.6 L929.6 3190.5L929.9 3190.6 L929.5 3192.5L936.8 3193.8 L936.5 3195.7L929.2 3194.4 L928.9 3196.3L917.1 3194.3 L916.8 3196.2L930.7 3198.6 L930.4 3200.5L932.4 3200.8 L932.1 3202.7L912.2 3199.5 L911.9 3201.5L922.9 3203.2 L922.6 3205.2L928.4 3206 L928.1 3207.9L956.2 3212 L955.9 3213.8L912.7 3207.7 L912.4 3209.7L921 3210.9 L920.7 3212.8L932.4 3214.3 L932.1 3216.2L922.9 3215.1 L922.6 3217L928.3 3217.7 L928 3219.6L918.2 3218.4 L918 3220.4L915.7 3220.1 L915.5 3222.1L935.5 3224.3 L935.3 3226.2L923.4 3224.9 L923.2 3226.9L940.8 3228.6 L940.6 3230.5L926.5 3229.1 L926.3 3231L918.1 3230.3 L917.9 3232.2L937.2 3233.9 L937 3235.8L916.3 3234.1 L916.2 3236.1L919.3 3236.3 L919.1 3238.2L926.2 3238.8 L926 3240.7L908.3 3239.5 L908.2 3241.5L920 3242.2 L919.9 3244.2L922.8 3244.3 L922.6 3246.3L910.4 3245.6 L910.3 3247.6L906.2 3247.4 L906.1 3249.4L913.5 3249.7 L913.4 3251.7L927.7 3252.3 L927.6 3254.2L919.7 3253.9 L919.6 3255.9L903.7 3255.4 L903.7 3257.4L902.2 3257.3 L902.1 3259.4L917.1 3259.7 L917.1 3261.7L900.8 3261.4 L900.8 3263.4L899.1 3263.4 L899.1 3265.4L908.9 3265.5 L908.9 3267.5L920.3 3267.6 L920.3 3269.5L902.7 3269.5 L902.7 3271.5L903.2 3271.5 L903.2 3273.6L898.4 3273.6 L898.4 3275.7L900.8 3275.6 L900.8 3277.7L925.6 3277.2 L925.6 3279.2L914.7 3279.4 L914.8 3281.4L906 3281.6 L906.1 3283.6L898 3283.9 L898 3285.9L910.3 3285.5 L910.4 3287.5L889.8 3288.3 L889.9 3290.4L897 3290 L897.1 3292.1L907.1 3291.6 L907.2 3293.6L904.2 3293.8 L904.3 3295.8L900.8 3296 L900.9 3298L917.7 3297 L917.9 3298.9L934.5 3297.8 L934.7 3299.7L905.5 3301.8 L905.6 3303.8L916.1 3303 L916.2 3305L924.1 3304.4 L924.2 3306.3L882 3309.9 L882.2 3312L846.8 3315.1 L847.1 3317.4L847.2 3317.4 L847.4 3319.7L892 3315.3 L892.2 3317.4L892.2 3317.4 L892.4 3319.4L909.5 3317.6 L909.7 3319.6L916.5 3318.8 L916.7 3320.8L912.7 3321.3 L912.9 3323.3L917.2 3322.7 L917.4 3324.7L910.5 3325.6 L910.8 3327.6L917 3326.7 L917.3 3328.7L904.9 3330.4 L905.2 3332.4L900.4 3333.1 L900.7 3335.1L912.8 3333.3 L913.1 3335.3L916.8 3334.8 L917.1 3336.7L913 3337.4 L913.3 3339.3L903.6 3340.9 L903.9 3342.9L916.4 3340.9 L916.8 3342.8L919.7 3342.3 L920 3344.3L922.2 3343.9 L922.6 3345.8L922.7 3345.8 L923 3347.8L925.3 3347.3 L925.6 3349.3L935.9 3347.4 L936.3 3349.2L920.8 3352.2 L921.2 3354.1Z" fill="#4a4a4a"/>
<path d="M1878.1 3373.3A534.9 536.1 0 0 1 1549.6 3768.6L1505.1 3655.6 L1506.8 3654.9L1510.6 3664.3 L1512.3 3663.6L1509.7 3657 L1511.4 3656.3L1507.4 3646.5 L1509.1 3645.8L1516.3 3663.2 L1518 3662.4L1518.5 3663.4 L1520.2 3662.7L1518.3 3658.1 L1520 3657.3L1516.9 3650.1 L1518.6 3649.4L1520.4 3653.5 L1522.1 3652.7L1519.5 3646.9 L1521.2 3646.2L1526.2 3657.3 L1527.9 3656.5L1523.8 3647.5 L1525.5 3646.7L1523.7 3642.8 L1525.4 3642L1538.3 3669.9 L1540.1 3669L1524.5 3635.7 L1526.1 3634.9L1529.3 3641.7 L1530.9 3640.9L1532.6 3644.3 L1534.3 3643.5L1537.8 3650.8 L1539.5 3649.9L1530.9 3632.3 L1532.5 3631.5L1534.3 3635.2 L1536 3634.4L1532.8 3628.2 L1534.4 3627.4L1538 3634.5 L1539.7 3633.6L1534.6 3623.8 L1536.2 3623L1529.5 3610.1 L1531 3609.3L1535.7 3618.2 L1537.3 3617.4L1537.5 3617.8 L1539.1 3617L1532.5 3604.7 L1534 3603.9L1537.1 3609.7 L1538.7 3608.9L1535.6 3603.2 L1537 3602.4L1534.6 3597.9 L1536 3597.1L1536 3597.1 L1537.5 3596.3L1543 3605.9 L1544.5 3605.1L1543.3 3603.1 L1544.8 3602.2L1546.2 3604.7 L1547.7 3603.8L1550.2 3608.1 L1551.8 3607.2L1552.8 3609 L1554.3 3608.1L1552.9 3605.7 L1554.4 3604.8L1567.1 3625.9 L1568.7 3624.9L1556.8 3605.3 L1558.3 3604.4L1563.7 3613.3 L1565.2 3612.4L1557.3 3599.5 L1558.8 3598.6L1564.9 3608.4 L1566.4 3607.4L1572.7 3617.4 L1574.3 3616.4L1561.8 3596.9 L1563.3 3596L1561 3592.4 L1562.4 3591.5L1570.7 3604.2 L1572.2 3603.2L1570.3 3600.4 L1571.8 3599.4L1570.3 3597.1 L1571.8 3596.1L1566.8 3588.8 L1568.3 3587.8L1569.3 3589.4 L1570.7 3588.4L1576.4 3596.6 L1577.8 3595.6L1579.4 3597.9 L1580.9 3596.9L1573.4 3586.2 L1574.8 3585.2L1583.9 3598.1 L1585.4 3597.1L1580.1 3589.7 L1581.6 3588.6L1589.3 3599.5 L1590.8 3598.4L1587.5 3593.8 L1588.9 3592.7L1588.1 3591.6 L1589.5 3590.5L1575.8 3571.9 L1577.1 3570.9L1596.2 3596.6 L1597.7 3595.5L1596.7 3594.2 L1598.2 3593.1L1583.6 3573.9 L1585 3572.9L1617.6 3615.5 L1619.1 3614.3L1598.3 3587.3 L1599.7 3586.2L1583.5 3565.5 L1584.9 3564.4L1595.2 3577.6 L1596.6 3576.5L1599.7 3580.4 L1601.1 3579.2L1587.5 3562.3 L1588.8 3561.3L1605 3581.3 L1606.4 3580.1L1601.6 3574.3 L1603 3573.2L1603.5 3573.8 L1604.9 3572.7L1614.6 3584.4 L1616 3583.2L1595.6 3558.9 L1596.9 3557.8L1607.5 3570.4 L1608.9 3569.2L1611.2 3572 L1612.6 3570.8L1608.2 3565.7 L1609.5 3564.6L1609 3564 L1610.3 3562.8L1615.7 3569 L1617.1 3567.8L1618.8 3569.8 L1620.2 3568.6L1624.2 3573.1 L1625.5 3571.8L1621.6 3567.6 L1623 3566.4L1624.6 3568.1 L1625.9 3566.9L1637.6 3579.7 L1639 3578.4L1646.4 3586.3 L1647.8 3585L1641.1 3577.9 L1642.5 3576.6L1646.5 3580.8 L1647.9 3579.5L1644.2 3575.6 L1645.6 3574.3L1646.5 3575.3 L1647.9 3574L1648 3574.1 L1649.4 3572.7L1644.4 3567.7 L1645.7 3566.4L1658.3 3579.1 L1659.7 3577.7L1656.5 3574.6 L1657.9 3573.2L1650.7 3566 L1652 3564.7L1659.4 3572 L1660.8 3570.6L1657 3566.9 L1658.3 3565.5L1648.1 3555.6 L1649.3 3554.3L1654.4 3559.1 L1655.7 3557.8L1651.2 3553.5 L1652.4 3552.1L1663.4 3562.5 L1664.7 3561.1L1663.4 3559.9 L1664.7 3558.5L1658.8 3553 L1660.1 3551.7L1666.8 3557.8 L1668 3556.4L1658.6 3547.8 L1659.8 3546.4L1676.1 3561.1 L1677.4 3559.6L1667 3550.3 L1668.3 3548.9L1662.5 3543.8 L1663.7 3542.4L1676.1 3553.2 L1677.3 3551.8L1667.2 3543 L1668.5 3541.6L1672.9 3545.4 L1674.1 3544L1682.4 3551 L1683.6 3549.5L1677.1 3544 L1678.3 3542.5L1672.6 3537.8 L1673.8 3536.3L1668.8 3532.1 L1669.9 3530.7L1672.4 3532.7 L1673.6 3531.3L1671.6 3529.7 L1672.8 3528.3L1687.2 3540 L1688.4 3538.4L1685.5 3536.1 L1686.6 3534.6L1680.8 3529.9 L1681.9 3528.4L1677.9 3525.3 L1679.1 3523.8L1681.2 3525.5 L1682.3 3524L1687.5 3528 L1688.6 3526.4L1673.4 3514.8 L1674.5 3513.4L1680.7 3518 L1681.8 3516.6L1684.6 3518.7 L1685.7 3517.2L1691.2 3521.3 L1692.3 3519.8L1702.1 3527 L1703.3 3525.4L1689.8 3515.6 L1690.9 3514.1L1705.6 3524.7 L1706.8 3523.1L1692.2 3512.7 L1693.3 3511.1L1695.8 3512.9 L1696.9 3511.4L1707 3518.5 L1708.1 3516.9L1699.1 3510.6 L1700.2 3509.1L1692.6 3503.9 L1693.7 3502.3L1697.7 3505.1 L1698.8 3503.6L1696.9 3502.3 L1698 3500.8L1697.1 3500.2 L1698.2 3498.7L1705.7 3503.7 L1706.8 3502.1L1709 3503.6 L1710.1 3502L1706.1 3499.4 L1707.1 3497.8L1708 3498.4 L1709.1 3496.8L1745.6 3520.1 L1746.7 3518.3L1714 3497.7 L1715 3496.1L1706.7 3490.8 L1707.7 3489.2L1711.2 3491.4 L1712.2 3489.8L1703.6 3484.5 L1704.5 3483L1711.8 3487.3 L1712.7 3485.7L1702.3 3479.4 L1703.2 3477.9L1705.4 3479.2 L1706.4 3477.6L1716.3 3483.5 L1717.3 3481.8L1712.2 3478.9 L1713.1 3477.3L1731.4 3487.8 L1732.4 3486.1L1723.6 3481.1 L1724.5 3479.4L1716.8 3475 L1717.7 3473.4L1724.3 3477.1 L1725.2 3475.4L1725 3475.3 L1725.9 3473.6L1734.5 3478.3 L1735.4 3476.6L1724.8 3470.8 L1725.7 3469.1L1725.4 3469 L1726.3 3467.3L1742.7 3476 L1743.7 3474.3L1747.5 3476.3 L1748.5 3474.5L1736 3468.1 L1736.9 3466.4L1745.6 3470.8 L1746.5 3469L1748.8 3470.2 L1749.7 3468.4L1749 3468.1 L1749.9 3466.3L1750 3466.4 L1750.9 3464.6L1740.7 3459.6 L1741.5 3457.9L1753.4 3463.6 L1754.3 3461.8L1747.3 3458.5 L1748.2 3456.7L1735.7 3450.8 L1736.5 3449.1L1747.9 3454.4 L1748.7 3452.6L1739.4 3448.3 L1740.2 3446.6L1738.8 3445.9 L1739.5 3444.2L1728.7 3439.3 L1729.4 3437.6L1737 3441 L1737.8 3439.2L1742 3441.1 L1742.8 3439.4L1738.2 3437.4 L1738.9 3435.6L1747.7 3439.4 L1748.5 3437.6L1759.3 3442.2 L1760.1 3440.4L1762.1 3441.3 L1762.9 3439.4L1749.2 3433.8 L1749.9 3432L1747.4 3430.9 L1748.1 3429.2L1766.4 3436.5 L1767.1 3434.7L1758.8 3431.3 L1759.5 3429.5L1738.1 3421.1 L1738.8 3419.4L1750.5 3423.9 L1751.2 3422.1L1753.5 3423 L1754.2 3421.2L1761.1 3423.8 L1761.8 3422L1763.3 3422.6 L1764 3420.7L1737 3410.8 L1737.7 3409.1L1763.4 3418.4 L1764 3416.6L1760.3 3415.2 L1761 3413.4L1749.6 3409.4 L1750.2 3407.6L1757.3 3410.1 L1758 3408.3L1761.6 3409.5 L1762.3 3407.7L1769 3410 L1769.6 3408.1L1764.9 3406.5 L1765.5 3404.7L1780.2 3409.4 L1780.8 3407.5L1761.3 3401.3 L1761.9 3399.4L1762.4 3399.6 L1763 3397.7L1765.6 3398.6 L1766.2 3396.7L1751.4 3392.2 L1751.9 3390.4L1763.9 3394 L1764.4 3392.1L1771.6 3394.3 L1772.2 3392.4L1761.5 3389.3 L1762.1 3387.4L1756.2 3385.7 L1756.7 3383.9L1766.7 3386.8 L1767.2 3384.9L1754.6 3381.4 L1755.1 3379.6L1767.9 3383.1 L1768.4 3381.2L1774.9 3383 L1775.4 3381.1L1767.4 3378.9 L1767.9 3377.1L1765 3376.3 L1765.5 3374.5L1755.9 3372.1 L1756.4 3370.3L1758.9 3370.9 L1759.3 3369.1L1771.8 3372.1 L1772.3 3370.2L1772.3 3370.2 L1772.8 3368.3L1777.7 3369.5 L1778.1 3367.6L1783.4 3368.8 L1783.9 3366.9L1792.3 3368.8 L1792.7 3366.8L1773.3 3362.5 L1773.7 3360.6L1787.7 3363.6 L1788.1 3361.7L1790.3 3362.1 L1790.7 3360.2L1776.7 3357.3 L1777.1 3355.4L1784.7 3356.9 L1785 3355Z" fill="#4a4a4a"/>
<path d="M1549.6 3768.6A534.9 536.1 0 0 1 1155.8 3768.2L1179.1 3709.4 L1181 3710.2L1187.3 3694 L1189.2 3694.8L1183.7 3709 L1185.7 3709.8L1189.1 3701 L1191 3701.7L1180 3731.1 L1182 3731.9L1187.5 3717.2 L1189.5 3717.9L1183.2 3735 L1185.3 3735.8L1190.6 3721.2 L1192.6 3722L1206.2 3683.6 L1208.1 3684.2L1211.7 3673.7 L1213.6 3674.3L1199.9 3713.9 L1201.9 3714.6L1199.9 3720.4 L1201.9 3721.1L1201.5 3722.3 L1203.5 3723L1216 3685.3 L1217.9 3685.9L1214.1 3697.4 L1216 3698L1216.7 3695.9 L1218.6 3696.5L1218.5 3696.8 L1220.4 3697.4L1219.5 3700.5 L1221.4 3701.1L1217.2 3715 L1219.2 3715.6L1239.1 3649.4 L1240.8 3649.9L1221.7 3714.3 L1223.7 3714.9L1231 3689.9 L1232.9 3690.4L1232.4 3692.1 L1234.3 3692.7L1229.5 3709.8 L1231.4 3710.3L1228.7 3720.4 L1230.7 3720.9L1235.8 3702 L1237.8 3702.5L1240.9 3690.7 L1242.8 3691.2L1237.7 3710.6 L1239.7 3711.1L1239.8 3710.7 L1241.8 3711.2L1239.8 3719 L1241.8 3719.5L1241.9 3719 L1243.9 3719.5L1250.3 3693.3 L1252.2 3693.8L1243.5 3730.2 L1245.6 3730.7L1252 3703.4 L1253.9 3703.8L1256.4 3693 L1258.3 3693.4L1254.5 3710.4 L1256.5 3710.8L1251.2 3734.6 L1253.3 3735.1L1254.6 3729.2 L1256.6 3729.6L1258.7 3719.6 L1260.7 3720.1L1260.9 3719.4 L1262.9 3719.8L1262 3724.3 L1264 3724.7L1268.5 3701.7 L1270.5 3702.1L1270.2 3703.7 L1272.1 3704.1L1265.7 3738.4 L1267.8 3738.8L1269.4 3730 L1271.5 3730.4L1272.8 3722.6 L1274.9 3722.9L1273.2 3732.5 L1275.3 3732.8L1272.1 3751.5 L1274.3 3751.9L1274.1 3753.3 L1276.2 3753.6L1280.7 3725.4 L1282.8 3725.7L1282.5 3727.2 L1284.6 3727.5L1281.2 3750.3 L1283.3 3750.6L1283 3753.1 L1285.1 3753.4L1289 3725.7 L1291.1 3726L1290.9 3726.9 L1293 3727.2L1292.4 3731.9 L1294.4 3732.2L1294.1 3734.5 L1296.2 3734.7L1293.6 3756 L1295.8 3756.3L1298.2 3735.9 L1300.3 3736.1L1299.2 3745.9 L1301.3 3746.1L1301.5 3744.6 L1303.6 3744.9L1303.5 3745.5 L1305.7 3745.7L1304.2 3760.7 L1306.4 3760.9L1306.3 3761.4 L1308.5 3761.6L1308.5 3761.9 L1310.7 3762.1L1310.6 3763.8 L1312.8 3764L1310.9 3786.9 L1313.2 3787.1L1314.5 3770 L1316.8 3770.2L1317 3767.5 L1319.2 3767.6L1319.1 3769.4 L1321.3 3769.6L1321.7 3762.7 L1324 3762.8L1324.6 3751.8 L1326.8 3752L1326.5 3756.3 L1328.7 3756.4L1329.1 3748.4 L1331.2 3748.5L1331.7 3738.9 L1333.8 3739L1334.1 3732.5 L1336.1 3732.6L1336.4 3725.2 L1338.4 3725.3L1338.3 3730.8 L1340.3 3730.8L1340.2 3734.8 L1342.3 3734.9L1342.2 3739.4 L1344.3 3739.5L1344.5 3726.1 L1346.6 3726.1L1346.5 3734.7 L1348.5 3734.7L1348.7 3722 L1350.7 3722L1350.7 3714 L1352.7 3714L1352.7 3723.1 L1354.8 3723.1L1354.7 3719.7 L1356.8 3719.7L1356.9 3740.9 L1359 3740.8L1358.9 3731.1 L1361 3731L1361.2 3742.6 L1363.3 3742.5L1363.2 3738.6 L1365.3 3738.6L1365.6 3748.8 L1367.7 3748.8L1367.5 3741.7 L1369.6 3741.6L1369.6 3740 L1371.7 3740L1372.1 3751.5 L1374.3 3751.4L1373.9 3741.9 L1376 3741.8L1376.2 3745.6 L1378.3 3745.5L1378.2 3744.3 L1380.3 3744.2L1380 3738.6 L1382.1 3738.5L1383.2 3756.4 L1385.4 3756.3L1384.9 3748.8 L1387.1 3748.6L1390 3790.6 L1392.4 3790.5L1383.9 3677.7 L1385.7 3677.6L1389.6 3726.2 L1391.6 3726L1394.1 3755 L1396.2 3754.8L1395 3741.2 L1397.1 3741.1L1396.2 3731.1 L1398.3 3730.9L1396.9 3717.2 L1398.9 3717L1399.9 3726.4 L1401.9 3726.2L1404 3745.8 L1406.2 3745.6L1407.9 3761.4 L1410.1 3761.1L1411.7 3774.4 L1413.9 3774.2L1412.5 3762.4 L1414.7 3762.1L1414 3756.1 L1416.1 3755.9L1419.1 3778.7 L1421.4 3778.4L1419.1 3761.3 L1421.3 3761L1422 3765.8 L1424.2 3765.5L1418.8 3727.8 L1420.8 3727.5L1421.7 3733.7 L1423.8 3733.4L1426.4 3750.1 L1428.5 3749.8L1425.7 3731.7 L1427.7 3731.3L1436.5 3785.2 L1438.8 3784.9L1433.4 3752.5 L1435.5 3752.1L1438.5 3769.5 L1440.7 3769.1L1427.3 3692.4 L1429.2 3692L1440.1 3752.6 L1442.2 3752.2L1441.5 3748.4 L1443.7 3748L1439.8 3727.8 L1441.9 3727.4L1437.6 3705.2 L1439.5 3704.8L1448.1 3747.7 L1450.2 3747.3L1451.7 3754.6 L1453.8 3754.1L1455.8 3763.5 L1458 3763L1452.1 3735.4 L1454.2 3735L1460.2 3762.4 L1462.4 3761.9L1458.4 3743.8 L1460.5 3743.4L1458.5 3734.6 L1460.6 3734.1L1457.2 3719.5 L1459.2 3719L1463.5 3737 L1465.6 3736.5L1467.5 3744.7 L1469.7 3744.2L1468.7 3740.1 L1470.8 3739.6L1463.2 3709.3 L1465.1 3708.8L1472.4 3737.2 L1474.5 3736.7L1470.5 3721.4 L1472.5 3720.8L1473.3 3723.8 L1475.3 3723.2L1470.8 3706.4 L1472.7 3705.8L1481.2 3736.8 L1483.3 3736.2L1477.8 3716.6 L1479.8 3716L1478.6 3711.5 L1480.5 3710.9L1476.1 3695.7 L1478 3695.1L1481.4 3706.6 L1483.4 3706L1481.3 3699.3 L1483.3 3698.7L1486 3707.7 L1488 3707.1L1484.8 3696.8 L1486.7 3696.2L1489.9 3706.4 L1491.8 3705.8L1489.7 3699 L1491.6 3698.4L1496.6 3713.9 L1498.6 3713.2L1493.5 3697.8 L1495.4 3697.1L1496.7 3701 L1498.7 3700.3L1505.1 3719.5 L1507.1 3718.8L1499.2 3695.8 L1501.1 3695.1L1508.2 3715.5 L1510.2 3714.8L1505.4 3701.1 L1507.3 3700.5L1507.5 3701 L1509.5 3700.3L1515 3715.5 L1517 3714.8L1506.9 3687.5 L1508.8 3686.8L1512.4 3696.5 L1514.4 3695.8L1514.1 3695 L1516 3694.3L1524.7 3717.2 L1526.7 3716.4L1521.7 3703.5 L1523.7 3702.7Z" fill="#4a4a4a"/>
<path d="M1155.8 3768.2A534.9 536.1 0 0 1 828.1 3372.3L921.1 3354.1 L921.5 3356.1L929 3354.6 L929.4 3356.5L915.4 3359.3 L915.8 3361.3L918 3360.9 L918.4 3362.8L932.4 3359.8 L932.8 3361.7L913.4 3365.9 L913.8 3367.9L922.2 3366 L922.7 3368L928 3366.8 L928.4 3368.7L933.3 3367.5 L933.8 3369.4L933.9 3369.4 L934.3 3371.3L946.8 3368.3 L947.2 3370.1L949.7 3369.5 L950.2 3371.3L940.6 3373.7 L941.1 3375.6L938.2 3376.3 L938.7 3378.2L930.7 3380.3 L931.2 3382.2L937.7 3380.4 L938.2 3382.3L951 3378.8 L951.5 3380.6L938.9 3384.1 L939.4 3386L949.4 3383.2 L949.9 3385L944 3386.7 L944.5 3388.5L933.9 3391.6 L934.5 3393.5L941.7 3391.3 L942.2 3393.2L954.1 3389.6 L954.7 3391.4L939.9 3395.9 L940.4 3397.8L943.1 3397 L943.7 3398.8L944.2 3398.6 L944.7 3400.5L925.2 3406.7 L925.9 3408.6L940.5 3403.9 L941.1 3405.7L936.4 3407.3 L937 3409.2L943.8 3406.9 L944.4 3408.7L948.1 3407.5 L948.7 3409.3L955.8 3406.9 L956.4 3408.6L945 3412.6 L945.7 3414.5L942 3415.8 L942.6 3417.6L968.4 3408.4 L969 3410.1L942.1 3419.9 L942.7 3421.8L944.2 3421.2 L944.9 3423.1L951.8 3420.5 L952.5 3422.3L954.8 3421.4 L955.5 3423.2L967.2 3418.7 L967.9 3420.4L946.5 3428.7 L947.2 3430.6L938.9 3433.9 L939.6 3435.7L957.9 3428.4 L958.6 3430.2L956.1 3431.2 L956.8 3433L943.1 3438.6 L943.9 3440.5L945.9 3439.6 L946.7 3441.5L957.5 3436.9 L958.3 3438.7L967.1 3434.9 L967.8 3436.6L963.2 3438.6 L963.9 3440.4L968.2 3438.5 L969 3440.2L976.6 3436.9 L977.3 3438.6L966.4 3443.5 L967.2 3445.2L965.8 3445.8 L966.6 3447.6L957.3 3451.9 L958.1 3453.6L969.5 3448.3 L970.3 3450.1L957.8 3455.9 L958.6 3457.7L951.6 3461 L952.5 3462.8L964.4 3457.1 L965.2 3458.9L955 3463.8 L955.9 3465.6L956 3465.6 L956.9 3467.4L956.2 3467.7 L957.1 3469.5L959.4 3468.3 L960.3 3470.1L969 3465.6 L969.9 3467.4L957.5 3473.8 L958.4 3475.6L962.3 3473.5 L963.2 3475.3L979.6 3466.6 L980.5 3468.3L980.3 3468.4 L981.2 3470.1L970.5 3475.8 L971.4 3477.6L980 3472.9 L980.9 3474.6L980.7 3474.7 L981.6 3476.4L988.2 3472.7 L989.1 3474.3L981.4 3478.7 L982.3 3480.4L973.5 3485.4 L974.5 3487.1L992.8 3476.6 L993.7 3478.2L988.6 3481.1 L989.6 3482.8L999.5 3476.9 L1000.5 3478.5L1002.7 3477.2 L1003.6 3478.8L993.2 3485 L994.1 3486.7L1001.4 3482.3 L1002.3 3483.9L993.7 3489.1 L994.7 3490.7L998.2 3488.6 L999.2 3490.1L990.8 3495.4 L991.8 3497L959.1 3517.5 L960.2 3519.3L996.8 3496.1 L997.8 3497.7L998.8 3497.1 L999.8 3498.7L995.8 3501.3 L996.9 3502.9L999.1 3501.4 L1000.1 3503L1007.7 3498 L1008.7 3499.6L1007.9 3500.1 L1008.9 3501.7L1007.1 3502.9 L1008.1 3504.5L1012.2 3501.7 L1013.2 3503.2L1005.7 3508.4 L1006.8 3510L997.7 3516.2 L998.8 3517.8L1009 3510.7 L1010.1 3512.3L1012.6 3510.5 L1013.7 3512L999.1 3522.4 L1000.2 3524L1014.9 3513.4 L1016 3515L1002.5 3524.7 L1003.7 3526.3L1013.5 3519.1 L1014.6 3520.6L1020.1 3516.6 L1021.2 3518.1L1024.1 3515.9 L1025.2 3517.4L1031.3 3512.8 L1032.4 3514.2L1017.2 3525.8 L1018.3 3527.3L1023.5 3523.4 L1024.6 3524.8L1026.7 3523.2 L1027.9 3524.7L1023.9 3527.8 L1025 3529.3L1019.2 3533.9 L1020.3 3535.4L1017.3 3537.8 L1018.5 3539.3L1033 3527.7 L1034.2 3529.1L1032.2 3530.7 L1033.4 3532.1L1035.9 3530.1 L1037 3531.5L1032 3535.7 L1033.2 3537.2L1027.5 3541.9 L1028.7 3543.4L1022.2 3548.9 L1023.4 3550.4L1031.7 3543.4 L1032.9 3544.8L1037.3 3541 L1038.5 3542.4L1028.4 3551.2 L1029.7 3552.6L1042.1 3541.8 L1043.3 3543.2L1037.5 3548.3 L1038.7 3549.7L1028.3 3559 L1029.6 3560.5L1045.9 3545.8 L1047.2 3547.2L1037.7 3555.8 L1039 3557.2L1045.7 3551.1 L1046.9 3552.5L1041 3557.9 L1042.3 3559.3L1041 3560.5 L1042.3 3561.9L1053.3 3551.6 L1054.6 3552.9L1050.1 3557.2 L1051.4 3558.6L1056.4 3553.7 L1057.7 3555L1047.4 3565 L1048.8 3566.3L1044.9 3570.1 L1046.3 3571.4L1053.8 3564.1 L1055.1 3565.4L1047.9 3572.6 L1049.2 3574L1046 3577.1 L1047.4 3578.5L1060 3565.8 L1061.3 3567.1L1056.4 3572.2 L1057.7 3573.5L1057.8 3573.4 L1059.2 3574.7L1060.1 3573.8 L1061.5 3575.1L1057.8 3578.9 L1059.2 3580.3L1063.2 3576 L1064.6 3577.3L1057.9 3584.4 L1059.3 3585.8L1066.7 3577.8 L1068.1 3579.1L1079.9 3566.3 L1081.2 3567.6L1082.8 3565.8 L1084.1 3567.1L1080.2 3571.3 L1081.6 3572.6L1085.6 3568.1 L1086.9 3569.3L1088.7 3567.3 L1090 3568.5L1095.5 3562.3 L1096.8 3563.5L1096.2 3564.1 L1097.5 3565.3L1093.2 3570.3 L1094.5 3571.5L1096.9 3568.7 L1098.2 3569.9L1108.9 3557.3 L1110.2 3558.4L1089.7 3582.7 L1091.1 3583.9L1100.9 3572.2 L1102.2 3573.3L1102.7 3572.7 L1104.1 3573.9L1099.3 3579.7 L1100.7 3580.8L1116.9 3560.8 L1118.3 3561.9L1104.7 3578.8 L1106 3579.9L1109.1 3576 L1110.5 3577.1L1120.9 3564 L1122.2 3565L1106 3585.8 L1107.4 3586.9L1086.5 3613.8 L1088.1 3614.9L1120.7 3572.4 L1122.1 3573.5L1107.5 3592.6 L1109 3593.7L1108 3595 L1109.4 3596.1L1128.6 3570.5 L1130 3571.5L1116.2 3590.1 L1117.6 3591.1L1116.8 3592.3 L1118.2 3593.3L1114.9 3598 L1116.3 3599L1124.1 3588.2 L1125.6 3589.2L1120.3 3596.6 L1121.8 3597.7L1130.9 3584.7 L1132.3 3585.7L1124.8 3596.5 L1126.3 3597.5L1127.9 3595.2 L1129.3 3596.2L1135 3588 L1136.4 3589L1137.4 3587.4 L1138.9 3588.4L1133.9 3595.7 L1135.4 3596.7L1133.9 3599 L1135.3 3600L1133.5 3602.8 L1135 3603.8L1143.3 3591.1 L1144.7 3592L1142.4 3595.6 L1143.9 3596.5L1131.4 3616 L1132.9 3617L1139.3 3607 L1140.8 3608L1146.9 3598.2 L1148.4 3599.1L1140.4 3611.9 L1141.9 3612.9L1147.4 3604 L1148.9 3605L1137 3624.5 L1138.6 3625.5L1151.3 3604.4 L1152.8 3605.3L1151.4 3607.7 L1152.9 3608.6L1153.9 3606.9 L1155.4 3607.8L1157.9 3603.4 L1159.4 3604.3L1160.9 3601.8 L1162.4 3602.7L1161.2 3604.7 L1162.7 3605.6L1168.2 3595.9 L1169.6 3596.8L1169.6 3596.8 L1171.1 3597.6L1168.6 3602 L1170.1 3602.9L1167 3608.5 L1168.5 3609.4L1171.7 3603.5 L1173.2 3604.4L1166.6 3616.6 L1168.1 3617.5L1168.4 3617 L1169.9 3617.9L1174.6 3608.9 L1176.1 3609.7L1169.4 3622.6 L1171 3623.4L1165.9 3633.3 L1167.6 3634.1L1171.2 3627 L1172.8 3627.8L1169.6 3634.1 L1171.3 3634.9L1173.1 3631.2 L1174.7 3632L1166.1 3649.6 L1167.8 3650.4L1171.3 3643.1 L1173 3644L1174.7 3640.5 L1176.3 3641.3L1179.5 3634.6 L1181.1 3635.4L1165.5 3668.7 L1167.3 3669.5L1180.2 3641.7 L1181.9 3642.5L1180.1 3646.4 L1181.8 3647.1L1177.7 3656.2 L1179.4 3657L1184.4 3645.9 L1186.1 3646.6L1183.5 3652.4 L1185.2 3653.2L1187 3649.1 L1188.7 3649.8L1185.6 3657 L1187.3 3657.8L1185.3 3662.4 L1187.1 3663.1L1187.5 3662.1 L1189.3 3662.8L1196.5 3645.5 L1198.2 3646.2L1194.2 3656 L1195.9 3656.7L1193.2 3663.3 L1195 3664L1198.8 3654.6 L1200.5 3655.3Z" fill="#4a4a4a"/>
<ellipse cx="1353.2" cy="3269.9" rx="433.5" ry="434.4" fill="none" stroke="#8e8e8e" stroke-opacity="0.8" stroke-width="1.7"/>
<ellipse cx="1353.2" cy="3269.9" rx="380.3" ry="381.2" fill="none" stroke="#909090" stroke-opacity="0.7" stroke-width="1.7" stroke-dasharray="3.2 7"/>
<path d="M491.3 3440.2 A878.4 880.3 0 0 1 490.7 3437.1 L541 3427.4 A827.2 829 0 0 0 541.6 3430.2Z" fill="#0a2896" fill-opacity="0.64"/>
<path d="M516.5 3435.2 A852.8 854.6 0 0 1 515.9 3432.3 L541 3427.4 A827.2 829 0 0 0 541.6 3430.2Z" fill="#0a2896"/>
<path d="M490.1 3433.7 A878.4 880.3 0 0 1 483.3 3392.3 L534 3385.1 A827.2 829 0 0 0 540.4 3424.1Z" fill="#0a910a" fill-opacity="0.64"/>
<path d="M520.3 3427.9 A847.7 849.5 0 0 1 513.7 3388 L534 3385.1 A827.2 829 0 0 0 540.4 3424.1Z" fill="#0a910a"/>
<path d="M481.9 3382.3 A878.4 880.3 0 0 1 474.8 3281.2 L526.1 3280.6 A827.2 829 0 0 0 532.8 3375.7Z" fill="#0a2896" fill-opacity="0.64"/>
<path d="M514.5 3378.1 A845.6 847.5 0 0 1 507.6 3280.8 L526.1 3280.6 A827.2 829 0 0 0 532.8 3375.7Z" fill="#0a2896"/>
<path d="M479.4 3359.9 A878.4 880.3 0 0 1 475.6 3309.3 L526.8 3307 A827.2 829 0 0 0 530.3 3354.6Z" fill="#d26448" fill-opacity="0.92"/>
<path d="M513.5 3356.4 A844.1 845.9 0 0 1 509.9 3307.8 L526.8 3307 A827.2 829 0 0 0 530.3 3354.6Z" fill="#d25a32"/>
<path d="M475.2 3243.1 A878.4 880.3 0 0 1 478.7 3186.5 L529.7 3191.4 A827.2 829 0 0 0 526.4 3244.7Z" fill="#0aa63a" fill-opacity="0.64"/>
<path d="M505.4 3244 A848.2 850 0 0 1 508.8 3189.4 L529.7 3191.4 A827.2 829 0 0 0 526.4 3244.7Z" fill="#0aa63a"/>
<path d="M493.4 3089.5 A878.4 880.3 0 0 1 494.1 3086.5 L544.2 3097.2 A827.2 829 0 0 0 543.6 3100Z" fill="#0a2896" fill-opacity="0.64"/>
<path d="M518.5 3094.7 A852.8 854.6 0 0 1 519.1 3091.8 L544.2 3097.2 A827.2 829 0 0 0 543.6 3100Z" fill="#0a2896"/>
<path d="M539.6 2937.9 A878.4 880.3 0 0 1 540.8 2935.1 L588.2 2954.6 A827.2 829 0 0 0 587.1 2957.3Z" fill="#0a2896" fill-opacity="0.64"/>
<path d="M563.4 2947.6 A852.8 854.6 0 0 1 564.5 2944.8 L588.2 2954.6 A827.2 829 0 0 0 587.1 2957.3Z" fill="#0a2896"/>
<path d="M984.2 2471.1 A878.4 880.3 0 0 1 986.9 2469.8 L1008.3 2516.5 A827.2 829 0 0 0 1005.7 2517.7Z" fill="#0a2896" fill-opacity="0.64"/>
<path d="M994.9 2494.4 A852.8 854.6 0 0 1 997.6 2493.1 L1008.3 2516.5 A827.2 829 0 0 0 1005.7 2517.7Z" fill="#0a2896"/>
<path d="M988.6 2469 A878.4 880.3 0 0 1 1016.7 2456.8 L1036.3 2504.2 A827.2 829 0 0 0 1009.9 2515.7Z" fill="#0a2896" fill-opacity="0.64"/>
<path d="M1002.4 2499.4 A845.1 846.9 0 0 1 1029.5 2487.6 L1036.3 2504.2 A827.2 829 0 0 0 1009.9 2515.7Z" fill="#0a2896"/>
<path d="M1049 2444.1 A878.4 880.3 0 0 1 1072.9 2435.6 L1089.2 2484.3 A827.2 829 0 0 0 1066.8 2492.3Z" fill="#f0b880" fill-opacity="0.64"/>
<path d="M1060 2473.9 A846.6 848.5 0 0 1 1083 2465.8 L1089.2 2484.3 A827.2 829 0 0 0 1066.8 2492.3Z" fill="#f0b880"/>
<path d="M1080.4 2433.1 A878.4 880.3 0 0 1 1083.3 2432.2 L1099.1 2481.1 A827.2 829 0 0 0 1096.3 2482Z" fill="#0a2896" fill-opacity="0.64"/>
<path d="M1088.4 2457.5 A852.8 854.6 0 0 1 1091.2 2456.6 L1099.1 2481.1 A827.2 829 0 0 0 1096.3 2482Z" fill="#0a2896"/>
<path d="M1216.4 2400.4 A878.4 880.3 0 0 1 1220 2399.8 L1227.8 2450.6 A827.2 829 0 0 0 1224.3 2451.1Z" fill="#0a910a" fill-opacity="0.64"/>
<path d="M1221.9 2435.9 A842.5 844.4 0 0 1 1225.4 2435.3 L1227.8 2450.6 A827.2 829 0 0 0 1224.3 2451.1Z" fill="#0a910a"/>
<path d="M1233.5 2397.8 A878.4 880.3 0 0 1 1236.5 2397.4 L1243.3 2448.3 A827.2 829 0 0 0 1240.5 2448.7Z" fill="#0a2896" fill-opacity="0.64"/>
<path d="M1237 2423.3 A852.8 854.6 0 0 1 1239.9 2422.9 L1243.3 2448.3 A827.2 829 0 0 0 1240.5 2448.7Z" fill="#0a2896"/>
<path d="M1252.3 2395.5 A878.4 880.3 0 0 1 1256 2395 L1261.6 2446.1 A827.2 829 0 0 0 1258.2 2446.5Z" fill="#0a2896" fill-opacity="0.64"/>
<path d="M1255.3 2421 A852.8 854.6 0 0 1 1258.8 2420.6 L1261.6 2446.1 A827.2 829 0 0 0 1258.2 2446.5Z" fill="#0a2896"/>
<path d="M1256.6 2395 A878.4 880.3 0 0 1 1260.2 2394.6 L1265.7 2445.6 A827.2 829 0 0 0 1262.2 2446Z" fill="#0a2896" fill-opacity="0.64"/>
<path d="M1259.4 2420.5 A852.8 854.6 0 0 1 1262.9 2420.1 L1265.7 2445.6 A827.2 829 0 0 0 1262.2 2446Z" fill="#0a2896"/>
<path d="M1443.4 2394.3 A878.4 880.3 0 0 1 1446.7 2394.6 L1441.3 2445.7 A827.2 829 0 0 0 1438.1 2445.4Z" fill="#0a2896" fill-opacity="0.64"/>
<path d="M1440.7 2419.8 A852.8 854.6 0 0 1 1444 2420.2 L1441.3 2445.7 A827.2 829 0 0 0 1438.1 2445.4Z" fill="#0a2896"/>
<path d="M1490.9 2400.5 A878.4 880.3 0 0 1 1493.9 2401 L1485.7 2451.7 A827.2 829 0 0 0 1482.9 2451.2Z" fill="#0a2896" fill-opacity="0.64"/>
<path d="M1486.9 2425.9 A852.8 854.6 0 0 1 1489.8 2426.4 L1485.7 2451.7 A827.2 829 0 0 0 1482.9 2451.2Z" fill="#0a2896"/>
<path d="M1499.7 2402 A878.4 880.3 0 0 1 1512.8 2404.3 L1503.5 2454.8 A827.2 829 0 0 0 1491.1 2452.6Z" fill="#f0b880" fill-opacity="0.64"/>
<path d="M1494.5 2432.3 A847.7 849.5 0 0 1 1507.2 2434.6 L1503.5 2454.8 A827.2 829 0 0 0 1491.1 2452.6Z" fill="#f0b880"/>
<path d="M1516.4 2405 A878.4 880.3 0 0 1 1596.9 2424.2 L1582.7 2473.5 A827.2 829 0 0 0 1506.9 2455.4Z" fill="#0a6937" fill-opacity="0.64"/>
<path d="M1510.3 2437.3 A845.6 847.5 0 0 1 1587.8 2455.8 L1582.7 2473.5 A827.2 829 0 0 0 1506.9 2455.4Z" fill="#0a6937"/>
<path d="M1597.7 2424.4 A878.4 880.3 0 0 1 1677 2451.6 L1658.1 2499.4 A827.2 829 0 0 0 1583.4 2473.8Z" fill="#0a6937" fill-opacity="0.64"/>
<path d="M1588.7 2455.5 A846.1 848 0 0 1 1665.1 2481.7 L1658.1 2499.4 A827.2 829 0 0 0 1583.4 2473.8Z" fill="#0a6937"/>
<path d="M1699.2 2460.8 A878.4 880.3 0 0 1 1765.7 2492.7 L1741.6 2538.1 A827.2 829 0 0 0 1679 2508Z" fill="#30c8b8" fill-opacity="0.64"/>
<path d="M1685 2493.9 A842.5 844.4 0 0 1 1748.8 2524.5 L1741.6 2538.1 A827.2 829 0 0 0 1679 2508Z" fill="#30c8b8"/>
<path d="M1781.7 2501.5 A878.4 880.3 0 0 1 1784.7 2503.2 L1759.5 2547.9 A827.2 829 0 0 0 1756.8 2546.4Z" fill="#0a910a" fill-opacity="0.64"/>
<path d="M1765.5 2530.7 A845.1 846.9 0 0 1 1768.3 2532.3 L1759.5 2547.9 A827.2 829 0 0 0 1756.8 2546.4Z" fill="#0a910a"/>
<path d="M1802.7 2513.7 A878.4 880.3 0 0 1 1808 2516.8 L1781.4 2560.8 A827.2 829 0 0 0 1776.5 2557.8Z" fill="#0a910a" fill-opacity="0.64"/>
<path d="M1785.7 2542.3 A845.1 846.9 0 0 1 1790.7 2545.4 L1781.4 2560.8 A827.2 829 0 0 0 1776.5 2557.8Z" fill="#0a910a"/>
<path d="M2018.7 2695.4 A878.4 880.3 0 0 1 2020.9 2698 L1981.9 2731.3 A827.2 829 0 0 0 1979.9 2728.9Z" fill="#0a910a" fill-opacity="0.64"/>
<path d="M1995.4 2715.5 A847.7 849.5 0 0 1 1997.5 2718 L1981.9 2731.3 A827.2 829 0 0 0 1979.9 2728.9Z" fill="#0a910a"/>
<path d="M2025.1 2703 A878.4 880.3 0 0 1 2027.6 2706 L1988.3 2738.9 A827.2 829 0 0 0 1985.9 2736.1Z" fill="#0a910a" fill-opacity="0.64"/>
<path d="M2001.6 2722.9 A847.7 849.5 0 0 1 2004 2725.7 L1988.3 2738.9 A827.2 829 0 0 0 1985.9 2736.1Z" fill="#0a910a"/>
<path d="M2029.1 2707.7 A878.4 880.3 0 0 1 2035.5 2715.6 L1995.7 2747.9 A827.2 829 0 0 0 1989.6 2740.5Z" fill="#0a910a" fill-opacity="0.64"/>
<path d="M2005.4 2727.4 A847.7 849.5 0 0 1 2011.6 2735 L1995.7 2747.9 A827.2 829 0 0 0 1989.6 2740.5Z" fill="#0a910a"/>
<path d="M2073.7 2766.5 A878.4 880.3 0 0 1 2075.4 2769 L2033.3 2798.2 A827.2 829 0 0 0 2031.7 2795.8Z" fill="#0a2896" fill-opacity="0.64"/>
<path d="M2052.7 2781.1 A852.8 854.6 0 0 1 2054.4 2783.6 L2033.3 2798.2 A827.2 829 0 0 0 2031.7 2795.8Z" fill="#0a2896"/>
<path d="M2078.4 2773.3 A878.4 880.3 0 0 1 2080.1 2775.8 L2037.7 2804.6 A827.2 829 0 0 0 2036.1 2802.2Z" fill="#0a2896" fill-opacity="0.64"/>
<path d="M2057.2 2787.8 A852.8 854.6 0 0 1 2058.9 2790.2 L2037.7 2804.6 A827.2 829 0 0 0 2036.1 2802.2Z" fill="#0a2896"/>
<path d="M2120.7 2841.8 A878.4 880.3 0 0 1 2127.3 2853.9 L2082.1 2878.2 A827.2 829 0 0 0 2075.9 2866.8Z" fill="#ba8a50" fill-opacity="0.64"/>
<path d="M2092 2857.8 A845.6 847.5 0 0 1 2098.4 2869.5 L2082.1 2878.2 A827.2 829 0 0 0 2075.9 2866.8Z" fill="#ba8a50"/>
<path d="M2145.5 2890 A878.4 880.3 0 0 1 2175.5 2960.5 L2127.5 2978.5 A827.2 829 0 0 0 2099.3 2912.1Z" fill="#ff6a1e" fill-opacity="0.64"/>
<path d="M2113.2 2905.5 A842.5 844.4 0 0 1 2141.9 2973.1 L2127.5 2978.5 A827.2 829 0 0 0 2099.3 2912.1Z" fill="#ff6a1e"/>
<path d="M2202.6 3045.7 A878.4 880.3 0 0 1 2203.4 3049 L2153.8 3061.9 A827.2 829 0 0 0 2153 3058.8Z" fill="#0a910a" fill-opacity="0.64"/>
<path d="M2172.9 3053.6 A847.7 849.5 0 0 1 2173.7 3056.7 L2153.8 3061.9 A827.2 829 0 0 0 2153 3058.8Z" fill="#0a910a"/>
<path d="M2226.5 3175.6 A878.4 880.3 0 0 1 2229.7 3213.1 L2178.6 3216.4 A827.2 829 0 0 0 2175.5 3181.1Z" fill="#d42a20" fill-opacity="0.64"/>
<path d="M2189.3 3179.6 A841 842.8 0 0 1 2192.4 3215.5 L2178.6 3216.4 A827.2 829 0 0 0 2175.5 3181.1Z" fill="#d42a20"/>
<path d="M2229.9 3216 A878.4 880.3 0 0 1 2230.7 3231.8 L2179.5 3234 A827.2 829 0 0 0 2178.8 3219.1Z" fill="#f0b880" fill-opacity="0.64"/>
<path d="M2200.2 3217.8 A848.7 850.5 0 0 1 2201 3233.1 L2179.5 3234 A827.2 829 0 0 0 2178.8 3219.1Z" fill="#f0b880"/>
<path d="M2231.3 3248.5 A878.4 880.3 0 0 1 2231.4 3252.5 L2180.1 3253.5 A827.2 829 0 0 0 2180.1 3249.7Z" fill="#ba8a50" fill-opacity="0.64"/>
<path d="M2198 3249.3 A845.1 846.9 0 0 1 2198.1 3253.1 L2180.1 3253.5 A827.2 829 0 0 0 2180.1 3249.7Z" fill="#ba8a50"/>
<path d="M2231.5 3273 A878.4 880.3 0 0 1 2231.4 3287.9 L2180.1 3286.9 A827.2 829 0 0 0 2180.3 3272.8Z" fill="#f0b880" fill-opacity="0.64"/>
<path d="M2197.2 3272.9 A844.1 845.9 0 0 1 2197 3287.2 L2180.1 3286.9 A827.2 829 0 0 0 2180.3 3272.8Z" fill="#f0b880"/>
<path d="M2231 3300.1 A878.4 880.3 0 0 1 2230.4 3314.1 L2179.3 3311.5 A827.2 829 0 0 0 2179.8 3298.3Z" fill="#ba8a50" fill-opacity="0.64"/>
<path d="M2199.3 3299 A846.6 848.5 0 0 1 2198.7 3312.5 L2179.3 3311.5 A827.2 829 0 0 0 2179.8 3298.3Z" fill="#ba8a50"/>
<path d="M2230.1 3320.2 A878.4 880.3 0 0 1 2225 3377.5 L2174.1 3371.3 A827.2 829 0 0 0 2179 3317.2Z" fill="#ba8a50" fill-opacity="0.64"/>
<path d="M2194.3 3318.1 A842.5 844.4 0 0 1 2189.4 3373.1 L2174.1 3371.3 A827.2 829 0 0 0 2179 3317.2Z" fill="#ba8a50"/>
<path d="M2224.4 3382.1 A878.4 880.3 0 0 1 2220.2 3410.8 L2169.6 3402.6 A827.2 829 0 0 0 2173.6 3375.6Z" fill="#f0b880" fill-opacity="0.64"/>
<path d="M2188.8 3377.5 A842.5 844.4 0 0 1 2184.8 3405.1 L2169.6 3402.6 A827.2 829 0 0 0 2173.6 3375.6Z" fill="#f0b880"/>
<path d="M2216.7 3430.9 A878.4 880.3 0 0 1 2214.9 3440.7 L2164.6 3430.7 A827.2 829 0 0 0 2166.4 3421.5Z" fill="#f0b880" fill-opacity="0.64"/>
<path d="M2184 3424.8 A845.1 846.9 0 0 1 2182.2 3434.2 L2164.6 3430.7 A827.2 829 0 0 0 2166.4 3421.5Z" fill="#f0b880"/>
<path d="M2214.8 3441.1 A878.4 880.3 0 0 1 2202.2 3495.7 L2152.6 3482.6 A827.2 829 0 0 0 2164.5 3431.1Z" fill="#ba8a50" fill-opacity="0.64"/>
<path d="M2182.6 3434.7 A845.6 847.5 0 0 1 2170.5 3487.3 L2152.6 3482.6 A827.2 829 0 0 0 2164.5 3431.1Z" fill="#ba8a50"/>
<path d="M2201.9 3496.7 A878.4 880.3 0 0 1 2199.5 3505.6 L2150.1 3491.8 A827.2 829 0 0 0 2152.4 3483.5Z" fill="#ba8a50" fill-opacity="0.64"/>
<path d="M2170.2 3488.2 A845.6 847.5 0 0 1 2167.9 3496.8 L2150.1 3491.8 A827.2 829 0 0 0 2152.4 3483.5Z" fill="#ba8a50"/>
<path d="M2111.5 3714.2 A878.4 880.3 0 0 1 2109.9 3716.9 L2065.8 3690.8 A827.2 829 0 0 0 2067.2 3688.3Z" fill="#0a2896" fill-opacity="0.64"/>
<path d="M2089.4 3701.3 A852.8 854.6 0 0 1 2087.9 3703.8 L2065.8 3690.8 A827.2 829 0 0 0 2067.2 3688.3Z" fill="#0a2896"/>
<path d="M2096.8 3738.5 A878.4 880.3 0 0 1 2050.8 3804.9 L2010.1 3773.7 A827.2 829 0 0 0 2053.4 3711.2Z" fill="#ffee30" fill-opacity="0.64"/>
<path d="M2069.4 3721.3 A846.1 848 0 0 1 2025.1 3785.2 L2010.1 3773.7 A827.2 829 0 0 0 2053.4 3711.2Z" fill="#ffee30"/>
<path d="M2042 3816.2 A878.4 880.3 0 0 1 2027.7 3833.8 L1988.4 3800.9 A827.2 829 0 0 0 2001.8 3784.3Z" fill="#f0b880" fill-opacity="0.64"/>
<path d="M2017.9 3797 A847.7 849.5 0 0 1 2004.1 3814.1 L1988.4 3800.9 A827.2 829 0 0 0 2001.8 3784.3Z" fill="#f0b880"/>
<path d="M1706.4 4076 A878.4 880.3 0 0 1 1703.5 4077.2 L1683.1 4030.1 A827.2 829 0 0 0 1685.8 4028.9Z" fill="#0a2896" fill-opacity="0.64"/>
<path d="M1696.1 4052.5 A852.8 854.6 0 0 1 1693.3 4053.6 L1683.1 4030.1 A827.2 829 0 0 0 1685.8 4028.9Z" fill="#0a2896"/>
<path d="M1678.7 4087.6 A878.4 880.3 0 0 1 1599.3 4115 L1585 4065.7 A827.2 829 0 0 0 1659.8 4039.9Z" fill="#ffee30" fill-opacity="0.64"/>
<path d="M1664.9 4052.7 A841 842.8 0 0 1 1588.9 4079 L1585 4065.7 A827.2 829 0 0 0 1659.8 4039.9Z" fill="#ffee30"/>
<path d="M1450.7 4144.8 A878.4 880.3 0 0 1 1439.6 4146 L1434.6 4094.9 A827.2 829 0 0 0 1445 4093.8Z" fill="#0a6937" fill-opacity="0.64"/>
<path d="M1447.4 4115.2 A848.7 850.5 0 0 1 1436.7 4116.4 L1434.6 4094.9 A827.2 829 0 0 0 1445 4093.8Z" fill="#0a6937"/>
<path d="M1430.1 4146.9 A878.4 880.3 0 0 1 1417.2 4147.9 L1413.5 4096.7 A827.2 829 0 0 0 1425.6 4095.7Z" fill="#ffee30" fill-opacity="0.64"/>
<path d="M1426.8 4110.1 A841.5 843.3 0 0 1 1414.5 4111 L1413.5 4096.7 A827.2 829 0 0 0 1425.6 4095.7Z" fill="#ffee30"/>
<path d="M1409.8 4148.4 A878.4 880.3 0 0 1 1387.3 4149.6 L1385.3 4098.3 A827.2 829 0 0 0 1406.5 4097.2Z" fill="#ffee30" fill-opacity="0.64"/>
<path d="M1407.4 4111.5 A841.5 843.3 0 0 1 1385.9 4112.7 L1385.3 4098.3 A827.2 829 0 0 0 1406.5 4097.2Z" fill="#ffee30"/>
<path d="M1377.8 4149.9 A878.4 880.3 0 0 1 1359.4 4150.2 L1359 4098.9 A827.2 829 0 0 0 1376.3 4098.6Z" fill="#ffee30" fill-opacity="0.64"/>
<path d="M1376.7 4113 A841.5 843.3 0 0 1 1359.1 4113.3 L1359 4098.9 A827.2 829 0 0 0 1376.3 4098.6Z" fill="#ffee30"/>
<path d="M1354.6 4150.3 A878.4 880.3 0 0 1 1270.4 4146.3 L1275.3 4095.2 A827.2 829 0 0 0 1354.6 4098.9Z" fill="#ffee30" fill-opacity="0.64"/>
<path d="M1354.6 4113.3 A841.5 843.3 0 0 1 1273.9 4109.5 L1275.3 4095.2 A827.2 829 0 0 0 1354.6 4098.9Z" fill="#ffee30"/>
<path d="M1268.2 4146.1 A878.4 880.3 0 0 1 1225.6 4140.9 L1233.1 4090.1 A827.2 829 0 0 0 1273.2 4095Z" fill="#ffee30" fill-opacity="0.64"/>
<path d="M1271.7 4110.4 A842.5 844.4 0 0 1 1230.8 4105.4 L1233.1 4090.1 A827.2 829 0 0 0 1273.2 4095Z" fill="#ffee30"/>
<path d="M1220 4140.1 A878.4 880.3 0 0 1 1210.4 4138.6 L1218.7 4087.9 A827.2 829 0 0 0 1227.7 4089.3Z" fill="#f0b880" fill-opacity="0.64"/>
<path d="M1225.2 4105.6 A843.6 845.4 0 0 1 1216.1 4104.1 L1218.7 4087.9 A827.2 829 0 0 0 1227.7 4089.3Z" fill="#f0b880"/>
<path d="M973.9 4064 A878.4 880.3 0 0 1 970.8 4062.5 L993.1 4016.3 A827.2 829 0 0 0 996 4017.7Z" fill="#0a2896" fill-opacity="0.64"/>
<path d="M984.9 4040.8 A852.8 854.6 0 0 1 982 4039.4 L993.1 4016.3 A827.2 829 0 0 0 996 4017.7Z" fill="#0a2896"/>
<path d="M965.1 4059.7 A878.4 880.3 0 0 1 961.8 4058 L984.6 4012.1 A827.2 829 0 0 0 987.7 4013.6Z" fill="#ff3322" fill-opacity="0.64"/>
<path d="M976.4 4036.6 A852.8 854.6 0 0 1 973.2 4035.1 L984.6 4012.1 A827.2 829 0 0 0 987.7 4013.6Z" fill="#ff3322"/>
<path d="M955.7 4055 A878.4 880.3 0 0 1 952.2 4053.2 L975.6 4007.5 A827.2 829 0 0 0 978.9 4009.2Z" fill="#ff3322" fill-opacity="0.64"/>
<path d="M967.3 4032.1 A852.8 854.6 0 0 1 963.9 4030.4 L975.6 4007.5 A827.2 829 0 0 0 978.9 4009.2Z" fill="#ff3322"/>
<path d="M946.3 4050.2 A878.4 880.3 0 0 1 858.5 3997.4 L887.4 3955 A827.2 829 0 0 0 970.1 4004.6Z" fill="#ff3322" fill-opacity="0.64"/>
<path d="M957.2 4029.2 A854.8 856.7 0 0 1 871.8 3977.9 L887.4 3955 A827.2 829 0 0 0 970.1 4004.6Z" fill="#ff3322"/>
<path d="M853.9 3994.2 A878.4 880.3 0 0 1 826.5 3974.5 L857.2 3933.4 A827.2 829 0 0 0 883 3952Z" fill="#0a2896" fill-opacity="0.64"/>
<path d="M867 3975.2 A855.3 857.2 0 0 1 840.3 3956 L857.2 3933.4 A827.2 829 0 0 0 883 3952Z" fill="#0a2896"/>
<path d="M825.5 3973.7 A878.4 880.3 0 0 1 794.7 3949.4 L827.2 3909.8 A827.2 829 0 0 0 856.3 3932.7Z" fill="#0a2896" fill-opacity="0.64"/>
<path d="M839.3 3955.3 A855.3 857.2 0 0 1 809.3 3931.6 L827.2 3909.8 A827.2 829 0 0 0 856.3 3932.7Z" fill="#0a2896"/>
<path d="M788.5 3944.3 A878.4 880.3 0 0 1 746.5 3906.6 L781.9 3869.5 A827.2 829 0 0 0 821.5 3905Z" fill="#ff3322" fill-opacity="0.64"/>
<path d="M803.3 3926.6 A855.3 857.2 0 0 1 762.4 3889.9 L781.9 3869.5 A827.2 829 0 0 0 821.5 3905Z" fill="#ff3322"/>
<path d="M742 3902.2 A878.4 880.3 0 0 1 739.8 3900.1 L775.6 3863.3 A827.2 829 0 0 0 777.6 3865.4Z" fill="#0a2896" fill-opacity="0.64"/>
<path d="M759.8 3883.8 A852.8 854.6 0 0 1 757.7 3881.7 L775.6 3863.3 A827.2 829 0 0 0 777.6 3865.4Z" fill="#0a2896"/>
<path d="M536.6 3172.6 A822.3 824.1 0 0 1 544.3 3121.5 L594.7 3130.8 A771.1 772.8 0 0 0 587.4 3178.6Z" fill="#96c828" fill-opacity="0.64"/>
<path d="M536.6 3172.6 A822.3 824.1 0 0 1 544.3 3121.5 L565.4 3125.4 A800.8 802.6 0 0 0 557.9 3175.1Z" fill="#96c828"/>
<path d="M544.3 3121.6 A822.3 824.1 0 0 1 546.9 3107.7 L597.1 3117.8 A771.1 772.8 0 0 0 594.6 3130.8Z" fill="#96c828" fill-opacity="0.64"/>
<path d="M544.3 3121.6 A822.3 824.1 0 0 1 546.9 3107.7 L567 3111.8 A801.8 803.6 0 0 0 564.4 3125.3Z" fill="#96c828"/>
<path d="M549.9 3093.5 A822.3 824.1 0 0 1 555.2 3070.9 L604.9 3083.3 A771.1 772.8 0 0 0 599.9 3104.5Z" fill="#0a2896" fill-opacity="0.64"/>
<path d="M549.9 3093.5 A822.3 824.1 0 0 1 555.2 3070.9 L575.1 3075.8 A801.8 803.6 0 0 0 569.9 3097.9Z" fill="#0a2896"/>
<path d="M556.5 3065.6 A822.3 824.1 0 0 1 561.2 3047.9 L610.6 3061.8 A771.1 772.8 0 0 0 606.1 3078.3Z" fill="#ffee30" fill-opacity="0.64"/>
<path d="M556.5 3065.6 A822.3 824.1 0 0 1 561.2 3047.9 L579 3052.9 A803.9 805.6 0 0 0 574.4 3070.2Z" fill="#ffee30"/>
<path d="M561.7 3046.3 A822.3 824.1 0 0 1 569.9 3018.9 L618.7 3034.5 A771.1 772.8 0 0 0 611 3060.2Z" fill="#ffee30" fill-opacity="0.64"/>
<path d="M561.7 3046.3 A822.3 824.1 0 0 1 569.9 3018.9 L588.4 3024.8 A802.9 804.6 0 0 0 580.4 3051.6Z" fill="#ffee30"/>
<path d="M570.7 3016.3 A822.3 824.1 0 0 1 575.5 3002 L623.9 3018.7 A771.1 772.8 0 0 0 619.5 3032.1Z" fill="#ffee30" fill-opacity="0.64"/>
<path d="M570.7 3016.3 A822.3 824.1 0 0 1 575.5 3002 L594.4 3008.5 A802.4 804.1 0 0 0 589.7 3022.5Z" fill="#ffee30"/>
<path d="M602.4 2933.6 A822.3 824.1 0 0 1 655.7 2833.3 L699.2 2860.5 A771.1 772.8 0 0 0 649.2 2954.6Z" fill="#d42a20" fill-opacity="0.64"/>
<path d="M602.4 2933.6 A822.3 824.1 0 0 1 655.7 2833.3 L671.4 2843.1 A803.9 805.6 0 0 0 619.2 2941.2Z" fill="#d42a20"/>
<path d="M656.3 2832.4 A822.3 824.1 0 0 1 713.4 2752.1 L753.3 2784.4 A771.1 772.8 0 0 0 699.7 2859.7Z" fill="#d42a20" fill-opacity="0.64"/>
<path d="M656.3 2832.4 A822.3 824.1 0 0 1 713.4 2752.1 L727.8 2763.7 A803.9 805.6 0 0 0 671.9 2842.2Z" fill="#d42a20"/>
<path d="M715.5 2749.6 A822.3 824.1 0 0 1 812.6 2648.9 L846.3 2687.6 A771.1 772.8 0 0 0 755.2 2782Z" fill="#d42a20" fill-opacity="0.64"/>
<path d="M715.5 2749.6 A822.3 824.1 0 0 1 812.6 2648.9 L824.1 2662 A804.9 806.7 0 0 0 729 2760.6Z" fill="#d42a20"/>
<path d="M820.6 2642 A822.3 824.1 0 0 1 840.3 2625.7 L872.3 2665.8 A771.1 772.8 0 0 0 853.8 2681.1Z" fill="#f0b880" fill-opacity="0.64"/>
<path d="M820.6 2642 A822.3 824.1 0 0 1 840.3 2625.7 L852.5 2641 A802.9 804.6 0 0 0 833.2 2656.8Z" fill="#f0b880"/>
<path d="M845.6 2621.5 A822.3 824.1 0 0 1 868.8 2603.9 L899 2645.4 A771.1 772.8 0 0 0 877.2 2661.9Z" fill="#96c828" fill-opacity="0.64"/>
<path d="M845.6 2621.5 A822.3 824.1 0 0 1 868.8 2603.9 L880 2619.3 A803.4 805.1 0 0 0 857.3 2636.5Z" fill="#96c828"/>
<path d="M898.4 2583.3 A822.3 824.1 0 0 1 907 2577.7 L934.8 2620.8 A771.1 772.8 0 0 0 926.8 2626Z" fill="#96c828" fill-opacity="0.64"/>
<path d="M898.4 2583.3 A822.3 824.1 0 0 1 907 2577.7 L919.5 2597.1 A799.3 801 0 0 0 911.2 2602.5Z" fill="#96c828"/>
<path d="M908.4 2576.8 A822.3 824.1 0 0 1 946.7 2553.5 L972 2598.2 A771.1 772.8 0 0 0 936.1 2619.9Z" fill="#96c828" fill-opacity="0.64"/>
<path d="M908.4 2576.8 A822.3 824.1 0 0 1 946.7 2553.5 L956.1 2570 A803.4 805.1 0 0 0 918.6 2592.7Z" fill="#96c828"/>
<path d="M948.1 2552.7 A822.3 824.1 0 0 1 994.7 2528.2 L1017 2574.5 A771.1 772.8 0 0 0 973.4 2597.4Z" fill="#96c828" fill-opacity="0.64"/>
<path d="M948.1 2552.7 A822.3 824.1 0 0 1 994.7 2528.2 L1003.6 2546.7 A801.8 803.6 0 0 0 958.2 2570.6Z" fill="#96c828"/>
<path d="M1059.1 2500.3 A822.3 824.1 0 0 1 1061.7 2499.3 L1079.9 2547.3 A771.1 772.8 0 0 0 1077.4 2548.3Z" fill="#0a2896" fill-opacity="0.64"/>
<path d="M1059.1 2500.3 A822.3 824.1 0 0 1 1061.7 2499.3 L1070.8 2523.3 A796.7 798.5 0 0 0 1068.2 2524.3Z" fill="#0a2896"/>
<path d="M1147.1 2472.1 A822.3 824.1 0 0 1 1166.4 2467.3 L1178.1 2517.3 A771.1 772.8 0 0 0 1159.9 2521.8Z" fill="#0a2896" fill-opacity="0.64"/>
<path d="M1147.1 2472.1 A822.3 824.1 0 0 1 1166.4 2467.3 L1170.9 2486.3 A802.9 804.6 0 0 0 1152 2491Z" fill="#0a2896"/>
<path d="M1181.1 2464.1 A822.3 824.1 0 0 1 1183.9 2463.5 L1194.5 2513.7 A771.1 772.8 0 0 0 1191.8 2514.3Z" fill="#0a2896" fill-opacity="0.64"/>
<path d="M1181.1 2464.1 A822.3 824.1 0 0 1 1183.9 2463.5 L1189.2 2488.6 A796.7 798.5 0 0 0 1186.5 2489.2Z" fill="#0a2896"/>
<path d="M1191.4 2461.9 A822.3 824.1 0 0 1 1194.7 2461.3 L1204.6 2511.6 A771.1 772.8 0 0 0 1201.4 2512.3Z" fill="#7da514" fill-opacity="0.64"/>
<path d="M1191.4 2461.9 A822.3 824.1 0 0 1 1194.7 2461.3 L1198.7 2481.4 A801.8 803.6 0 0 0 1195.4 2482.1Z" fill="#7da514"/>
<path d="M1290.8 2448.2 A822.3 824.1 0 0 1 1293.7 2448 L1297.4 2499.2 A771.1 772.8 0 0 0 1294.7 2499.4Z" fill="#0a2896" fill-opacity="0.64"/>
<path d="M1290.8 2448.2 A822.3 824.1 0 0 1 1293.7 2448 L1295.6 2473.6 A796.7 798.5 0 0 0 1292.8 2473.8Z" fill="#0a2896"/>
<path d="M1344.2 2445.9 A822.3 824.1 0 0 1 1377.4 2446.2 L1375.9 2497.5 A771.1 772.8 0 0 0 1344.8 2497.2Z" fill="#0a910a" fill-opacity="0.64"/>
<path d="M1344.2 2445.9 A822.3 824.1 0 0 1 1377.4 2446.2 L1376.8 2466.7 A801.8 803.6 0 0 0 1344.5 2466.4Z" fill="#0a910a"/>
<path d="M1376.1 2446.1 A822.3 824.1 0 0 1 1427.2 2449.2 L1422.6 2500.3 A771.1 772.8 0 0 0 1374.6 2497.5Z" fill="#0a910a" fill-opacity="0.64"/>
<path d="M1376.1 2446.1 A822.3 824.1 0 0 1 1427.2 2449.2 L1425.3 2470.6 A800.8 802.6 0 0 0 1375.5 2467.7Z" fill="#0a910a"/>
<path d="M1452.1 2451.8 A822.3 824.1 0 0 1 1456.4 2452.3 L1450 2503.3 A771.1 772.8 0 0 0 1446 2502.8Z" fill="#0a910a" fill-opacity="0.64"/>
<path d="M1452.1 2451.8 A822.3 824.1 0 0 1 1456.4 2452.3 L1454.2 2470.2 A804.4 806.2 0 0 0 1450 2469.6Z" fill="#0a910a"/>
<path d="M1472 2454.5 A822.3 824.1 0 0 1 1474.9 2454.9 L1467.3 2505.7 A771.1 772.8 0 0 0 1464.6 2505.3Z" fill="#0a2896" fill-opacity="0.64"/>
<path d="M1472 2454.5 A822.3 824.1 0 0 1 1474.9 2454.9 L1471.1 2480.3 A796.7 798.5 0 0 0 1468.3 2479.9Z" fill="#0a2896"/>
<path d="M1740.8 2543.1 A822.3 824.1 0 0 1 1743.3 2544.5 L1719 2589.7 A771.1 772.8 0 0 0 1716.7 2588.4Z" fill="#0a2896" fill-opacity="0.64"/>
<path d="M1740.8 2543.1 A822.3 824.1 0 0 1 1743.3 2544.5 L1731.2 2567.1 A796.7 798.5 0 0 0 1728.7 2565.8Z" fill="#0a2896"/>
<path d="M1792.2 2573.1 A822.3 824.1 0 0 1 1794.7 2574.7 L1767.2 2618 A771.1 772.8 0 0 0 1764.9 2616.5Z" fill="#0a2896" fill-opacity="0.64"/>
<path d="M1792.2 2573.1 A822.3 824.1 0 0 1 1794.7 2574.7 L1780.9 2596.3 A796.7 798.5 0 0 0 1778.6 2594.8Z" fill="#0a2896"/>
<path d="M1819.6 2591.2 A822.3 824.1 0 0 1 1862 2622.6 L1830.3 2662.9 A771.1 772.8 0 0 0 1790.6 2633.5Z" fill="#8c8c8c" fill-opacity="0.64"/>
<path d="M1819.6 2591.2 A822.3 824.1 0 0 1 1862 2622.6 L1850.9 2636.7 A804.4 806.2 0 0 0 1809.5 2606Z" fill="#8c8c8c"/>
<path d="M1868.4 2627.6 A822.3 824.1 0 0 1 1871.1 2629.8 L1838.8 2669.7 A771.1 772.8 0 0 0 1836.3 2667.7Z" fill="#0a6937" fill-opacity="0.64"/>
<path d="M1868.4 2627.6 A822.3 824.1 0 0 1 1871.1 2629.8 L1859.8 2643.8 A804.4 806.2 0 0 0 1857.2 2641.7Z" fill="#0a6937"/>
<path d="M1875.5 2633.4 A822.3 824.1 0 0 1 1889.8 2645.5 L1856.4 2684.4 A771.1 772.8 0 0 0 1843 2673.1Z" fill="#30c8b8" fill-opacity="0.64"/>
<path d="M1875.5 2633.4 A822.3 824.1 0 0 1 1889.8 2645.5 L1877.1 2660.3 A802.9 804.6 0 0 0 1863.1 2648.5Z" fill="#30c8b8"/>
<path d="M1902.1 2656.3 A822.3 824.1 0 0 1 1920.3 2673.2 L1885 2710.4 A771.1 772.8 0 0 0 1867.9 2694.5Z" fill="#8c8c8c" fill-opacity="0.64"/>
<path d="M1902.1 2656.3 A822.3 824.1 0 0 1 1920.3 2673.2 L1908.6 2685.4 A805.4 807.2 0 0 0 1890.8 2668.9Z" fill="#8c8c8c"/>
<path d="M1925.3 2678 A822.3 824.1 0 0 1 1947.6 2700.5 L1910.6 2736 A771.1 772.8 0 0 0 1889.7 2714.9Z" fill="#7da514" fill-opacity="0.64"/>
<path d="M1925.3 2678 A822.3 824.1 0 0 1 1947.6 2700.5 L1935.4 2712.2 A805.4 807.2 0 0 0 1913.6 2690.2Z" fill="#7da514"/>
<path d="M2021.2 2789.4 A822.3 824.1 0 0 1 2023.3 2792.3 L1981.5 2822 A771.1 772.8 0 0 0 1979.6 2819.4Z" fill="#7da514" fill-opacity="0.64"/>
<path d="M2021.2 2789.4 A822.3 824.1 0 0 1 2023.3 2792.3 L2008.6 2802.7 A804.4 806.2 0 0 0 2006.7 2799.9Z" fill="#7da514"/>
<path d="M2025.6 2795.6 A822.3 824.1 0 0 1 2027.6 2798.5 L1985.6 2827.8 A771.1 772.8 0 0 0 1983.8 2825.2Z" fill="#7da514" fill-opacity="0.64"/>
<path d="M2025.6 2795.6 A822.3 824.1 0 0 1 2027.6 2798.5 L2012.9 2808.8 A804.4 806.2 0 0 0 2011 2806Z" fill="#7da514"/>
<path d="M2046.3 2826.4 A822.3 824.1 0 0 1 2048.1 2829.4 L2004.8 2856.8 A771.1 772.8 0 0 0 2003.1 2854.1Z" fill="#0a6937" fill-opacity="0.64"/>
<path d="M2046.3 2826.4 A822.3 824.1 0 0 1 2048.1 2829.4 L2030.8 2840.3 A801.8 803.6 0 0 0 2029 2837.5Z" fill="#0a6937"/>
<path d="M2060.9 2850.3 A822.3 824.1 0 0 1 2064.5 2856.5 L2020.2 2882.3 A771.1 772.8 0 0 0 2016.8 2876.5Z" fill="#ba8a50" fill-opacity="0.64"/>
<path d="M2060.9 2850.3 A822.3 824.1 0 0 1 2064.5 2856.5 L2047.7 2866.3 A802.9 804.6 0 0 0 2044.1 2860.2Z" fill="#ba8a50"/>
<path d="M2069.2 2864.7 A822.3 824.1 0 0 1 2074.1 2873.5 L2029.2 2898.2 A771.1 772.8 0 0 0 2024.6 2890Z" fill="#f0b880" fill-opacity="0.64"/>
<path d="M2069.2 2864.7 A822.3 824.1 0 0 1 2074.1 2873.5 L2058.4 2882.2 A804.4 806.2 0 0 0 2053.6 2873.6Z" fill="#f0b880"/>
<path d="M2129.8 2999 A822.3 824.1 0 0 1 2145.1 3047.9 L2095.7 3061.7 A771.1 772.8 0 0 0 2081.4 3015.9Z" fill="#0a910a" fill-opacity="0.64"/>
<path d="M2129.8 2999 A822.3 824.1 0 0 1 2145.1 3047.9 L2127.3 3052.9 A803.9 805.6 0 0 0 2112.4 3005.1Z" fill="#0a910a"/>
<path d="M2148.5 3060.5 A822.3 824.1 0 0 1 2149.3 3063.5 L2099.7 3076.4 A771.1 772.8 0 0 0 2098.9 3073.5Z" fill="#0a910a" fill-opacity="0.64"/>
<path d="M2148.5 3060.5 A822.3 824.1 0 0 1 2149.3 3063.5 L2131.9 3068 A804.4 806.2 0 0 0 2131.1 3065Z" fill="#0a910a"/>
<path d="M2151.5 3072.3 A822.3 824.1 0 0 1 2152.5 3076.5 L2102.7 3088.5 A771.1 772.8 0 0 0 2101.7 3084.6Z" fill="#0a910a" fill-opacity="0.64"/>
<path d="M2151.5 3072.3 A822.3 824.1 0 0 1 2152.5 3076.5 L2132.6 3081.3 A801.8 803.6 0 0 0 2131.6 3077.2Z" fill="#0a910a"/>
<path d="M2153.6 3081.2 A822.3 824.1 0 0 1 2163.9 3131.9 L2113.4 3140.5 A771.1 772.8 0 0 0 2103.8 3093Z" fill="#7da514" fill-opacity="0.64"/>
<path d="M2153.6 3081.2 A822.3 824.1 0 0 1 2163.9 3131.9 L2148.7 3134.5 A807 808.7 0 0 0 2138.7 3084.7Z" fill="#7da514"/>
<path d="M2165 3138.8 A822.3 824.1 0 0 1 2170.2 3176.4 L2119.3 3182.3 A771.1 772.8 0 0 0 2114.4 3147Z" fill="#7da514" fill-opacity="0.64"/>
<path d="M2165 3138.8 A822.3 824.1 0 0 1 2170.2 3176.4 L2154.9 3178.2 A807 808.7 0 0 0 2149.8 3141.3Z" fill="#7da514"/>
<path d="M1927.8 3859.5 A822.3 824.1 0 0 1 1925.7 3861.5 L1890.1 3824.6 A771.1 772.8 0 0 0 1892 3822.7Z" fill="#0a2896" fill-opacity="0.64"/>
<path d="M1927.8 3859.5 A822.3 824.1 0 0 1 1925.7 3861.5 L1907.9 3843.1 A796.7 798.5 0 0 0 1909.9 3841.1Z" fill="#0a2896"/>
<path d="M1920.4 3866.6 A822.3 824.1 0 0 1 1879.7 3903 L1846.9 3863.5 A771.1 772.8 0 0 0 1885.1 3829.4Z" fill="#ff3322" fill-opacity="0.64"/>
<path d="M1920.4 3866.6 A822.3 824.1 0 0 1 1879.7 3903 L1861.7 3881.3 A794.2 795.9 0 0 0 1901 3846.2Z" fill="#ff3322"/>
<path d="M1874.7 3907.1 A822.3 824.1 0 0 1 1845.2 3930.3 L1814.5 3889.1 A771.1 772.8 0 0 0 1842.2 3867.4Z" fill="#0a2896" fill-opacity="0.64"/>
<path d="M1874.7 3907.1 A822.3 824.1 0 0 1 1845.2 3930.3 L1828.3 3907.6 A794.2 795.9 0 0 0 1856.8 3885.3Z" fill="#0a2896"/>
<path d="M1844.2 3931 A822.3 824.1 0 0 1 1819.7 3948.6 L1790.7 3906.3 A771.1 772.8 0 0 0 1813.6 3889.8Z" fill="#0a2896" fill-opacity="0.64"/>
<path d="M1844.2 3931 A822.3 824.1 0 0 1 1819.7 3948.6 L1803.7 3925.3 A794.2 795.9 0 0 0 1827.4 3908.3Z" fill="#0a2896"/>
<path d="M1814.4 3952.2 A822.3 824.1 0 0 1 1729.7 4002.6 L1706.2 3957 A771.1 772.8 0 0 0 1785.7 3909.7Z" fill="#ff3322" fill-opacity="0.64"/>
<path d="M1814.4 3952.2 A822.3 824.1 0 0 1 1729.7 4002.6 L1717 3978 A794.7 796.4 0 0 0 1798.9 3929.3Z" fill="#ff3322"/>
<path d="M1724.2 4005.4 A822.3 824.1 0 0 1 1721.2 4006.9 L1698.2 3961 A771.1 772.8 0 0 0 1701.1 3959.6Z" fill="#ff3322" fill-opacity="0.64"/>
<path d="M1724.2 4005.4 A822.3 824.1 0 0 1 1721.2 4006.9 L1709.7 3984 A796.7 798.5 0 0 0 1712.7 3982.5Z" fill="#ff3322"/>
<path d="M1715.1 4010 A822.3 824.1 0 0 1 1712 4011.5 L1689.7 3965.3 A771.1 772.8 0 0 0 1692.6 3963.9Z" fill="#ff3322" fill-opacity="0.64"/>
<path d="M1715.1 4010 A822.3 824.1 0 0 1 1712 4011.5 L1700.8 3988.4 A796.7 798.5 0 0 0 1703.8 3986.9Z" fill="#ff3322"/>
<path d="M1707.7 4013.5 A822.3 824.1 0 0 1 1705.1 4014.8 L1683.2 3968.4 A771.1 772.8 0 0 0 1685.6 3967.2Z" fill="#0a2896" fill-opacity="0.64"/>
<path d="M1707.7 4013.5 A822.3 824.1 0 0 1 1705.1 4014.8 L1694.2 3991.6 A796.7 798.5 0 0 0 1696.7 3990.4Z" fill="#0a2896"/>
<path d="M1559 4067.9 A822.3 824.1 0 0 1 1555.6 4068.7 L1543 4018.9 A771.1 772.8 0 0 0 1546.1 4018.1Z" fill="#ba8a50" fill-opacity="0.64"/>
<path d="M1559 4067.9 A822.3 824.1 0 0 1 1555.6 4068.7 L1551.2 4051.3 A804.4 806.2 0 0 0 1554.5 4050.5Z" fill="#ba8a50"/>
<path d="M1543.5 4071.7 A822.3 824.1 0 0 1 1540.7 4072.4 L1529 4022.4 A771.1 772.8 0 0 0 1531.6 4021.8Z" fill="#0a2896" fill-opacity="0.64"/>
<path d="M1543.5 4071.7 A822.3 824.1 0 0 1 1540.7 4072.4 L1534.8 4047.4 A796.7 798.5 0 0 0 1537.5 4046.7Z" fill="#0a2896"/>
<path d="M1536 4073.5 A822.3 824.1 0 0 1 1505.6 4079.8 L1496.1 4029.3 A771.1 772.8 0 0 0 1524.6 4023.4Z" fill="#8c8c8c" fill-opacity="0.64"/>
<path d="M1536 4073.5 A822.3 824.1 0 0 1 1505.6 4079.8 L1502.5 4063.1 A805.4 807.2 0 0 0 1532.2 4056.9Z" fill="#8c8c8c"/>
<path d="M1023 4024.8 A822.3 824.1 0 0 1 1020.4 4023.6 L1041.1 3976.6 A771.1 772.8 0 0 0 1043.6 3977.7Z" fill="#0a2896" fill-opacity="0.64"/>
<path d="M1023 4024.8 A822.3 824.1 0 0 1 1020.4 4023.6 L1030.7 4000.1 A796.7 798.5 0 0 0 1033.3 4001.2Z" fill="#0a2896"/>
<path d="M716.8 3792 A822.3 824.1 0 0 1 706.1 3778.5 L746.4 3746.8 A771.1 772.8 0 0 0 756.5 3759.5Z" fill="#f0b880" fill-opacity="0.64"/>
<path d="M716.8 3792 A822.3 824.1 0 0 1 706.1 3778.5 L722.2 3765.8 A801.8 803.6 0 0 0 732.7 3779Z" fill="#f0b880"/>
<path d="M697.5 3767.4 A822.3 824.1 0 0 1 654.7 3705 L698.2 3677.9 A771.1 772.8 0 0 0 738.4 3736.4Z" fill="#ffee30" fill-opacity="0.64"/>
<path d="M697.5 3767.4 A822.3 824.1 0 0 1 654.7 3705 L670.8 3694.9 A803.4 805.1 0 0 0 712.6 3755.9Z" fill="#ffee30"/>
<path d="M644 3687.2 A822.3 824.1 0 0 1 642.5 3684.7 L686.8 3658.8 A771.1 772.8 0 0 0 688.1 3661.2Z" fill="#0a2896" fill-opacity="0.64"/>
<path d="M644 3687.2 A822.3 824.1 0 0 1 642.5 3684.7 L664.7 3671.7 A796.7 798.5 0 0 0 666.1 3674.2Z" fill="#0a2896"/>
<path d="M560.3 3488.6 A822.3 824.1 0 0 1 558 3480.3 L607.6 3467.2 A771.1 772.8 0 0 0 609.7 3475Z" fill="#ba8a50" fill-opacity="0.64"/>
<path d="M560.3 3488.6 A822.3 824.1 0 0 1 558 3480.3 L575.9 3475.6 A803.9 805.6 0 0 0 578.1 3483.7Z" fill="#ba8a50"/>
<path d="M557.9 3479.7 A822.3 824.1 0 0 1 546.2 3428.5 L596.5 3418.6 A771.1 772.8 0 0 0 607.4 3466.6Z" fill="#ba8a50" fill-opacity="0.64"/>
<path d="M557.9 3479.7 A822.3 824.1 0 0 1 546.2 3428.5 L564.3 3425 A803.9 805.6 0 0 0 575.7 3475Z" fill="#ba8a50"/>
<path d="M1353.2 3269.9 L2215.8 3438 A878.8 880.7 0 0 1 1677 4088.7Z" fill="#1e1eff" fill-opacity="0.15"/>
<path d="M1353.2 3269.9 L1029.3 4088.7 A878.8 880.7 0 0 1 490.5 3438Z" fill="#1e1eff" fill-opacity="0.15"/>
<path d="M543.6 3427.7 A824.7 826.5 0 1 1 2162.7 3427.7" fill="none" stroke="#05aaa6" stroke-width="4.8"/>
<path d="M2162.7 3427.7 A824.7 826.5 0 0 1 1657.1 4038.3" fill="none" stroke="#14255c" stroke-width="3.3"/>
<path d="M1657.1 4038.3 A824.7 826.5 0 0 1 1049.2 4038.3" fill="none" stroke="#55b4e9" stroke-width="3.8"/>
<path d="M1049.2 4038.3 A824.7 826.5 0 0 1 543.6 3427.7" fill="none" stroke="#14255c" stroke-width="3.3"/>
<ellipse cx="1353.2" cy="3269.9" rx="534.9" ry="536.1" fill="none" stroke="#1a1a1a" stroke-width="3"/>
<path d="M824.9 3354.6 L819.5 3355.5M822.4 3336.8 L816.9 3337.5M820.5 3319 L815 3319.5M819.1 3301.1 L813.6 3301.4M818.2 3265.2 L812.7 3265.2M818.7 3247.3 L813.2 3247M819.8 3229.4 L814.2 3228.9M821.4 3211.5 L815.9 3210.9M826.5 3176 L821.1 3175M829.9 3158.4 L824.5 3157.2M834 3140.9 L828.6 3139.5M838.6 3123.5 L833.2 3122M849.5 3089.3 L844.3 3087.5M855.8 3072.6 L850.7 3070.5M862.7 3056 L857.6 3053.8M870.1 3039.6 L865.1 3037.3M886.6 3007.8 L881.7 3005.1M895.6 2992.3 L890.8 2989.4M905.1 2977.1 L900.5 2974M915.1 2962.2 L910.6 2959M936.7 2933.5 L932.4 2930.1M948.1 2919.7 L943.9 2916.1M960.1 2906.4 L956 2902.6M972.4 2893.4 L968.5 2889.5M998.4 2868.7 L994.7 2864.5M1012 2857 L1008.5 2852.7M1026 2845.8 L1022.6 2841.4M1040.3 2835.1 L1037.1 2830.6M1070.1 2815.1 L1067.2 2810.4M1085.4 2805.8 L1082.7 2801M1101.1 2797.1 L1098.5 2792.2M1117 2788.9 L1114.6 2783.9M1149.7 2774.2 L1147.6 2769M1166.3 2767.6 L1164.4 2762.4M1183.2 2761.6 L1181.5 2756.4M1200.3 2756.2 L1198.7 2750.9M1234.9 2747.1 L1233.7 2741.7M1252.4 2743.4 L1251.4 2738M1270.1 2740.4 L1269.2 2734.9M1287.8 2737.9 L1287.2 2732.4M1323.5 2734.7 L1323.2 2729.1M1341.4 2734 L1341.3 2728.4M1359.3 2733.9 L1359.4 2728.3M1377.2 2734.4 L1377.4 2728.9M1412.9 2737.2 L1413.5 2731.7M1430.7 2739.5 L1431.5 2734M1448.3 2742.4 L1449.3 2737M1465.9 2745.9 L1467.1 2740.5M1500.6 2754.6 L1502.1 2749.3M1517.8 2759.9 L1519.5 2754.6M1534.7 2765.7 L1536.6 2760.5M1551.4 2772 L1553.5 2766.9M1584.2 2786.5 L1586.6 2781.5M1600.3 2794.5 L1602.8 2789.6M1616 2803 L1618.7 2798.2M1631.4 2812.1 L1634.3 2807.4M1661.4 2831.8 L1664.6 2827.3M1675.8 2842.4 L1679.2 2838M1689.9 2853.4 L1693.4 2849.1M1703.7 2865 L1707.3 2860.8M1729.9 2889.4 L1733.8 2885.5M1742.4 2902.2 L1746.4 2898.4M1754.5 2915.5 L1758.6 2911.8M1766.1 2929.2 L1770.4 2925.6M1787.9 2957.6 L1792.4 2954.4M1798.1 2972.4 L1802.7 2969.3M1807.8 2987.5 L1812.5 2984.5M1817 3002.9 L1821.8 3000.1M1833.8 3034.6 L1838.7 3032.1M1841.4 3050.8 L1846.4 3048.6M1848.4 3067.3 L1853.5 3065.2M1854.9 3084.1 L1860.1 3082.1M1866.2 3118.1 L1871.5 3116.5M1871 3135.4 L1876.3 3134M1875.2 3152.9 L1880.6 3151.6M1878.8 3170.4 L1884.2 3169.4M1884.3 3205.9 L1889.7 3205.2M1886.1 3223.7 L1891.6 3223.3M1887.3 3241.7 L1892.9 3241.4M1888 3259.6 L1893.5 3259.5M1887.5 3295.5 L1893 3295.7M1886.3 3313.4 L1891.8 3313.8M1884.6 3331.2 L1890.1 3331.9M1882.2 3349 L1887.7 3349.8M1875.8 3384.3 L1881.2 3385.5M1871.7 3401.8 L1877 3403.2M1867 3419.1 L1872.3 3420.7M1861.7 3436.3 L1866.9 3438M1849.4 3470 L1854.6 3472.1M1842.5 3486.5 L1847.5 3488.8M1835 3502.8 L1840 3505.2M1826.9 3518.9 L1831.8 3521.4M1809.3 3550.1 L1814 3553M1799.6 3565.2 L1804.3 3568.3M1789.5 3580 L1794 3583.2M1778.9 3594.5 L1783.3 3597.8M1756.3 3622.3 L1760.5 3625.9M1744.3 3635.6 L1748.4 3639.4M1731.9 3648.5 L1735.8 3652.5M1719 3661 L1722.8 3665.1M1692.1 3684.7 L1695.6 3689M1678.1 3695.8 L1681.4 3700.2M1663.6 3706.5 L1666.9 3711M1648.9 3716.7 L1651.9 3721.3M1618.4 3735.5 L1621.1 3740.3M1602.7 3744.1 L1605.3 3749M1586.7 3752.2 L1589.1 3757.2M1570.5 3759.8 L1572.7 3764.9M1537.3 3773.3 L1539.2 3778.5M1520.4 3779.2 L1522.1 3784.4M1503.3 3784.5 L1504.8 3789.8M1486 3789.2 L1487.4 3794.6M1451.1 3797 L1452.1 3802.4M1433.4 3800 L1434.2 3805.5M1415.7 3802.4 L1416.3 3807.9M1397.8 3804.2 L1398.3 3809.7M1362.1 3806 L1362.2 3811.5M1344.2 3806 L1344.1 3811.5M1326.3 3805.4 L1326 3810.9M1308.4 3804.2 L1307.9 3809.7M1272.8 3800 L1272 3805.4M1255.2 3797 L1254.2 3802.4M1237.6 3793.4 L1236.4 3798.8M1220.2 3789.2 L1218.8 3794.6M1185.8 3779.2 L1184.1 3784.4M1168.9 3773.3 L1167 3778.5M1152.2 3766.8 L1150.1 3771.9M1135.7 3759.8 L1133.5 3764.8M1103.5 3744.1 L1101 3749M1087.8 3735.5 L1085.1 3740.3M1072.4 3726.3 L1069.5 3731M1057.3 3716.6 L1054.3 3721.2M1028.2 3695.8 L1024.8 3700.2M1014.2 3684.7 L1010.6 3688.9M1000.5 3673.1 L996.8 3677.2M987.2 3661 L983.4 3665M961.9 3635.6 L957.9 3639.4M949.9 3622.3 L945.8 3625.9M938.4 3608.5 L934.1 3612M927.3 3594.4 L922.9 3597.8M906.6 3565.2 L902 3568.2M897 3550 L892.3 3552.9M887.9 3534.6 L883.1 3537.3M879.3 3518.8 L874.4 3521.4M863.8 3486.5 L858.7 3488.7M856.8 3469.9 L851.7 3472M850.4 3453.2 L845.2 3455.1M844.6 3436.2 L839.3 3437.9M834.6 3401.7 L829.3 3403.1M830.5 3384.3 L825.1 3385.4" stroke="#1c1c1c" stroke-width="3" fill="none"/>
<path d="M828.1 3372.3 L817.2 3374.4M818.4 3283.2 L807.3 3283.4M823.7 3193.7 L812.7 3192.1M843.7 3106.3 L833.2 3103M878.1 3023.6 L868.2 3018.5M925.7 2947.7 L916.8 2941M985.2 2880.8 L977.6 2872.8M1055 2824.8 L1048.9 2815.6M1133.2 2781.3 L1128.7 2771.2M1217.5 2751.4 L1214.7 2740.7M1305.6 2736 L1304.7 2724.9M1395.1 2735.5 L1395.9 2724.5M1483.3 2750 L1486 2739.2M1568 2779 L1572.4 2768.8M1646.6 2821.7 L1652.6 2812.4M1717 2877 L1724.5 2868.8M1777.2 2943.2 L1786 2936.5M1825.6 3018.6 L1835.4 3013.4M1860.8 3101 L1871.3 3097.5M1881.8 3188.1 L1892.7 3186.4M1888 3277.5 L1899.1 3277.7M1879.3 3366.7 L1890.2 3368.7M1855.8 3453.2 L1866.2 3457M1818.4 3534.6 L1828 3540.1M1767.9 3608.6 L1776.4 3615.6M1705.8 3673.1 L1713 3681.4M1633.8 3726.3 L1639.6 3735.8M1554 3766.8 L1558.2 3777.1M1468.6 3793.4 L1471 3804.2M1380 3805.4 L1380.5 3816.4M1290.6 3802.4 L1289.3 3813.4M1202.9 3784.5 L1199.8 3795.1M1119.5 3752.2 L1114.7 3762.2M1042.6 3706.5 L1036.2 3715.5M974.4 3648.5 L966.5 3656.3M916.7 3580 L907.7 3586.4M871.3 3502.8 L861.3 3507.6M839.3 3419.1 L828.7 3422.1" stroke="#1c1c1c" stroke-width="3" fill="none"/>
<g font-family='"DejaVu Sans", "Liberation Sans", sans-serif' font-size="15.4" fill="#555" text-anchor="middle">
<text transform="translate(803.4 3362.7) rotate(79)" dy="0.35em">0kb</text>
<text transform="translate(795.9 3283.7) rotate(88.6)" dy="0.35em">4kb</text>
<text transform="translate(801.4 3190.5) rotate(-81.8)" dy="0.35em">8kb</text>
<text transform="translate(822.3 3099.5) rotate(-72.2)" dy="0.35em">12kb</text>
<text transform="translate(858.1 3013.2) rotate(-62.6)" dy="0.35em">16kb</text>
<text transform="translate(907.7 2934.1) rotate(-53)" dy="0.35em">20kb</text>
<text transform="translate(969.7 2864.4) rotate(-43.5)" dy="0.35em">24kb</text>
<text transform="translate(1042.5 2806.1) rotate(-33.9)" dy="0.35em">28kb</text>
<text transform="translate(1124 2760.7) rotate(-24.3)" dy="0.35em">32kb</text>
<text transform="translate(1211.8 2729.6) rotate(-14.7)" dy="0.35em">36kb</text>
<text transform="translate(1303.6 2713.5) rotate(-5.1)" dy="0.35em">40kb</text>
<text transform="translate(1396.8 2713) rotate(4.5)" dy="0.35em">44kb</text>
<text transform="translate(1488.8 2728.1) rotate(14.1)" dy="0.35em">48kb</text>
<text transform="translate(1577 2758.3) rotate(23.7)" dy="0.35em">52kb</text>
<text transform="translate(1658.9 2802.8) rotate(33.3)" dy="0.35em">56kb</text>
<text transform="translate(1732.3 2860.4) rotate(42.9)" dy="0.35em">60kb</text>
<text transform="translate(1795.1 2929.5) rotate(52.4)" dy="0.35em">64kb</text>
<text transform="translate(1845.5 3008) rotate(62)" dy="0.35em">68kb</text>
<text transform="translate(1882.2 3093.9) rotate(71.6)" dy="0.35em">72kb</text>
<text transform="translate(1904.1 3184.7) rotate(81.2)" dy="0.35em">76kb</text>
<text transform="translate(1910.5 3277.9) rotate(270.8)" dy="0.35em">80kb</text>
<text transform="translate(1901.4 3370.8) rotate(280.4)" dy="0.35em">84kb</text>
<text transform="translate(1877 3460.9) rotate(290)" dy="0.35em">88kb</text>
<text transform="translate(1837.9 3545.7) rotate(299.6)" dy="0.35em">92kb</text>
<text transform="translate(1785.3 3622.8) rotate(309.2)" dy="0.35em">96kb</text>
<text transform="translate(1720.6 3690.1) rotate(318.8)" dy="0.35em">100kb</text>
<text transform="translate(1645.6 3745.5) rotate(328.4)" dy="0.35em">104kb</text>
<text transform="translate(1562.5 3787.7) rotate(337.9)" dy="0.35em">108kb</text>
<text transform="translate(1473.5 3815.4) rotate(347.5)" dy="0.35em">112kb</text>
<text transform="translate(1381.1 3827.9) rotate(357.1)" dy="0.35em">116kb</text>
<text transform="translate(1287.9 3824.8) rotate(6.7)" dy="0.35em">120kb</text>
<text transform="translate(1196.6 3806.1) rotate(16.3)" dy="0.35em">124kb</text>
<text transform="translate(1109.7 3772.5) rotate(25.9)" dy="0.35em">128kb</text>
<text transform="translate(1029.5 3724.8) rotate(35.5)" dy="0.35em">132kb</text>
<text transform="translate(958.4 3664.4) rotate(45.1)" dy="0.35em">136kb</text>
<text transform="translate(898.4 3593) rotate(54.7)" dy="0.35em">140kb</text>
<text transform="translate(851 3512.6) rotate(64.3)" dy="0.35em">144kb</text>
<text transform="translate(817.7 3425.3) rotate(73.9)" dy="0.35em">148kb</text>
</g>
<polygon points="850,3368.3 844,3311.4 848.7,3310.9 836.9,3280.8 831.7,3312.7 836.5,3312.2 842.5,3369.1" fill="#b9b9b9"/>
<polygon points="769.3,3387.2 784.8,3442.8 780.2,3444.1 796.8,3471.8 796.7,3439.5 792.1,3440.8 776.6,3385.2" fill="#7474a0"/>
<clipPath id="clipB"><ellipse cx="1353.2" cy="3271.3" rx="282.8" ry="283.4"/></clipPath>
<path d="M1029.8 3334.4 A329.4 330.1 0 1 1 1676.5 3334.4 L1601 3319.6 A252.4 253 0 1 0 1105.3 3319.6Z" fill="#00b5ad"/>
<path d="M1676.5 3334.4 A329.4 330.1 0 0 1 1474.5 3578.2 L1446.2 3506.5 A252.4 253 0 0 0 1601 3319.6Z" fill="#68747c"/>
<path d="M1474.5 3578.2 A329.4 330.1 0 0 1 1231.8 3578.2 L1260.1 3506.5 A252.4 253 0 0 0 1446.2 3506.5Z" fill="#8ec6ea"/>
<path d="M1231.8 3578.2 A329.4 330.1 0 0 1 1029.8 3334.4 L1105.3 3319.6 A252.4 253 0 0 0 1260.1 3506.5Z" fill="#68747c"/>
<g clip-path="url(#clipB)">
<path d="M1029.8 3334.4 A329.4 330.1 0 1 1 1676.5 3334.4 L1601 3319.6 A252.4 253 0 1 0 1105.3 3319.6Z" fill="#009e96"/>
<path d="M1676.5 3334.4 A329.4 330.1 0 0 1 1474.5 3578.2 L1446.2 3506.5 A252.4 253 0 0 0 1601 3319.6Z" fill="#263844"/>
<path d="M1474.5 3578.2 A329.4 330.1 0 0 1 1231.8 3578.2 L1260.1 3506.5 A252.4 253 0 0 0 1446.2 3506.5Z" fill="#5ab3e6"/>
<path d="M1231.8 3578.2 A329.4 330.1 0 0 1 1029.8 3334.4 L1105.3 3319.6 A252.4 253 0 0 0 1260.1 3506.5Z" fill="#263844"/>
</g>
<path d="M1270.2 2999.8 A283.4 284 0 0 1 1436.1 2999.8 L1429.5 3021.2 A261 261.6 0 0 0 1276.8 3021.2Z" fill="#00b5ad"/>
<path d="M1437.7 3542.4 A283.4 284 0 0 1 1268.6 3542.4 L1275.3 3521 A261 261.6 0 0 0 1431 3521Z" fill="#8ec6ea"/>
<ellipse cx="1353.2" cy="3271.3" rx="256.5" ry="257" fill="#000"/>
<path id="lscB" d="M1125 3139.3 A263.5 264.1 0 0 1 1581.3 3139.3" fill="none"/>
<text font-family='"Liberation Sans", Arial, Helvetica, sans-serif' font-size="29.2" fill="#042a2c" stroke="#042a2c" stroke-width="0.5" text-anchor="middle"><textPath href="#lscB" startOffset="50%">LSC: 84251</textPath></text>
<path id="sscB" d="M1105 3414.9 A286.5 287.1 0 0 0 1601.3 3414.9" fill="none"/>
<text font-family='"Liberation Sans", Arial, Helvetica, sans-serif' font-size="29.2" fill="#12304c" stroke="#12304c" stroke-width="0.5" text-anchor="middle"><textPath href="#sscB" startOffset="50%">SSC: 18039</textPath></text>
<path id="iraB" d="M1299.9 3584 A316.4 317.1 0 0 0 1649.9 3161.3" fill="none"/>
<text font-family='"Liberation Sans", Arial, Helvetica, sans-serif' font-size="29.2" fill="#e2e5e8" stroke="#e2e5e8" stroke-width="0.5" text-anchor="middle"><textPath href="#iraB" startOffset="50%">IRA: 23928</textPath></text>
<path id="irbB" d="M1056.4 3161.3 A316.4 317.1 0 0 0 1406.4 3584" fill="none"/>
<text font-family='"Liberation Sans", Arial, Helvetica, sans-serif' font-size="29.2" fill="#e2e5e8" stroke="#e2e5e8" stroke-width="0.5" text-anchor="middle"><textPath href="#irbB" startOffset="50%">IRB: 23928</textPath></text>
<g font-family='"Liberation Sans", Arial, Helvetica, sans-serif' font-weight="bold" font-style="italic" fill="#f4f4f4" text-anchor="middle">
<text x="1371.2" y="3135.5" font-size="32.6">Euchresta japonica</text>
<text x="1370.4" y="3174.3" font-size="36.5">chloroplast</text>
<text x="1353.8" y="3229.8" font-size="36.5">Plastid Genome</text>
<text x="1353.5" y="3276.1" font-size="29.3">75 genes; 8 rRNAs; 35 tRNAs</text>
<text x="1346.5" y="3328.9" font-size="29.3">150,146 bp</text>
<text x="1354" y="3384.4" font-size="29.3">GC: 36 %</text>
</g>
<path d="M587.4 3178.6 A771.1 772.8 0 0 1 594.7 3130.8M594.6 3130.8 A771.1 772.8 0 0 1 597.1 3117.8M599.9 3104.5 A771.1 772.8 0 0 1 604.9 3083.3M606.1 3078.3 A771.1 772.8 0 0 1 610.6 3061.8M611 3060.2 A771.1 772.8 0 0 1 618.7 3034.5M619.5 3032.1 A771.1 772.8 0 0 1 623.9 3018.7M649.2 2954.6 A771.1 772.8 0 0 1 699.2 2860.5M699.7 2859.7 A771.1 772.8 0 0 1 753.3 2784.4M755.2 2782 A771.1 772.8 0 0 1 846.3 2687.6M853.8 2681.1 A771.1 772.8 0 0 1 872.3 2665.8M877.2 2661.9 A771.1 772.8 0 0 1 899 2645.4M926.8 2626 A771.1 772.8 0 0 1 934.8 2620.8M936.1 2619.9 A771.1 772.8 0 0 1 972 2598.2M973.4 2597.4 A771.1 772.8 0 0 1 1017 2574.5M1077.1 2548.4 A771.1 772.8 0 0 1 1080.2 2547.2M1159.9 2521.8 A771.1 772.8 0 0 1 1178.1 2517.3M1191.6 2514.3 A771.1 772.8 0 0 1 1194.7 2513.6M1201.4 2512.3 A771.1 772.8 0 0 1 1204.6 2511.6M1294.5 2499.4 A771.1 772.8 0 0 1 1297.7 2499.2M1344.8 2497.2 A771.1 772.8 0 0 1 1375.9 2497.5M1374.6 2497.5 A771.1 772.8 0 0 1 1422.6 2500.3M1446.4 2502.8 A771.1 772.8 0 0 1 1449.6 2503.2M1464.4 2505.2 A771.1 772.8 0 0 1 1467.6 2505.7M1716.4 2588.3 A771.1 772.8 0 0 1 1719.3 2589.8M1764.7 2616.4 A771.1 772.8 0 0 1 1767.4 2618.1M1790.6 2633.5 A771.1 772.8 0 0 1 1830.3 2662.9M1836.3 2667.7 A771.1 772.8 0 0 1 1838.8 2669.7M1843 2673.1 A771.1 772.8 0 0 1 1856.4 2684.4M1867.9 2694.5 A771.1 772.8 0 0 1 1885 2710.4M1889.7 2714.9 A771.1 772.8 0 0 1 1910.6 2736M1979.6 2819.4 A771.1 772.8 0 0 1 1981.5 2822M1983.8 2825.2 A771.1 772.8 0 0 1 1985.6 2827.8M2003.1 2854.1 A771.1 772.8 0 0 1 2004.8 2856.8M2017.7 2878 A771.1 772.8 0 0 1 2019.3 2880.8M2024.6 2890 A771.1 772.8 0 0 1 2029.2 2898.2M2081.4 3015.9 A771.1 772.8 0 0 1 2095.7 3061.7M2098.9 3073.4 A771.1 772.8 0 0 1 2099.7 3076.5M2101.8 3085 A771.1 772.8 0 0 1 2102.6 3088.1M2103.8 3093 A771.1 772.8 0 0 1 2113.4 3140.5M2114.4 3147 A771.1 772.8 0 0 1 2119.3 3182.3M1892.2 3822.6 A771.1 772.8 0 0 1 1889.9 3824.8M1885.1 3829.4 A771.1 772.8 0 0 1 1846.9 3863.5M1842.2 3867.4 A771.1 772.8 0 0 1 1814.5 3889.1M1813.6 3889.8 A771.1 772.8 0 0 1 1790.7 3906.3M1785.7 3909.7 A771.1 772.8 0 0 1 1706.2 3957M1701.1 3959.6 A771.1 772.8 0 0 1 1698.2 3961M1692.6 3963.9 A771.1 772.8 0 0 1 1689.7 3965.3M1685.9 3967.1 A771.1 772.8 0 0 1 1683 3968.5M1546.1 4018.1 A771.1 772.8 0 0 1 1543 4018.9M1531.9 4021.7 A771.1 772.8 0 0 1 1528.7 4022.4M1524.6 4023.4 A771.1 772.8 0 0 1 1496.1 4029.3M1043.8 3977.8 A771.1 772.8 0 0 1 1040.9 3976.5M756.5 3759.5 A771.1 772.8 0 0 1 746.4 3746.8M738.4 3736.4 A771.1 772.8 0 0 1 698.2 3677.9M688.3 3661.4 A771.1 772.8 0 0 1 686.7 3658.6M609.7 3475 A771.1 772.8 0 0 1 607.6 3467.2M607.4 3466.6 A771.1 772.8 0 0 1 596.5 3418.6" fill="none" stroke="#1e1e1e" stroke-width="2.6"/>
<path d="M988.9 2469.8 A877.6 879.5 0 0 1 1017 2457.5M1049.3 2444.8 A877.6 879.5 0 0 1 1073.1 2436.4M1499.5 2402.8 A877.6 879.5 0 0 1 1512.7 2405.1M1516.2 2405.8 A877.6 879.5 0 0 1 1596.7 2425M1597.5 2425.2 A877.6 879.5 0 0 1 1676.7 2452.4M1698.9 2461.6 A877.6 879.5 0 0 1 1765.3 2493.5M2028.4 2708.2 A877.6 879.5 0 0 1 2034.9 2716.1M2119.9 2842.2 A877.6 879.5 0 0 1 2126.6 2854.3M2144.8 2890.3 A877.6 879.5 0 0 1 2174.7 2960.8M2225.7 3175.7 A877.6 879.5 0 0 1 2228.9 3213.2M2229.1 3216 A877.6 879.5 0 0 1 2229.9 3231.8M2230.7 3273 A877.6 879.5 0 0 1 2230.6 3287.9M2230.2 3300.1 A877.6 879.5 0 0 1 2229.6 3314M2229.3 3320.1 A877.6 879.5 0 0 1 2224.2 3377.4M2223.6 3382 A877.6 879.5 0 0 1 2219.4 3410.7M2215.9 3430.7 A877.6 879.5 0 0 1 2214.1 3440.5M2214 3441 A877.6 879.5 0 0 1 2201.4 3495.5M2201.1 3496.5 A877.6 879.5 0 0 1 2198.7 3505.4M2096.1 3738.1 A877.6 879.5 0 0 1 2050.1 3804.4M2041.4 3815.7 A877.6 879.5 0 0 1 2027.1 3833.3M1678.4 4086.8 A877.6 879.5 0 0 1 1599.1 4114.2M1450.6 4144 A877.6 879.5 0 0 1 1439.5 4145.2M1430 4146.1 A877.6 879.5 0 0 1 1417.2 4147.1M1409.8 4147.6 A877.6 879.5 0 0 1 1387.3 4148.8M1377.7 4149.1 A877.6 879.5 0 0 1 1359.4 4149.4" fill="none" stroke="#3a3a3a" stroke-opacity="0.75" stroke-width="1.8"/>
<path d="M491 3438.6 L458.5 3445M486.4 3413 L453.7 3418.4M477.1 3334.6 L468.9 3335.2 C460.6 3335.9 461.3 3345.3 453.1 3346 L444.8 3346.7M476.9 3331.9 L468.7 3332.4 C460.4 3333 459.8 3323.6 451.5 3324.1 L443.2 3324.6M476.5 3214.8 L443.4 3212.7M493.7 3088 L461.3 3081.1M540.2 2936.5 L509.5 2923.9M985.6 2470.4 L982.1 2462.9 C978.6 2455.3 977.4 2455.9 973.9 2448.4 L970.4 2440.8M1002.6 2462.8 L999.3 2455.2 C996 2447.5 997.2 2447 993.9 2439.4 L990.6 2431.8M1060.9 2439.8 L1049.9 2408.4M1081.9 2432.7 L1071.6 2401.1M1218.2 2400.1 L1216.9 2391.9 C1215.6 2383.7 1207.1 2385.1 1205.7 2376.9 L1204.4 2368.7M1235 2397.6 L1233.9 2389.4 C1232.8 2381.2 1228.6 2381.8 1227.4 2373.5 L1226.2 2365.3M1254.1 2395.2 L1253.2 2387 C1252.3 2378.7 1250.1 2379 1249.1 2370.7 L1248.2 2362.5M1258.4 2394.8 L1257.5 2386.5 C1256.6 2378.3 1271.7 2376.8 1270.9 2368.5 L1270.1 2360.2M1445 2394.5 L1448.5 2361.4M1492.4 2400.8 L1493.7 2392.6 C1495 2384.4 1491.4 2383.8 1492.7 2375.6 L1493.9 2367.4M1506.2 2403.1 L1507.7 2394.9 C1509.1 2386.8 1512.8 2387.4 1514.3 2379.2 L1515.7 2371.1M1556.9 2413.6 L1564.5 2381.3M1637.7 2437.1 L1648.4 2405.7M1732.7 2476.1 L1747.1 2446.1M1783.2 2502.4 L1799.5 2473.4M1805.3 2515.2 L1822.4 2486.8M2019.8 2696.7 L2026.1 2691.3 C2032.4 2685.9 2024.7 2677.1 2030.9 2671.6 L2037.2 2666.1M2026.4 2704.5 L2051.6 2682.9M2032.3 2711.6 L2038.7 2706.4 C2045.1 2701.1 2052.6 2710.4 2059.1 2705.2 L2065.6 2700M2074.6 2767.7 L2081.4 2763 C2088.2 2758.2 2084.4 2752.8 2091.1 2748 L2097.9 2743.2M2079.2 2774.5 L2086.1 2769.9 C2092.9 2765.2 2096.7 2770.7 2103.6 2766.1 L2110.4 2761.5M2124 2847.9 L2153.1 2831.9M2161.3 2924.9 L2191.8 2911.9M2203 3047.4 L2235.1 3039M2228.3 3194.4 L2261.3 3191.5M2230.3 3223.9 L2263.4 3222.2M2231.3 3250.5 L2264.5 3249.8M2231.5 3280.5 L2264.6 3280.9M2230.8 3307.1 L2263.9 3308.5M2228 3348.9 L2261 3351.9M2222.4 3396.5 L2255.2 3401.3M2215.8 3435.8 L2248.4 3442.1M2208.9 3468.5 L2241.2 3476M2200.7 3501.1 L2232.7 3509.9M2110.7 3715.5 L2139.3 3732.4M2074.5 3772.2 L2101.8 3791.2M2034.9 3825 L2060.7 3846M1705 4076.6 L1718.2 4107M1639.4 4102.2 L1650.2 4133.6M1445.2 4145.4 L1448.6 4178.5M1423.6 4147.4 L1426.3 4180.5M1398.6 4149.1 L1400.3 4182.3M1368.6 4150.1 L1369.2 4183.3M1312.5 4149.3 L1311 4182.5M1246.9 4143.8 L1242.9 4176.8M1215.2 4139.3 L1210 4172.1M972.4 4063.2 L968.8 4070.7 C965.2 4078.2 975.4 4083.1 971.9 4090.6 L968.4 4098.1M963.4 4058.9 L948.5 4088.5M954 4054.1 L950.2 4061.5 C946.4 4068.9 936.5 4063.8 932.7 4071.1 L928.8 4078.5M901.7 4025.1 L884.6 4053.6M840.1 3984.5 L820.7 4011.4M809.9 3961.7 L789.4 3987.9M767.2 3925.8 L745.1 3950.5M740.9 3901.2 L717.8 3925M590.7 3154.7 L623.5 3159.6M595.9 3124.3 L628.4 3130.6M602.3 3093.9 L634.6 3101.4M608.3 3070 L640.3 3078.6M614.7 3047.4 L646.5 3057M621.7 3025.4 L653.1 3035.9M672.6 2906.7 L701.8 2922.3M725.3 2821.2 L752.3 2840.5M798.8 2732.8 L822.6 2755.9M863 2673.4 L884 2699M888 2653.6 L908 2680.1M930.8 2623.4 L948.9 2651.2M953.9 2608.8 L971.1 2637.2M995 2585.6 L1010.4 2615M1078.6 2547.8 L1090.4 2578.8M1169 2519.5 L1171 2527.6 C1172.9 2535.7 1169.9 2536.4 1171.9 2544.5 L1173.9 2552.5M1193.2 2514 L1194.9 2522.1 C1196.6 2530.2 1191.9 2531.2 1193.7 2539.4 L1195.4 2547.5M1203 2511.9 L1204.6 2520.1 C1206.3 2528.2 1214 2526.7 1215.6 2534.9 L1217.1 2543.1M1296.1 2499.3 L1298.5 2532.4M1360.3 2497.2 L1360 2530.4M1398.6 2498.5 L1396.7 2531.7M1448 2503 L1447 2511.3 C1445.9 2519.5 1443.5 2519.2 1442.5 2527.5 L1441.6 2535.7M1466 2505.5 L1464.8 2513.7 C1463.5 2521.9 1465.9 2522.3 1464.7 2530.5 L1463.5 2538.7M1717.8 2589.1 L1702.2 2618.3M1766 2617.3 L1748.3 2645.3M1810.7 2647.9 L1791 2674.6M1837.6 2668.7 L1832.3 2675.1 C1827.1 2681.6 1824.3 2679.3 1819.2 2685.8 L1814 2692.3M1849.7 2678.7 L1844.4 2685.1 C1839 2691.4 1841.8 2693.7 1836.4 2700.1 L1831 2706.4M1876.5 2702.4 L1854 2726.8M1900.2 2725.3 L1876.7 2748.8M1980.6 2820.7 L1973.8 2825.5 C1967.1 2830.3 1962.5 2824 1955.8 2828.9 L1949.1 2833.8M1984.7 2826.5 L1977.9 2831.3 C1971.1 2836.1 1975.6 2842.5 1968.7 2847.2 L1961.9 2851.9M2003.9 2855.4 L1976 2873.3M2018.5 2879.4 L2011.4 2883.6 C2004.2 2887.8 2002.7 2885.1 1995.5 2889.4 L1988.4 2893.6M2026.9 2894.1 L2019.7 2898.1 C2012.4 2902.2 2013.9 2904.8 2006.6 2908.8 L1999.4 2912.8M2088.9 3038.7 L2057.3 3048.7M2099.3 3075 L2091.3 3077.1 C2083.3 3079.1 2081.9 3073.9 2073.9 3076 L2065.9 3078.2M2102.2 3086.6 L2094.2 3088.5 C2086.1 3090.5 2087.4 3095.8 2079.3 3097.7 L2071.3 3099.6M2108.9 3116.7 L2076.4 3123.3M2117.1 3164.6 L2084.2 3169.1M1891 3823.7 L1867.9 3799.9M1866.3 3846.8 L1844.2 3822M1828.5 3878.4 L1808.1 3852.3M1802.2 3898.2 L1782.9 3871.2M1746.7 3934.5 L1729.8 3906M1699.7 3960.3 L1696 3952.9 C1692.2 3945.5 1704.6 3939.1 1700.8 3931.7 L1696.9 3924.4M1691.1 3964.6 L1687.5 3957.1 C1683.8 3949.6 1684.5 3949.3 1680.8 3941.9 L1677.2 3934.4M1684.4 3967.8 L1680.9 3960.3 C1677.3 3952.8 1664 3959 1660.6 3951.4 L1657.2 3943.8M1544.6 4018.5 L1542.5 4010.5 C1540.5 4002.5 1546.6 4000.8 1544.5 3992.8 L1542.4 3984.8M1530.3 4022.1 L1528.4 4014 C1526.5 4005.9 1524.7 4006.3 1522.8 3998.2 L1520.9 3990.1M1510.4 4026.5 L1508.7 4018.4 C1507 4010.2 1502.6 4011.1 1501 4003 L1499.3 3994.9M1042.3 3977.2 L1055.7 3946.8M751.4 3753.2 L777.3 3732.4M717.6 3707.6 L744.9 3688.8M687.5 3660 L716.1 3643.2M608.6 3471.1 L640.6 3462.4M601.6 3442.7 L633.9 3435.3" fill="none" stroke="#262626" stroke-width="2.7"/>
<g font-family='"Liberation Sans", Arial, Helvetica, sans-serif' font-size="22.2" fill="#3a3a3a" stroke="#3a3a3a" stroke-width="0.35">
<text transform="translate(455.5 3445.6) rotate(-11)" text-anchor="end" dy="0.35em">trnH</text>
<text transform="translate(450.7 3418.9) rotate(-9.4)" text-anchor="end" dy="0.35em">psbA (0.72)</text>
<text transform="translate(441.8 3346.9) rotate(-4.8)" text-anchor="end" dy="0.35em">matK (0.49)</text>
<text transform="translate(440.2 3324.8) rotate(-3.4)" text-anchor="end" dy="0.35em">trnK</text>
<text transform="translate(440.4 3212.5) rotate(3.6)" text-anchor="end" dy="0.35em">rbcL (0.54)</text>
<text transform="translate(458.3 3080.5) rotate(11.9)" text-anchor="end" dy="0.35em">trnM</text>
<text transform="translate(506.7 2922.7) rotate(22.3)" text-anchor="end" dy="0.35em">trnC</text>
<text transform="translate(969.2 2438.1) rotate(65.2)" text-anchor="end" dy="0.35em">trnR</text>
<text transform="translate(989.4 2429) rotate(66.6)" text-anchor="end" dy="0.35em">trnG</text>
<text transform="translate(1048.9 2405.6) rotate(70.6)" text-anchor="end" dy="0.35em">rps4 (0.65)</text>
<text transform="translate(1070.7 2398.2) rotate(72)" text-anchor="end" dy="0.35em">trnT</text>
<text transform="translate(1203.9 2365.7) rotate(80.6)" text-anchor="end" dy="0.35em">psbM (0.43)</text>
<text transform="translate(1225.8 2362.3) rotate(82)" text-anchor="end" dy="0.35em">trnD</text>
<text transform="translate(1247.8 2359.5) rotate(83.4)" text-anchor="end" dy="0.35em">trnY</text>
<text transform="translate(1269.9 2357.2) rotate(84.8)" text-anchor="end" dy="0.35em">trnE</text>
<text transform="translate(1448.8 2358.4) rotate(-84)" dy="0.35em">trnS</text>
<text transform="translate(1494.4 2364.4) rotate(-81.1)" dy="0.35em">trnfM</text>
<text transform="translate(1516.3 2368.1) rotate(-79.7)" dy="0.35em">rps14 (0.5)</text>
<text transform="translate(1565.2 2378.4) rotate(-76.6)" dy="0.35em">psaB (0.5)</text>
<text transform="translate(1649.4 2402.8) rotate(-71.1)" dy="0.35em">psaA (0.51)</text>
<text transform="translate(1748.4 2443.4) rotate(-64.4)" dy="0.35em">ycf3 (0.8)</text>
<text transform="translate(1800.9 2470.8) rotate(-60.7)" dy="0.35em">psbI (0.82)</text>
<text transform="translate(1824 2484.2) rotate(-59)" dy="0.35em">psbK (0.36)</text>
<text transform="translate(2039.4 2664.1) rotate(-41.4)" dy="0.35em">psbJ (0.84)</text>
<text transform="translate(2053.9 2681) rotate(-40)" dy="0.35em">psbF (0.45)</text>
<text transform="translate(2067.9 2698.2) rotate(-38.6)" dy="0.35em">psbE (0.57)</text>
<text transform="translate(2100.4 2741.5) rotate(-35.2)" dy="0.35em">trnW</text>
<text transform="translate(2112.9 2759.8) rotate(-33.8)" dy="0.35em">trnP</text>
<text transform="translate(2155.7 2830.5) rotate(-28.7)" dy="0.35em">rpl20 (0.67)</text>
<text transform="translate(2194.5 2910.7) rotate(-23.1)" dy="0.35em">clpP (0.64)</text>
<text transform="translate(2238 3038.2) rotate(-14.6)" dy="0.35em">psbN (0.6)</text>
<text transform="translate(2264.3 3191.2) rotate(-4.9)" dy="0.35em">rpoA (0.64)</text>
<text transform="translate(2266.5 3222) rotate(-3)" dy="0.35em">rps11 (0.51)</text>
<text transform="translate(2267.5 3249.7) rotate(-1.3)" dy="0.35em">rpl36 (−0.04)</text>
<text transform="translate(2267.6 3280.9) rotate(0.7)" dy="0.35em">rps8 (0.51)</text>
<text transform="translate(2266.9 3308.6) rotate(2.4)" dy="0.35em">rpl14 (0.55)</text>
<text transform="translate(2264 3352.1) rotate(5.1)" dy="0.35em">rpl16 (0.55)</text>
<text transform="translate(2258.2 3401.7) rotate(8.3)" dy="0.35em">rps3 (0.26)</text>
<text transform="translate(2251.3 3442.6) rotate(10.9)" dy="0.35em">rps19 (0.72)</text>
<text transform="translate(2244.1 3476.7) rotate(13)" dy="0.35em">rpl2 (0.49)</text>
<text transform="translate(2235.6 3510.6) rotate(15.2)" dy="0.35em">rpl23 (0.66)</text>
<text transform="translate(2141.9 3733.9) rotate(30.4)" dy="0.35em">trnL</text>
<text transform="translate(2104.2 3792.9) rotate(34.8)" dy="0.35em">ndhB (0.57)</text>
<text transform="translate(2063 3847.9) rotate(39.1)" dy="0.35em">rps7 (0.58)</text>
<text transform="translate(1719.4 4109.8) rotate(66.4)" dy="0.35em">trnN</text>
<text transform="translate(1651.2 4136.5) rotate(71)" dy="0.35em">ndhF (0.61)</text>
<text transform="translate(1449 4181.5) rotate(84)" dy="0.35em">psaC (0.85)</text>
<text transform="translate(1426.5 4183.5) rotate(85.4)" dy="0.35em">ndhE (0.52)</text>
<text transform="translate(1400.4 4185.3) rotate(87)" dy="0.35em">ndhG (0.63)</text>
<text transform="translate(1369.2 4186.4) rotate(89)" dy="0.35em">ndhI (0.52)</text>
<text transform="translate(1310.8 4185.5) rotate(-87.3)" text-anchor="end" dy="0.35em">ndhA (0.53)</text>
<text transform="translate(1242.5 4179.8) rotate(-83.1)" text-anchor="end" dy="0.35em">ndhH (0.51)</text>
<text transform="translate(1209.5 4175.1) rotate(-81)" text-anchor="end" dy="0.35em">rps15 (0.54)</text>
<text transform="translate(967.2 4100.9) rotate(-65)" text-anchor="end" dy="0.35em">trnR</text>
<text transform="translate(947.2 4091.3) rotate(-63.6)" text-anchor="end" dy="0.35em">rrn5</text>
<text transform="translate(927.4 4081.1) rotate(-62.3)" text-anchor="end" dy="0.35em">rrn4.5</text>
<text transform="translate(883.1 4056.2) rotate(-59.1)" text-anchor="end" dy="0.35em">rrn23</text>
<text transform="translate(818.9 4013.9) rotate(-54.3)" text-anchor="end" dy="0.35em">trnA</text>
<text transform="translate(787.6 3990.2) rotate(-51.8)" text-anchor="end" dy="0.35em">trnI</text>
<text transform="translate(743.1 3952.8) rotate(-48.2)" text-anchor="end" dy="0.35em">rrn16</text>
<text transform="translate(715.7 3927.1) rotate(-45.8)" text-anchor="end" dy="0.35em">trnV</text>
<text transform="translate(626.4 3160.1) rotate(8.6)" dy="0.35em">atpB (0.51)</text>
<text transform="translate(631.4 3131.1) rotate(10.9)" dy="0.35em">atpE (0.43)</text>
<text transform="translate(637.5 3102.1) rotate(13.2)" dy="0.35em">trnV</text>
<text transform="translate(643.2 3079.4) rotate(15)" dy="0.35em">ndhC (0.55)</text>
<text transform="translate(649.3 3057.8) rotate(16.7)" dy="0.35em">ndhK (0.54)</text>
<text transform="translate(656 3036.8) rotate(18.5)" dy="0.35em">ndhJ (0.53)</text>
<text transform="translate(704.5 2923.7) rotate(28)" dy="0.35em">rpoB (0.52)</text>
<text transform="translate(754.8 2842.3) rotate(35.5)" dy="0.35em">rpoC1 (0.49)</text>
<text transform="translate(824.8 2758) rotate(44)" dy="0.35em">rpoC2 (0.5)</text>
<text transform="translate(886 2701.4) rotate(50.5)" dy="0.35em">rps2 (0.51)</text>
<text transform="translate(909.8 2682.5) rotate(52.9)" dy="0.35em">atpI (0.62)</text>
<text transform="translate(950.6 2653.7) rotate(56.8)" dy="0.35em">atpH (0.51)</text>
<text transform="translate(972.6 2639.8) rotate(58.8)" dy="0.35em">atpF (0.51)</text>
<text transform="translate(1011.8 2617.7) rotate(62.3)" dy="0.35em">atpA (0.55)</text>
<text transform="translate(1091.5 2581.7) rotate(69.1)" dy="0.35em">trnS</text>
<text transform="translate(1174.7 2555.5) rotate(75.9)" dy="0.35em">trnL</text>
<text transform="translate(1196.1 2550.4) rotate(77.7)" dy="0.35em">trnF</text>
<text transform="translate(1217.7 2546) rotate(79.4)" dy="0.35em">petN (0.67)</text>
<text transform="translate(1298.7 2535.4) rotate(85.8)" dy="0.35em">trnT</text>
<text transform="translate(1360 2533.4) rotate(-89.5)" text-anchor="end" dy="0.35em">psbD (0.52)</text>
<text transform="translate(1396.5 2534.7) rotate(-86.6)" text-anchor="end" dy="0.35em">psbC (0.85)</text>
<text transform="translate(1441.2 2538.7) rotate(-83.1)" text-anchor="end" dy="0.35em">psbZ (0.57)</text>
<text transform="translate(1463 2541.7) rotate(-81.4)" text-anchor="end" dy="0.35em">trnG</text>
<text transform="translate(1700.7 2621) rotate(-61.8)" text-anchor="end" dy="0.35em">trnS</text>
<text transform="translate(1746.7 2647.9) rotate(-57.6)" text-anchor="end" dy="0.35em">trnQ</text>
<text transform="translate(1789.2 2677.1) rotate(-53.6)" text-anchor="end" dy="0.35em">accD (0.54)</text>
<text transform="translate(1812.1 2694.7) rotate(-51.4)" text-anchor="end" dy="0.35em">psaI (0.42)</text>
<text transform="translate(1829.1 2708.7) rotate(-49.6)" text-anchor="end" dy="0.35em">ycf4 (0.56)</text>
<text transform="translate(1851.9 2729) rotate(-47.3)" text-anchor="end" dy="0.35em">cemA (0.71)</text>
<text transform="translate(1874.6 2750.9) rotate(-44.8)" text-anchor="end" dy="0.35em">petA (0.51)</text>
<text transform="translate(1946.7 2835.6) rotate(-36.1)" text-anchor="end" dy="0.35em">petL (0.5)</text>
<text transform="translate(1959.4 2853.6) rotate(-34.4)" text-anchor="end" dy="0.35em">petG (0.55)</text>
<text transform="translate(1973.4 2874.9) rotate(-32.4)" text-anchor="end" dy="0.35em">psaJ (0.55)</text>
<text transform="translate(1985.8 2895.1) rotate(-30.6)" text-anchor="end" dy="0.35em">rpl33 (0.26)</text>
<text transform="translate(1996.7 2914.3) rotate(-28.9)" text-anchor="end" dy="0.35em">rps18 (0.83)</text>
<text transform="translate(2054.4 3049.6) rotate(-17.4)" text-anchor="end" dy="0.35em">psbB (0.52)</text>
<text transform="translate(2063 3079) rotate(-15)" text-anchor="end" dy="0.35em">psbT (0.47)</text>
<text transform="translate(2068.3 3100.3) rotate(-13.3)" text-anchor="end" dy="0.35em">psbH (0.53)</text>
<text transform="translate(2073.5 3123.9) rotate(-11.4)" text-anchor="end" dy="0.35em">petB (0.46)</text>
<text transform="translate(2081.2 3169.5) rotate(-7.8)" text-anchor="end" dy="0.35em">petD (0.45)</text>
<text transform="translate(1865.8 3797.7) rotate(45.8)" text-anchor="end" dy="0.35em">trnV</text>
<text transform="translate(1842.2 3819.7) rotate(48.3)" text-anchor="end" dy="0.35em">rrn16</text>
<text transform="translate(1806.2 3849.9) rotate(51.9)" text-anchor="end" dy="0.35em">trnI</text>
<text transform="translate(1781.2 3868.7) rotate(54.4)" text-anchor="end" dy="0.35em">trnA</text>
<text transform="translate(1728.2 3903.4) rotate(59.3)" text-anchor="end" dy="0.35em">rrn23</text>
<text transform="translate(1695.5 3921.7) rotate(62.2)" text-anchor="end" dy="0.35em">rrn4.5</text>
<text transform="translate(1675.9 3931.7) rotate(64)" text-anchor="end" dy="0.35em">rrn5</text>
<text transform="translate(1656 3941.1) rotate(65.7)" text-anchor="end" dy="0.35em">trnR</text>
<text transform="translate(1541.6 3981.9) rotate(75.1)" text-anchor="end" dy="0.35em">rpl32 (−0.76)</text>
<text transform="translate(1520.2 3987.2) rotate(76.9)" text-anchor="end" dy="0.35em">trnL</text>
<text transform="translate(1498.7 3991.9) rotate(78.6)" text-anchor="end" dy="0.35em">ccsA (0.6)</text>
<text transform="translate(1056.9 3944) rotate(-66.2)" dy="0.35em">trnN</text>
<text transform="translate(779.6 3730.5) rotate(-38.7)" dy="0.35em">rps7 (−0.22)</text>
<text transform="translate(747.4 3687.1) rotate(-34.5)" dy="0.35em">ndhB (0.78)</text>
<text transform="translate(718.7 3641.7) rotate(-30.3)" dy="0.35em">trnL</text>
<text transform="translate(643.5 3461.6) rotate(-15.1)" dy="0.35em">rpl23 (0.48)</text>
<text transform="translate(636.8 3434.6) rotate(-12.9)" dy="0.35em">rpl2 (0.59)</text>
</g>
<g font-family='"Liberation Sans", Arial, Helvetica, sans-serif' font-size="25.85" fill="#3a3a3a" stroke="#3a3a3a" stroke-width="0.3">
<rect x="27" y="1725" width="20.5" height="16" fill="#0a6937" stroke="#042815" stroke-width="3" stroke-opacity="1"/>
<text x="71.5" y="1741.6">photosystem I</text>
<rect x="27" y="1757.2" width="20.5" height="16" fill="#0a910a" stroke="#043704" stroke-width="3" stroke-opacity="1"/>
<text x="71.5" y="1773.8">photosystem II</text>
<rect x="27" y="1789.3" width="20.5" height="16" fill="#7da514" stroke="#303f08" stroke-width="3" stroke-opacity="1"/>
<text x="71.5" y="1805.9">cytochrome b/f complex</text>
<rect x="27" y="1821.5" width="20.5" height="16" fill="#96c828" stroke="#394c0f" stroke-width="3" stroke-opacity="1"/>
<text x="71.5" y="1838">ATP synthesis</text>
<rect x="27" y="1853.6" width="20.5" height="16" fill="#ffee30" stroke="#615a12" stroke-width="3" stroke-opacity="1"/>
<text x="71.5" y="1870.2">NADH dehydrogenase</text>
<rect x="27" y="1885.8" width="20.5" height="16" fill="#0aa63a" stroke="#043f16" stroke-width="3" stroke-opacity="1"/>
<text x="71.5" y="1902.3">RubisCO larg subunit</text>
<rect x="27" y="1917.9" width="20.5" height="16" fill="#d42a20" stroke="#51100c" stroke-width="3" stroke-opacity="1"/>
<text x="71.5" y="1934.5">RNA polymerase</text>
<rect x="27" y="1950" width="20.5" height="16" fill="#f0b880" stroke="#5b4631" stroke-width="3" stroke-opacity="1"/>
<text x="71.5" y="1966.6">small ribosomal protein</text>
<rect x="27" y="1982.2" width="20.5" height="16" fill="#ba8a50" stroke="#47341e" stroke-width="3" stroke-opacity="1"/>
<text x="71.5" y="1998.8">large ribosomal protein</text>
<rect x="27" y="2014.3" width="20.5" height="16" fill="#ff6a1e" stroke="#61280b" stroke-width="3" stroke-opacity="1"/>
<text x="71.5" y="2030.9">clpP, matK, infA</text>
<rect x="27" y="2046.5" width="20.5" height="16" fill="#30c8b8" stroke="#124c46" stroke-width="3" stroke-opacity="1"/>
<text x="71.5" y="2063.1">hypothetical reading frame</text>
<rect x="27" y="2078.7" width="20.5" height="16" fill="#0a2896" stroke="#040f39" stroke-width="3" stroke-opacity="1"/>
<text x="71.5" y="2095.2">transfer RNA</text>
<rect x="27" y="2110.8" width="20.5" height="16" fill="#ff3322" stroke="#61130d" stroke-width="3" stroke-opacity="1"/>
<text x="71.5" y="2127.4">ribosomal RNA</text>
<rect x="27" y="2142.9" width="20.5" height="16" fill="#8c8c8c" stroke="#353535" stroke-width="3" stroke-opacity="1"/>
<text x="71.5" y="2159.5">other</text>
</g>
<g font-family='"Liberation Sans", Arial, Helvetica, sans-serif' font-size="25.85" fill="#3a3a3a" stroke="#3a3a3a" stroke-width="0.3">
<rect x="52.7" y="3920.4" width="20.5" height="16" fill="#0a6937" stroke="#042815" stroke-width="3" stroke-opacity="1"/>
<text x="97.2" y="3937">photosystem I</text>
<rect x="52.7" y="3952.2" width="20.5" height="16" fill="#0a910a" stroke="#043704" stroke-width="3" stroke-opacity="1"/>
<text x="97.2" y="3968.8">photosystem II</text>
<rect x="52.7" y="3984" width="20.5" height="16" fill="#7da514" stroke="#303f08" stroke-width="3" stroke-opacity="1"/>
<text x="97.2" y="4000.6">cytochrome b/f complex</text>
<rect x="52.7" y="4015.8" width="20.5" height="16" fill="#96c828" stroke="#394c0f" stroke-width="3" stroke-opacity="1"/>
<text x="97.2" y="4032.4">ATP synthesis</text>
<rect x="52.7" y="4047.6" width="20.5" height="16" fill="#ffee30" stroke="#615a12" stroke-width="3" stroke-opacity="1"/>
<text x="97.2" y="4064.2">NADH dehydrogenase</text>
<rect x="52.7" y="4079.4" width="20.5" height="16" fill="#0aa63a" stroke="#043f16" stroke-width="3" stroke-opacity="1"/>
<text x="97.2" y="4096">RubisCO larg subunit</text>
<rect x="52.7" y="4111.2" width="20.5" height="16" fill="#d42a20" stroke="#51100c" stroke-width="3" stroke-opacity="1"/>
<text x="97.2" y="4127.8">RNA polymerase</text>
<rect x="52.7" y="4143" width="20.5" height="16" fill="#f0b880" stroke="#5b4631" stroke-width="3" stroke-opacity="1"/>
<text x="97.2" y="4159.6">small ribosomal protein</text>
<rect x="52.7" y="4174.8" width="20.5" height="16" fill="#ba8a50" stroke="#47341e" stroke-width="3" stroke-opacity="1"/>
<text x="97.2" y="4191.4">large ribosomal protein</text>
<rect x="52.7" y="4206.6" width="20.5" height="16" fill="#ff6a1e" stroke="#61280b" stroke-width="3" stroke-opacity="1"/>
<text x="97.2" y="4223.2">clpP, matK, infA</text>
<rect x="52.7" y="4238.4" width="20.5" height="16" fill="#30c8b8" stroke="#124c46" stroke-width="3" stroke-opacity="1"/>
<text x="97.2" y="4255">hypothetical reading frame</text>
<rect x="52.7" y="4270.2" width="20.5" height="16" fill="#0a2896" stroke="#040f39" stroke-width="3" stroke-opacity="1"/>
<text x="97.2" y="4286.8">transfer RNA</text>
<rect x="52.7" y="4302" width="20.5" height="16" fill="#ff3322" stroke="#61130d" stroke-width="3" stroke-opacity="1"/>
<text x="97.2" y="4318.6">ribosomal RNA</text>
<rect x="52.7" y="4333.8" width="20.5" height="16" fill="#8c8c8c" stroke="#353535" stroke-width="3" stroke-opacity="1"/>
<text x="97.2" y="4350.4">other</text>
</g>
<g font-family='"Liberation Serif", "Noto Serif CJK SC", serif' font-weight="bold" font-size="57" fill="#000">
<text y="2125"><tspan x="2230.3" font-size="50">（</tspan><tspan x="2284.6" y="2126.2">A</tspan><tspan x="2335" y="2125" font-size="50">）</tspan></text>
<text y="4277.9"><tspan x="2214" font-size="50">（</tspan><tspan x="2268.8" y="4280.2">B</tspan><tspan x="2315.2" y="4277.9" font-size="50">）</tspan></text>
</g>
</svg></body></html>
